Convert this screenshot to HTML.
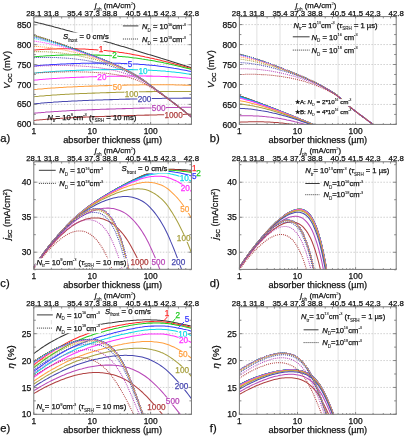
<!DOCTYPE html><html><head><meta charset="utf-8"><style>html,body{margin:0;padding:0;background:#fff;}svg{display:block;will-change:transform;}</style></head><body>
<svg width="404" height="436" viewBox="0 0 404 436" font-family='"Liberation Sans", sans-serif'>
<rect width="404" height="436" fill="#fff"/>
<line x1="51.38" y1="16.80" x2="51.38" y2="124.30" stroke="#d8d8d8" stroke-width="0.8"/>
<line x1="74.63" y1="16.80" x2="74.63" y2="124.30" stroke="#d8d8d8" stroke-width="0.8"/>
<line x1="92.21" y1="16.80" x2="92.21" y2="124.30" stroke="#d8d8d8" stroke-width="0.8"/>
<line x1="109.79" y1="16.80" x2="109.79" y2="124.30" stroke="#d8d8d8" stroke-width="0.8"/>
<line x1="133.04" y1="16.80" x2="133.04" y2="124.30" stroke="#d8d8d8" stroke-width="0.8"/>
<line x1="150.62" y1="16.80" x2="150.62" y2="124.30" stroke="#d8d8d8" stroke-width="0.8"/>
<line x1="168.21" y1="16.80" x2="168.21" y2="124.30" stroke="#d8d8d8" stroke-width="0.8"/>
<line x1="33.80" y1="104.39" x2="191.45" y2="104.39" stroke="#c4c4c4" stroke-width="0.8" stroke-dasharray="1.5,1.5"/>
<line x1="33.80" y1="84.49" x2="191.45" y2="84.49" stroke="#c4c4c4" stroke-width="0.8" stroke-dasharray="1.5,1.5"/>
<line x1="33.80" y1="64.58" x2="191.45" y2="64.58" stroke="#c4c4c4" stroke-width="0.8" stroke-dasharray="1.5,1.5"/>
<line x1="33.80" y1="44.67" x2="191.45" y2="44.67" stroke="#c4c4c4" stroke-width="0.8" stroke-dasharray="1.5,1.5"/>
<line x1="33.80" y1="24.76" x2="191.45" y2="24.76" stroke="#c4c4c4" stroke-width="0.8" stroke-dasharray="1.5,1.5"/>
<defs><clipPath id="cp0"><rect x="33.80" y="16.80" width="157.65" height="107.50"/></clipPath></defs>
<g clip-path="url(#cp0)">
<path d="M33.8,21.8 35.4,22.2 37.0,22.6 38.6,23.0 40.2,23.3 41.8,23.7 43.4,24.1 44.9,24.5 46.5,24.9 48.1,25.3 49.7,25.7 51.3,26.1 52.9,26.5 54.5,27.0 56.1,27.4 57.7,27.8 59.3,28.2 60.9,28.7 62.5,29.1 64.1,29.5 65.6,30.0 67.2,30.4 68.8,30.8 70.4,31.3 72.0,31.7 73.6,32.2 75.2,32.6 76.8,33.1 78.4,33.5 80.0,34.0 81.6,34.4 83.2,34.9 84.8,35.3 86.3,35.8 87.9,36.3 89.5,36.7 91.1,37.2 92.7,37.7 94.3,38.1 95.9,38.6 97.5,39.1 99.1,39.5 100.7,40.0 102.3,40.5 103.9,40.9 105.5,41.4 107.1,41.9 108.6,42.4 110.2,42.8 111.8,43.3 113.4,43.8 115.0,44.3 116.6,44.7 118.2,45.2 119.8,45.7 121.4,46.2 123.0,46.6 124.6,47.1 126.2,47.6 127.8,48.1 129.3,48.6 130.9,49.0 132.5,49.5 134.1,50.0 135.7,50.5 137.3,51.0 138.9,51.4 140.5,51.9 142.1,52.4 143.7,52.9 145.3,53.4 146.9,53.9 148.5,54.4 150.0,54.8 151.6,55.3 153.2,55.8 154.8,56.3 156.4,56.8 158.0,57.3 159.6,57.8 161.2,58.3 162.8,58.7 164.4,59.2 166.0,59.7 167.6,60.2 169.2,60.7 170.7,61.2 172.3,61.7 173.9,62.2 175.5,62.7 177.1,63.2 178.7,63.7 180.3,64.2 181.9,64.7 183.5,65.2 185.1,65.7 186.7,66.2 188.3,66.7 189.9,67.2 191.4,67.7" fill="none" stroke="#383838" stroke-width="1.05"/>
<path d="M33.8,50.0 35.4,49.9 37.0,49.8 38.6,49.7 40.2,49.6 41.8,49.5 43.4,49.4 44.9,49.3 46.5,49.2 48.1,49.1 49.7,49.1 51.3,49.0 52.9,49.0 54.5,48.9 56.1,48.9 57.7,48.8 59.3,48.8 60.9,48.8 62.5,48.8 64.1,48.7 65.6,48.7 67.2,48.7 68.8,48.7 70.4,48.7 72.0,48.8 73.6,48.8 75.2,48.8 76.8,48.8 78.4,48.9 80.0,48.9 81.6,49.0 83.2,49.0 84.8,49.1 86.3,49.2 87.9,49.3 89.5,49.4 91.1,49.5 92.7,49.6 94.3,49.7 95.9,49.8 97.5,49.9 99.1,50.0 100.7,50.2 102.3,50.3 103.9,50.5 105.5,50.6 107.1,50.8 108.6,51.0 110.2,51.1 111.8,51.3 113.4,51.5 115.0,51.7 116.6,51.9 118.2,52.1 119.8,52.4 121.4,52.6 123.0,52.8 124.6,53.1 126.2,53.3 127.8,53.6 129.3,53.8 130.9,54.1 132.5,54.4 134.1,54.7 135.7,55.0 137.3,55.3 138.9,55.6 140.5,55.9 142.1,56.2 143.7,56.5 145.3,56.9 146.9,57.2 148.5,57.5 150.0,57.9 151.6,58.2 153.2,58.6 154.8,59.0 156.4,59.3 158.0,59.7 159.6,60.1 161.2,60.5 162.8,60.9 164.4,61.3 166.0,61.7 167.6,62.1 169.2,62.5 170.7,62.9 172.3,63.3 173.9,63.7 175.5,64.2 177.1,64.6 178.7,65.0 180.3,65.5 181.9,65.9 183.5,66.3 185.1,66.8 186.7,67.2 188.3,67.7 189.9,68.1 191.4,68.6" fill="none" stroke="#ff2a2a" stroke-width="1.05"/>
<path d="M33.8,56.8 35.4,56.7 37.0,56.5 38.6,56.4 40.2,56.3 41.8,56.2 43.4,56.1 44.9,55.9 46.5,55.8 48.1,55.7 49.7,55.7 51.3,55.6 52.9,55.5 54.5,55.4 56.1,55.3 57.7,55.3 59.3,55.2 60.9,55.1 62.5,55.1 64.1,55.0 65.6,55.0 67.2,55.0 68.8,54.9 70.4,54.9 72.0,54.9 73.6,54.8 75.2,54.8 76.8,54.8 78.4,54.8 80.0,54.8 81.6,54.8 83.2,54.8 84.8,54.8 86.3,54.8 87.9,54.8 89.5,54.9 91.1,54.9 92.7,54.9 94.3,55.0 95.9,55.0 97.5,55.1 99.1,55.1 100.7,55.2 102.3,55.3 103.9,55.3 105.5,55.4 107.1,55.5 108.6,55.6 110.2,55.7 111.8,55.8 113.4,55.9 115.0,56.0 116.6,56.1 118.2,56.2 119.8,56.4 121.4,56.5 123.0,56.7 124.6,56.8 126.2,57.0 127.8,57.1 129.3,57.3 130.9,57.5 132.5,57.7 134.1,57.9 135.7,58.1 137.3,58.3 138.9,58.5 140.5,58.7 142.1,59.0 143.7,59.2 145.3,59.5 146.9,59.7 148.5,60.0 150.0,60.2 151.6,60.5 153.2,60.8 154.8,61.1 156.4,61.4 158.0,61.7 159.6,62.0 161.2,62.3 162.8,62.6 164.4,63.0 166.0,63.3 167.6,63.6 169.2,64.0 170.7,64.3 172.3,64.7 173.9,65.1 175.5,65.4 177.1,65.8 178.7,66.2 180.3,66.6 181.9,67.0 183.5,67.4 185.1,67.8 186.7,68.2 188.3,68.6 189.9,69.0 191.4,69.4" fill="none" stroke="#22cc22" stroke-width="1.05"/>
<path d="M33.8,66.0 35.4,65.9 37.0,65.7 38.6,65.6 40.2,65.5 41.8,65.3 43.4,65.2 44.9,65.1 46.5,65.0 48.1,64.9 49.7,64.7 51.3,64.6 52.9,64.5 54.5,64.4 56.1,64.4 57.7,64.3 59.3,64.2 60.9,64.1 62.5,64.0 64.1,63.9 65.6,63.9 67.2,63.8 68.8,63.7 70.4,63.7 72.0,63.6 73.6,63.6 75.2,63.5 76.8,63.5 78.4,63.4 80.0,63.4 81.6,63.3 83.2,63.3 84.8,63.3 86.3,63.2 87.9,63.2 89.5,63.2 91.1,63.2 92.7,63.1 94.3,63.1 95.9,63.1 97.5,63.1 99.1,63.1 100.7,63.1 102.3,63.1 103.9,63.1 105.5,63.1 107.1,63.1 108.6,63.1 110.2,63.2 111.8,63.2 113.4,63.2 115.0,63.2 116.6,63.3 118.2,63.3 119.8,63.3 121.4,63.4 123.0,63.4 124.6,63.5 126.2,63.6 127.8,63.6 129.3,63.7 130.9,63.8 132.5,63.9 134.1,63.9 135.7,64.0 137.3,64.1 138.9,64.2 140.5,64.4 142.1,64.5 143.7,64.6 145.3,64.7 146.9,64.9 148.5,65.0 150.0,65.2 151.6,65.3 153.2,65.5 154.8,65.6 156.4,65.8 158.0,66.0 159.6,66.2 161.2,66.4 162.8,66.6 164.4,66.8 166.0,67.0 167.6,67.3 169.2,67.5 170.7,67.7 172.3,68.0 173.9,68.3 175.5,68.5 177.1,68.8 178.7,69.1 180.3,69.4 181.9,69.7 183.5,70.0 185.1,70.3 186.7,70.6 188.3,70.9 189.9,71.2 191.4,71.6" fill="none" stroke="#3a3aff" stroke-width="1.05"/>
<path d="M33.8,73.1 35.4,72.9 37.0,72.8 38.6,72.6 40.2,72.5 41.8,72.4 43.4,72.2 44.9,72.1 46.5,72.0 48.1,71.9 49.7,71.8 51.3,71.7 52.9,71.5 54.5,71.4 56.1,71.3 57.7,71.3 59.3,71.2 60.9,71.1 62.5,71.0 64.1,70.9 65.6,70.8 67.2,70.7 68.8,70.7 70.4,70.6 72.0,70.5 73.6,70.4 75.2,70.4 76.8,70.3 78.4,70.3 80.0,70.2 81.6,70.1 83.2,70.1 84.8,70.0 86.3,70.0 87.9,69.9 89.5,69.9 91.1,69.9 92.7,69.8 94.3,69.8 95.9,69.8 97.5,69.7 99.1,69.7 100.7,69.7 102.3,69.6 103.9,69.6 105.5,69.6 107.1,69.6 108.6,69.6 110.2,69.5 111.8,69.5 113.4,69.5 115.0,69.5 116.6,69.5 118.2,69.5 119.8,69.5 121.4,69.5 123.0,69.5 124.6,69.5 126.2,69.5 127.8,69.6 129.3,69.6 130.9,69.6 132.5,69.6 134.1,69.7 135.7,69.7 137.3,69.7 138.9,69.8 140.5,69.8 142.1,69.9 143.7,69.9 145.3,70.0 146.9,70.1 148.5,70.1 150.0,70.2 151.6,70.3 153.2,70.4 154.8,70.5 156.4,70.6 158.0,70.7 159.6,70.8 161.2,70.9 162.8,71.0 164.4,71.1 166.0,71.3 167.6,71.4 169.2,71.6 170.7,71.7 172.3,71.9 173.9,72.0 175.5,72.2 177.1,72.4 178.7,72.6 180.3,72.8 181.9,73.0 183.5,73.2 185.1,73.4 186.7,73.7 188.3,73.9 189.9,74.1 191.4,74.4" fill="none" stroke="#10d8e8" stroke-width="1.05"/>
<path d="M33.8,80.2 35.4,80.0 37.0,79.9 38.6,79.7 40.2,79.6 41.8,79.5 43.4,79.3 44.9,79.2 46.5,79.1 48.1,79.0 49.7,78.8 51.3,78.7 52.9,78.6 54.5,78.5 56.1,78.4 57.7,78.3 59.3,78.2 60.9,78.1 62.5,78.0 64.1,77.9 65.6,77.8 67.2,77.8 68.8,77.7 70.4,77.6 72.0,77.5 73.6,77.4 75.2,77.4 76.8,77.3 78.4,77.2 80.0,77.2 81.6,77.1 83.2,77.1 84.8,77.0 86.3,76.9 87.9,76.9 89.5,76.8 91.1,76.8 92.7,76.7 94.3,76.7 95.9,76.6 97.5,76.6 99.1,76.6 100.7,76.5 102.3,76.5 103.9,76.4 105.5,76.4 107.1,76.4 108.6,76.3 110.2,76.3 111.8,76.3 113.4,76.2 115.0,76.2 116.6,76.2 118.2,76.1 119.8,76.1 121.4,76.1 123.0,76.1 124.6,76.1 126.2,76.0 127.8,76.0 129.3,76.0 130.9,76.0 132.5,76.0 134.1,76.0 135.7,76.0 137.3,76.0 138.9,76.0 140.5,76.0 142.1,76.0 143.7,76.0 145.3,76.0 146.9,76.1 148.5,76.1 150.0,76.1 151.6,76.1 153.2,76.2 154.8,76.2 156.4,76.2 158.0,76.3 159.6,76.3 161.2,76.4 162.8,76.4 164.4,76.5 166.0,76.6 167.6,76.6 169.2,76.7 170.7,76.8 172.3,76.9 173.9,77.0 175.5,77.1 177.1,77.2 178.7,77.3 180.3,77.4 181.9,77.5 183.5,77.7 185.1,77.8 186.7,77.9 188.3,78.1 189.9,78.2 191.4,78.4" fill="none" stroke="#ff30ff" stroke-width="1.05"/>
<path d="M33.8,89.6 35.4,89.4 37.0,89.3 38.6,89.1 40.2,89.0 41.8,88.9 43.4,88.7 44.9,88.6 46.5,88.5 48.1,88.3 49.7,88.2 51.3,88.1 52.9,88.0 54.5,87.9 56.1,87.8 57.7,87.7 59.3,87.6 60.9,87.5 62.5,87.4 64.1,87.3 65.6,87.2 67.2,87.1 68.8,87.0 70.4,87.0 72.0,86.9 73.6,86.8 75.2,86.7 76.8,86.7 78.4,86.6 80.0,86.5 81.6,86.4 83.2,86.4 84.8,86.3 86.3,86.3 87.9,86.2 89.5,86.1 91.1,86.1 92.7,86.0 94.3,86.0 95.9,85.9 97.5,85.9 99.1,85.8 100.7,85.8 102.3,85.7 103.9,85.7 105.5,85.6 107.1,85.6 108.6,85.5 110.2,85.5 111.8,85.4 113.4,85.4 115.0,85.3 116.6,85.3 118.2,85.3 119.8,85.2 121.4,85.2 123.0,85.2 124.6,85.1 126.2,85.1 127.8,85.0 129.3,85.0 130.9,85.0 132.5,85.0 134.1,84.9 135.7,84.9 137.3,84.9 138.9,84.9 140.5,84.8 142.1,84.8 143.7,84.8 145.3,84.8 146.9,84.8 148.5,84.7 150.0,84.7 151.6,84.7 153.2,84.7 154.8,84.7 156.4,84.7 158.0,84.7 159.6,84.7 161.2,84.7 162.8,84.7 164.4,84.7 166.0,84.7 167.6,84.7 169.2,84.8 170.7,84.8 172.3,84.8 173.9,84.8 175.5,84.9 177.1,84.9 178.7,84.9 180.3,85.0 181.9,85.0 183.5,85.1 185.1,85.1 186.7,85.2 188.3,85.2 189.9,85.3 191.4,85.4" fill="none" stroke="#ffa040" stroke-width="1.05"/>
<path d="M33.8,96.7 35.4,96.6 37.0,96.4 38.6,96.3 40.2,96.1 41.8,96.0 43.4,95.9 44.9,95.7 46.5,95.6 48.1,95.5 49.7,95.4 51.3,95.2 52.9,95.1 54.5,95.0 56.1,94.9 57.7,94.8 59.3,94.7 60.9,94.6 62.5,94.5 64.1,94.4 65.6,94.3 67.2,94.2 68.8,94.2 70.4,94.1 72.0,94.0 73.6,93.9 75.2,93.8 76.8,93.8 78.4,93.7 80.0,93.6 81.6,93.5 83.2,93.5 84.8,93.4 86.3,93.4 87.9,93.3 89.5,93.2 91.1,93.2 92.7,93.1 94.3,93.1 95.9,93.0 97.5,92.9 99.1,92.9 100.7,92.8 102.3,92.8 103.9,92.7 105.5,92.7 107.1,92.6 108.6,92.6 110.2,92.5 111.8,92.5 113.4,92.4 115.0,92.4 116.6,92.3 118.2,92.3 119.8,92.3 121.4,92.2 123.0,92.2 124.6,92.1 126.2,92.1 127.8,92.0 129.3,92.0 130.9,92.0 132.5,91.9 134.1,91.9 135.7,91.9 137.3,91.8 138.9,91.8 140.5,91.8 142.1,91.7 143.7,91.7 145.3,91.7 146.9,91.6 148.5,91.6 150.0,91.6 151.6,91.6 153.2,91.5 154.8,91.5 156.4,91.5 158.0,91.5 159.6,91.5 161.2,91.4 162.8,91.4 164.4,91.4 166.0,91.4 167.6,91.4 169.2,91.4 170.7,91.4 172.3,91.4 173.9,91.4 175.5,91.4 177.1,91.4 178.7,91.4 180.3,91.4 181.9,91.4 183.5,91.4 185.1,91.4 186.7,91.5 188.3,91.5 189.9,91.5 191.4,91.5" fill="none" stroke="#a8a040" stroke-width="1.05"/>
<path d="M33.8,103.8 35.4,103.7 37.0,103.5 38.6,103.4 40.2,103.3 41.8,103.1 43.4,103.0 44.9,102.8 46.5,102.7 48.1,102.6 49.7,102.5 51.3,102.4 52.9,102.3 54.5,102.1 56.1,102.0 57.7,101.9 59.3,101.8 60.9,101.7 62.5,101.6 64.1,101.5 65.6,101.5 67.2,101.4 68.8,101.3 70.4,101.2 72.0,101.1 73.6,101.0 75.2,101.0 76.8,100.9 78.4,100.8 80.0,100.7 81.6,100.7 83.2,100.6 84.8,100.5 86.3,100.5 87.9,100.4 89.5,100.3 91.1,100.3 92.7,100.2 94.3,100.2 95.9,100.1 97.5,100.0 99.1,100.0 100.7,99.9 102.3,99.9 103.9,99.8 105.5,99.8 107.1,99.7 108.6,99.7 110.2,99.6 111.8,99.6 113.4,99.5 115.0,99.5 116.6,99.4 118.2,99.4 119.8,99.3 121.4,99.3 123.0,99.2 124.6,99.2 126.2,99.1 127.8,99.1 129.3,99.1 130.9,99.0 132.5,99.0 134.1,98.9 135.7,98.9 137.3,98.9 138.9,98.8 140.5,98.8 142.1,98.7 143.7,98.7 145.3,98.7 146.9,98.6 148.5,98.6 150.0,98.6 151.6,98.5 153.2,98.5 154.8,98.5 156.4,98.4 158.0,98.4 159.6,98.4 161.2,98.4 162.8,98.3 164.4,98.3 166.0,98.3 167.6,98.3 169.2,98.3 170.7,98.2 172.3,98.2 173.9,98.2 175.5,98.2 177.1,98.2 178.7,98.2 180.3,98.2 181.9,98.2 183.5,98.1 185.1,98.1 186.7,98.1 188.3,98.1 189.9,98.1 191.4,98.1" fill="none" stroke="#4848b0" stroke-width="1.05"/>
<path d="M33.8,113.3 35.4,113.1 37.0,113.0 38.6,112.8 40.2,112.7 41.8,112.5 43.4,112.4 44.9,112.3 46.5,112.1 48.1,112.0 49.7,111.9 51.3,111.8 52.9,111.7 54.5,111.6 56.1,111.5 57.7,111.4 59.3,111.3 60.9,111.2 62.5,111.1 64.1,111.0 65.6,110.9 67.2,110.8 68.8,110.7 70.4,110.6 72.0,110.5 73.6,110.5 75.2,110.4 76.8,110.3 78.4,110.2 80.0,110.2 81.6,110.1 83.2,110.0 84.8,110.0 86.3,109.9 87.9,109.8 89.5,109.8 91.1,109.7 92.7,109.6 94.3,109.6 95.9,109.5 97.5,109.5 99.1,109.4 100.7,109.3 102.3,109.3 103.9,109.2 105.5,109.2 107.1,109.1 108.6,109.1 110.2,109.0 111.8,109.0 113.4,108.9 115.0,108.9 116.6,108.8 118.2,108.8 119.8,108.7 121.4,108.7 123.0,108.6 124.6,108.6 126.2,108.5 127.8,108.5 129.3,108.4 130.9,108.4 132.5,108.4 134.1,108.3 135.7,108.3 137.3,108.2 138.9,108.2 140.5,108.1 142.1,108.1 143.7,108.1 145.3,108.0 146.9,108.0 148.5,107.9 150.0,107.9 151.6,107.9 153.2,107.8 154.8,107.8 156.4,107.8 158.0,107.7 159.6,107.7 161.2,107.7 162.8,107.6 164.4,107.6 166.0,107.6 167.6,107.5 169.2,107.5 170.7,107.5 172.3,107.5 173.9,107.4 175.5,107.4 177.1,107.4 178.7,107.4 180.3,107.4 181.9,107.3 183.5,107.3 185.1,107.3 186.7,107.3 188.3,107.3 189.9,107.3 191.4,107.2" fill="none" stroke="#b848b8" stroke-width="1.05"/>
<path d="M33.8,120.4 35.4,120.3 37.0,120.1 38.6,120.0 40.2,119.8 41.8,119.7 43.4,119.5 44.9,119.4 46.5,119.3 48.1,119.2 49.7,119.0 51.3,118.9 52.9,118.8 54.5,118.7 56.1,118.6 57.7,118.5 59.3,118.4 60.9,118.3 62.5,118.2 64.1,118.1 65.6,118.0 67.2,117.9 68.8,117.8 70.4,117.7 72.0,117.7 73.6,117.6 75.2,117.5 76.8,117.4 78.4,117.4 80.0,117.3 81.6,117.2 83.2,117.1 84.8,117.1 86.3,117.0 87.9,117.0 89.5,116.9 91.1,116.8 92.7,116.8 94.3,116.7 95.9,116.6 97.5,116.6 99.1,116.5 100.7,116.5 102.3,116.4 103.9,116.4 105.5,116.3 107.1,116.3 108.6,116.2 110.2,116.2 111.8,116.1 113.4,116.1 115.0,116.0 116.6,115.9 118.2,115.9 119.8,115.8 121.4,115.8 123.0,115.7 124.6,115.7 126.2,115.7 127.8,115.6 129.3,115.6 130.9,115.5 132.5,115.5 134.1,115.4 135.7,115.4 137.3,115.3 138.9,115.3 140.5,115.3 142.1,115.2 143.7,115.2 145.3,115.1 146.9,115.1 148.5,115.1 150.0,115.0 151.6,115.0 153.2,114.9 154.8,114.9 156.4,114.9 158.0,114.8 159.6,114.8 161.2,114.8 162.8,114.7 164.4,114.7 166.0,114.7 167.6,114.6 169.2,114.6 170.7,114.6 172.3,114.5 173.9,114.5 175.5,114.5 177.1,114.5 178.7,114.4 180.3,114.4 181.9,114.4 183.5,114.4 185.1,114.3 186.7,114.3 188.3,114.3 189.9,114.3 191.4,114.3" fill="none" stroke="#b04040" stroke-width="1.05"/>
<path d="M33.8,35.0 35.4,35.5 37.0,36.0 38.6,36.5 40.2,37.0 41.8,37.5 43.4,38.0 44.9,38.5 46.5,39.0 48.1,39.6 49.7,40.1 51.3,40.6 52.9,41.2 54.5,41.7 56.1,42.2 57.7,42.8 59.3,43.3 60.9,43.9 62.5,44.4 64.1,45.0 65.6,45.6 67.2,46.1 68.8,46.7 70.4,47.3 72.0,47.9 73.6,48.4 75.2,49.0 76.8,49.6 78.4,50.2 80.0,50.7 81.6,51.3 83.2,51.9 84.8,52.5 86.3,53.1 87.9,53.6 89.5,54.2 91.1,54.8 92.7,55.4 94.3,56.0 95.9,56.6 97.5,57.2 99.1,57.9 100.7,58.5 102.3,59.1 103.9,59.8 105.5,60.4 107.1,61.1 108.6,61.8 110.2,62.4 111.8,63.1 113.4,63.8 115.0,64.5 116.6,65.2 118.2,65.9 119.8,66.7 121.4,67.4 123.0,68.2 124.6,68.9 126.2,69.7 127.8,70.5 129.3,71.4 130.9,72.2 132.5,73.1 134.1,74.1 135.7,75.0 137.3,76.0 138.9,77.1 140.5,78.1 142.1,79.2 143.7,80.3 145.3,81.5 146.9,82.6 148.5,83.8 150.0,85.0 151.6,86.2 153.2,87.4 154.8,88.6 156.4,89.8 158.0,91.0 159.6,92.2 161.2,93.4 162.8,94.6 164.4,95.8 166.0,97.0 167.6,98.2 169.2,99.4 170.7,100.6 172.3,101.8 173.9,103.0 175.5,104.3 177.1,105.5 178.7,106.7 180.3,108.0 181.9,109.3 183.5,110.6 185.1,111.9 186.7,113.2 188.3,114.5 189.9,115.8 191.4,117.1" fill="none" stroke="#383838" stroke-width="1.05" stroke-dasharray="1,1"/>
<path d="M33.8,35.4 35.4,35.9 37.0,36.4 38.6,36.8 40.2,37.3 41.8,37.8 43.4,38.3 44.9,38.8 46.5,39.3 48.1,39.8 49.7,40.3 51.3,40.8 52.9,41.4 54.5,41.9 56.1,42.4 57.7,43.0 59.3,43.5 60.9,44.0 62.5,44.6 64.1,45.1 65.6,45.7 67.2,46.3 68.8,46.8 70.4,47.4 72.0,47.9 73.6,48.5 75.2,49.1 76.8,49.7 78.4,50.2 80.0,50.8 81.6,51.4 83.2,52.0 84.8,52.5 86.3,53.1 87.9,53.7 89.5,54.3 91.1,54.9 92.7,55.5 94.3,56.1 95.9,56.7 97.5,57.3 99.1,57.9 100.7,58.5 102.3,59.2 103.9,59.8 105.5,60.5 107.1,61.1 108.6,61.8 110.2,62.5 111.8,63.2 113.4,63.8 115.0,64.5 116.6,65.2 118.2,66.0 119.8,66.7 121.4,67.4 123.0,68.2 124.6,68.9 126.2,69.7 127.8,70.5 129.3,71.4 130.9,72.2 132.5,73.1 134.1,74.1 135.7,75.0 137.3,76.0 138.9,77.1 140.5,78.1 142.1,79.2 143.7,80.3 145.3,81.5 146.9,82.6 148.5,83.8 150.0,85.0 151.6,86.2 153.2,87.4 154.8,88.6 156.4,89.8 158.0,91.0 159.6,92.2 161.2,93.4 162.8,94.6 164.4,95.8 166.0,97.0 167.6,98.2 169.2,99.4 170.7,100.6 172.3,101.8 173.9,103.0 175.5,104.3 177.1,105.5 178.7,106.7 180.3,108.0 181.9,109.3 183.5,110.6 185.1,111.9 186.7,113.2 188.3,114.5 189.9,115.8 191.4,117.1" fill="none" stroke="#ff2a2a" stroke-width="1.05" stroke-dasharray="1,1"/>
<path d="M33.8,35.8 35.4,36.3 37.0,36.7 38.6,37.2 40.2,37.6 41.8,38.1 43.4,38.6 44.9,39.1 46.5,39.5 48.1,40.0 49.7,40.5 51.3,41.0 52.9,41.6 54.5,42.1 56.1,42.6 57.7,43.1 59.3,43.6 60.9,44.2 62.5,44.7 64.1,45.3 65.6,45.8 67.2,46.4 68.8,46.9 70.4,47.5 72.0,48.0 73.6,48.6 75.2,49.2 76.8,49.7 78.4,50.3 80.0,50.9 81.6,51.4 83.2,52.0 84.8,52.6 86.3,53.2 87.9,53.7 89.5,54.3 91.1,54.9 92.7,55.5 94.3,56.1 95.9,56.7 97.5,57.3 99.1,57.9 100.7,58.6 102.3,59.2 103.9,59.8 105.5,60.5 107.1,61.1 108.6,61.8 110.2,62.5 111.8,63.2 113.4,63.9 115.0,64.6 116.6,65.3 118.2,66.0 119.8,66.7 121.4,67.4 123.0,68.2 124.6,69.0 126.2,69.7 127.8,70.6 129.3,71.4 130.9,72.3 132.5,73.1 134.1,74.1 135.7,75.0 137.3,76.0 138.9,77.1 140.5,78.1 142.1,79.2 143.7,80.3 145.3,81.5 146.9,82.6 148.5,83.8 150.0,85.0 151.6,86.2 153.2,87.4 154.8,88.6 156.4,89.8 158.0,91.0 159.6,92.2 161.2,93.4 162.8,94.6 164.4,95.8 166.0,97.0 167.6,98.2 169.2,99.4 170.7,100.6 172.3,101.8 173.9,103.0 175.5,104.3 177.1,105.5 178.7,106.7 180.3,108.0 181.9,109.3 183.5,110.6 185.1,111.9 186.7,113.2 188.3,114.5 189.9,115.8 191.4,117.1" fill="none" stroke="#22cc22" stroke-width="1.05" stroke-dasharray="1,1"/>
<path d="M33.8,36.9 35.4,37.3 37.0,37.7 38.6,38.1 40.2,38.5 41.8,38.9 43.4,39.4 44.9,39.8 46.5,40.2 48.1,40.7 49.7,41.2 51.3,41.6 52.9,42.1 54.5,42.6 56.1,43.1 57.7,43.6 59.3,44.1 60.9,44.6 62.5,45.1 64.1,45.6 65.6,46.2 67.2,46.7 68.8,47.2 70.4,47.8 72.0,48.3 73.6,48.9 75.2,49.4 76.8,50.0 78.4,50.5 80.0,51.1 81.6,51.6 83.2,52.2 84.8,52.8 86.3,53.3 87.9,53.9 89.5,54.5 91.1,55.0 92.7,55.6 94.3,56.2 95.9,56.8 97.5,57.4 99.1,58.0 100.7,58.6 102.3,59.3 103.9,59.9 105.5,60.6 107.1,61.2 108.6,61.9 110.2,62.5 111.8,63.2 113.4,63.9 115.0,64.6 116.6,65.3 118.2,66.0 119.8,66.7 121.4,67.5 123.0,68.2 124.6,69.0 126.2,69.8 127.8,70.6 129.3,71.4 130.9,72.3 132.5,73.2 134.1,74.1 135.7,75.1 137.3,76.1 138.9,77.1 140.5,78.1 142.1,79.2 143.7,80.3 145.3,81.5 146.9,82.6 148.5,83.8 150.0,85.0 151.6,86.2 153.2,87.4 154.8,88.6 156.4,89.8 158.0,91.0 159.6,92.2 161.2,93.4 162.8,94.6 164.4,95.8 166.0,97.0 167.6,98.2 169.2,99.4 170.7,100.6 172.3,101.8 173.9,103.0 175.5,104.3 177.1,105.5 178.7,106.8 180.3,108.0 181.9,109.3 183.5,110.6 185.1,111.9 186.7,113.2 188.3,114.5 189.9,115.8 191.4,117.1" fill="none" stroke="#3a3aff" stroke-width="1.05" stroke-dasharray="1,1"/>
<path d="M33.8,38.5 35.4,38.8 37.0,39.1 38.6,39.5 40.2,39.8 41.8,40.2 43.4,40.5 44.9,40.9 46.5,41.3 48.1,41.7 49.7,42.1 51.3,42.5 52.9,43.0 54.5,43.4 56.1,43.9 57.7,44.3 59.3,44.8 60.9,45.3 62.5,45.7 64.1,46.2 65.6,46.7 67.2,47.2 68.8,47.7 70.4,48.2 72.0,48.8 73.6,49.3 75.2,49.8 76.8,50.3 78.4,50.9 80.0,51.4 81.6,52.0 83.2,52.5 84.8,53.0 86.3,53.6 87.9,54.1 89.5,54.7 91.1,55.3 92.7,55.8 94.3,56.4 95.9,57.0 97.5,57.6 99.1,58.2 100.7,58.8 102.3,59.4 103.9,60.0 105.5,60.7 107.1,61.3 108.6,62.0 110.2,62.7 111.8,63.3 113.4,64.0 115.0,64.7 116.6,65.4 118.2,66.1 119.8,66.8 121.4,67.5 123.0,68.3 124.6,69.0 126.2,69.8 127.8,70.6 129.3,71.5 130.9,72.3 132.5,73.2 134.1,74.1 135.7,75.1 137.3,76.1 138.9,77.1 140.5,78.2 142.1,79.2 143.7,80.4 145.3,81.5 146.9,82.6 148.5,83.8 150.0,85.0 151.6,86.2 153.2,87.4 154.8,88.6 156.4,89.8 158.0,91.0 159.6,92.2 161.2,93.4 162.8,94.6 164.4,95.8 166.0,97.0 167.6,98.2 169.2,99.4 170.7,100.6 172.3,101.8 173.9,103.0 175.5,104.3 177.1,105.5 178.7,106.8 180.3,108.0 181.9,109.3 183.5,110.6 185.1,111.9 186.7,113.2 188.3,114.5 189.9,115.8 191.4,117.1" fill="none" stroke="#10d8e8" stroke-width="1.05" stroke-dasharray="1,1"/>
<path d="M33.8,41.1 35.4,41.3 37.0,41.5 38.6,41.8 40.2,42.0 41.8,42.3 43.4,42.6 44.9,42.9 46.5,43.2 48.1,43.5 49.7,43.8 51.3,44.2 52.9,44.5 54.5,44.9 56.1,45.3 57.7,45.7 59.3,46.1 60.9,46.5 62.5,46.9 64.1,47.3 65.6,47.8 67.2,48.2 68.8,48.7 70.4,49.1 72.0,49.6 73.6,50.1 75.2,50.6 76.8,51.1 78.4,51.5 80.0,52.0 81.6,52.6 83.2,53.1 84.8,53.6 86.3,54.1 87.9,54.6 89.5,55.2 91.1,55.7 92.7,56.2 94.3,56.8 95.9,57.4 97.5,57.9 99.1,58.5 100.7,59.1 102.3,59.7 103.9,60.3 105.5,60.9 107.1,61.6 108.6,62.2 110.2,62.9 111.8,63.5 113.4,64.2 115.0,64.9 116.6,65.5 118.2,66.2 119.8,66.9 121.4,67.7 123.0,68.4 124.6,69.1 126.2,69.9 127.8,70.7 129.3,71.5 130.9,72.4 132.5,73.3 134.1,74.2 135.7,75.1 137.3,76.1 138.9,77.2 140.5,78.2 142.1,79.3 143.7,80.4 145.3,81.5 146.9,82.7 148.5,83.8 150.0,85.0 151.6,86.2 153.2,87.4 154.8,88.6 156.4,89.8 158.0,91.0 159.6,92.2 161.2,93.4 162.8,94.6 164.4,95.8 166.0,97.0 167.6,98.2 169.2,99.4 170.7,100.6 172.3,101.8 173.9,103.0 175.5,104.3 177.1,105.5 178.7,106.8 180.3,108.0 181.9,109.3 183.5,110.6 185.1,111.9 186.7,113.2 188.3,114.5 189.9,115.8 191.4,117.1" fill="none" stroke="#ff30ff" stroke-width="1.05" stroke-dasharray="1,1"/>
<path d="M33.8,46.4 35.4,46.4 37.0,46.5 38.6,46.6 40.2,46.7 41.8,46.9 43.4,47.0 44.9,47.1 46.5,47.3 48.1,47.5 49.7,47.7 51.3,47.9 52.9,48.1 54.5,48.4 56.1,48.6 57.7,48.9 59.3,49.1 60.9,49.4 62.5,49.7 64.1,50.0 65.6,50.4 67.2,50.7 68.8,51.0 70.4,51.4 72.0,51.8 73.6,52.1 75.2,52.5 76.8,52.9 78.4,53.3 80.0,53.7 81.6,54.2 83.2,54.6 84.8,55.0 86.3,55.5 87.9,55.9 89.5,56.4 91.1,56.9 92.7,57.4 94.3,57.9 95.9,58.4 97.5,58.9 99.1,59.4 100.7,59.9 102.3,60.5 103.9,61.1 105.5,61.6 107.1,62.2 108.6,62.8 110.2,63.4 111.8,64.1 113.4,64.7 115.0,65.3 116.6,66.0 118.2,66.6 119.8,67.3 121.4,68.0 123.0,68.7 124.6,69.5 126.2,70.2 127.8,71.0 129.3,71.8 130.9,72.6 132.5,73.5 134.1,74.4 135.7,75.3 137.3,76.3 138.9,77.3 140.5,78.3 142.1,79.4 143.7,80.5 145.3,81.6 146.9,82.7 148.5,83.9 150.0,85.1 151.6,86.2 153.2,87.4 154.8,88.6 156.4,89.8 158.0,91.0 159.6,92.2 161.2,93.4 162.8,94.6 164.4,95.8 166.0,97.0 167.6,98.2 169.2,99.4 170.7,100.6 172.3,101.8 173.9,103.0 175.5,104.3 177.1,105.5 178.7,106.8 180.3,108.0 181.9,109.3 183.5,110.6 185.1,111.9 186.7,113.2 188.3,114.5 189.9,115.8 191.4,117.2" fill="none" stroke="#ffa040" stroke-width="1.05" stroke-dasharray="1,1"/>
<path d="M33.8,51.6 35.4,51.6 37.0,51.6 38.6,51.6 40.2,51.6 41.8,51.7 43.4,51.7 44.9,51.8 46.5,51.8 48.1,51.9 49.7,52.0 51.3,52.1 52.9,52.2 54.5,52.4 56.1,52.5 57.7,52.7 59.3,52.8 60.9,53.0 62.5,53.2 64.1,53.4 65.6,53.6 67.2,53.8 68.8,54.1 70.4,54.3 72.0,54.6 73.6,54.9 75.2,55.1 76.8,55.4 78.4,55.8 80.0,56.1 81.6,56.4 83.2,56.7 84.8,57.1 86.3,57.4 87.9,57.8 89.5,58.2 91.1,58.6 92.7,59.0 94.3,59.4 95.9,59.8 97.5,60.3 99.1,60.7 100.7,61.2 102.3,61.7 103.9,62.2 105.5,62.7 107.1,63.2 108.6,63.8 110.2,64.3 111.8,64.9 113.4,65.5 115.0,66.1 116.6,66.7 118.2,67.3 119.8,67.9 121.4,68.6 123.0,69.3 124.6,70.0 126.2,70.7 127.8,71.4 129.3,72.2 130.9,73.0 132.5,73.8 134.1,74.7 135.7,75.6 137.3,76.5 138.9,77.5 140.5,78.5 142.1,79.6 143.7,80.7 145.3,81.8 146.9,82.9 148.5,84.0 150.0,85.2 151.6,86.3 153.2,87.5 154.8,88.7 156.4,89.9 158.0,91.1 159.6,92.3 161.2,93.5 162.8,94.7 164.4,95.8 166.0,97.0 167.6,98.2 169.2,99.4 170.7,100.6 172.3,101.8 173.9,103.1 175.5,104.3 177.1,105.5 178.7,106.8 180.3,108.0 181.9,109.3 183.5,110.6 185.1,111.9 186.7,113.2 188.3,114.5 189.9,115.8 191.4,117.2" fill="none" stroke="#a8a040" stroke-width="1.05" stroke-dasharray="1,1"/>
<path d="M33.8,57.7 35.4,57.6 37.0,57.5 38.6,57.5 40.2,57.4 41.8,57.4 43.4,57.4 44.9,57.4 46.5,57.4 48.1,57.4 49.7,57.4 51.3,57.4 52.9,57.5 54.5,57.5 56.1,57.5 57.7,57.6 59.3,57.7 60.9,57.8 62.5,57.9 64.1,58.0 65.6,58.1 67.2,58.2 68.8,58.3 70.4,58.5 72.0,58.6 73.6,58.8 75.2,59.0 76.8,59.2 78.4,59.4 80.0,59.6 81.6,59.8 83.2,60.0 84.8,60.3 86.3,60.5 87.9,60.8 89.5,61.1 91.1,61.3 92.7,61.6 94.3,62.0 95.9,62.3 97.5,62.6 99.1,63.0 100.7,63.4 102.3,63.8 103.9,64.2 105.5,64.6 107.1,65.0 108.6,65.5 110.2,65.9 111.8,66.4 113.4,66.9 115.0,67.4 116.6,68.0 118.2,68.5 119.8,69.1 121.4,69.7 123.0,70.3 124.6,70.9 126.2,71.5 127.8,72.2 129.3,72.9 130.9,73.7 132.5,74.5 134.1,75.3 135.7,76.1 137.3,77.0 138.9,78.0 140.5,78.9 142.1,80.0 143.7,81.0 145.3,82.1 146.9,83.1 148.5,84.3 150.0,85.4 151.6,86.5 153.2,87.7 154.8,88.9 156.4,90.0 158.0,91.2 159.6,92.4 161.2,93.6 162.8,94.7 164.4,95.9 166.0,97.1 167.6,98.3 169.2,99.5 170.7,100.7 172.3,101.9 173.9,103.1 175.5,104.3 177.1,105.6 178.7,106.8 180.3,108.1 181.9,109.3 183.5,110.6 185.1,111.9 186.7,113.2 188.3,114.5 189.9,115.8 191.4,117.2" fill="none" stroke="#4848b0" stroke-width="1.05" stroke-dasharray="1,1"/>
<path d="M33.8,66.4 35.4,66.3 37.0,66.2 38.6,66.1 40.2,66.0 41.8,65.9 43.4,65.8 44.9,65.8 46.5,65.7 48.1,65.7 49.7,65.6 51.3,65.6 52.9,65.5 54.5,65.5 56.1,65.5 57.7,65.5 59.3,65.4 60.9,65.4 62.5,65.4 64.1,65.5 65.6,65.5 67.2,65.5 68.8,65.5 70.4,65.6 72.0,65.6 73.6,65.7 75.2,65.7 76.8,65.8 78.4,65.9 80.0,66.0 81.6,66.1 83.2,66.2 84.8,66.3 86.3,66.4 87.9,66.5 89.5,66.7 91.1,66.8 92.7,67.0 94.3,67.2 95.9,67.3 97.5,67.5 99.1,67.8 100.7,68.0 102.3,68.2 103.9,68.5 105.5,68.7 107.1,69.0 108.6,69.3 110.2,69.6 111.8,70.0 113.4,70.3 115.0,70.7 116.6,71.1 118.2,71.4 119.8,71.9 121.4,72.3 123.0,72.8 124.6,73.3 126.2,73.8 127.8,74.3 129.3,74.9 130.9,75.5 132.5,76.2 134.1,76.9 135.7,77.6 137.3,78.4 138.9,79.2 140.5,80.1 142.1,81.0 143.7,81.9 145.3,82.9 146.9,83.9 148.5,84.9 150.0,86.0 151.6,87.1 153.2,88.2 154.8,89.3 156.4,90.4 158.0,91.6 159.6,92.7 161.2,93.8 162.8,95.0 164.4,96.1 166.0,97.3 167.6,98.4 169.2,99.6 170.7,100.8 172.3,102.0 173.9,103.2 175.5,104.4 177.1,105.6 178.7,106.9 180.3,108.1 181.9,109.4 183.5,110.6 185.1,111.9 186.7,113.2 188.3,114.5 189.9,115.9 191.4,117.2" fill="none" stroke="#b848b8" stroke-width="1.05" stroke-dasharray="1,1"/>
<path d="M33.8,73.3 35.4,73.1 37.0,73.0 38.6,72.9 40.2,72.8 41.8,72.7 43.4,72.6 44.9,72.5 46.5,72.4 48.1,72.4 49.7,72.3 51.3,72.2 52.9,72.2 54.5,72.1 56.1,72.1 57.7,72.0 59.3,72.0 60.9,71.9 62.5,71.9 64.1,71.9 65.6,71.8 67.2,71.8 68.8,71.8 70.4,71.8 72.0,71.8 73.6,71.8 75.2,71.8 76.8,71.8 78.4,71.8 80.0,71.9 81.6,71.9 83.2,71.9 84.8,72.0 86.3,72.0 87.9,72.1 89.5,72.2 91.1,72.2 92.7,72.3 94.3,72.4 95.9,72.5 97.5,72.6 99.1,72.7 100.7,72.8 102.3,73.0 103.9,73.1 105.5,73.3 107.1,73.4 108.6,73.6 110.2,73.8 111.8,74.0 113.4,74.3 115.0,74.5 116.6,74.7 118.2,75.0 119.8,75.3 121.4,75.6 123.0,75.9 124.6,76.3 126.2,76.7 127.8,77.1 129.3,77.5 130.9,78.0 132.5,78.5 134.1,79.1 135.7,79.7 137.3,80.3 138.9,81.0 140.5,81.7 142.1,82.5 143.7,83.3 145.3,84.2 146.9,85.0 148.5,86.0 150.0,86.9 151.6,87.9 153.2,88.9 154.8,90.0 156.4,91.0 158.0,92.1 159.6,93.2 161.2,94.3 162.8,95.4 164.4,96.5 166.0,97.6 167.6,98.7 169.2,99.9 170.7,101.0 172.3,102.2 173.9,103.4 175.5,104.6 177.1,105.8 178.7,107.0 180.3,108.2 181.9,109.5 183.5,110.7 185.1,112.0 186.7,113.3 188.3,114.6 189.9,115.9 191.4,117.2" fill="none" stroke="#b04040" stroke-width="1.05" stroke-dasharray="1,1"/>
</g>
<rect x="62.00" y="32.49" width="47.83" height="8.62" fill="#fff"/>
<text x="63.00" y="38.80" font-size="7.70" fill="#111" stroke="#111" stroke-width="0.25" text-anchor="start"><tspan font-size="7.70" font-style="italic">S</tspan><tspan font-size="4.62" dy="2.77" stroke-width="0.08">front</tspan><tspan font-size="7.70" dy="-2.77">&#160;=&#160;0&#160;cm/s</tspan></text>
<line x1="122.90" y1="25.90" x2="138.40" y2="25.90" stroke="#3a3a3a" stroke-width="1"/>
<text x="142.00" y="29.00" font-size="7.60" fill="#111" stroke="#111" stroke-width="0.25" text-anchor="start"><tspan font-size="7.60" font-style="italic">N</tspan><tspan font-size="4.56" dy="2.74" stroke-width="0.08">D</tspan><tspan font-size="7.60" dy="-2.74">&#160;=&#160;10</tspan><tspan font-size="3.95" dy="-3.42" stroke-width="0.08">16</tspan><tspan font-size="7.60" dy="3.42">cm</tspan><tspan font-size="3.95" dy="-3.42" stroke-width="0.08">-3</tspan></text>
<line x1="122.90" y1="39.00" x2="138.40" y2="39.00" stroke="#3a3a3a" stroke-width="1" stroke-dasharray="1,1"/>
<text x="142.00" y="42.00" font-size="7.60" fill="#111" stroke="#111" stroke-width="0.25" text-anchor="start"><tspan font-size="7.60" font-style="italic">N</tspan><tspan font-size="4.56" dy="2.74" stroke-width="0.08">D</tspan><tspan font-size="7.60" dy="-2.74">&#160;=&#160;10</tspan><tspan font-size="3.95" dy="-3.42" stroke-width="0.08">18</tspan><tspan font-size="7.60" dy="3.42">cm</tspan><tspan font-size="3.95" dy="-3.42" stroke-width="0.08">-3</tspan></text>
<rect x="98.42" y="45.36" width="5.16" height="6.89" fill="#fff"/>
<text x="101.00" y="51.75" font-size="8.20" text-anchor="middle" fill="#ff2a2a" stroke="#ff2a2a" stroke-width="0.25">1</text>
<rect x="112.02" y="52.06" width="5.16" height="6.89" fill="#fff"/>
<text x="114.60" y="58.45" font-size="8.20" text-anchor="middle" fill="#22cc22" stroke="#22cc22" stroke-width="0.25">2</text>
<rect x="127.42" y="60.26" width="5.16" height="6.89" fill="#fff"/>
<text x="130.00" y="66.65" font-size="8.20" text-anchor="middle" fill="#3a3aff" stroke="#3a3aff" stroke-width="0.25">5</text>
<rect x="138.14" y="67.56" width="9.72" height="6.89" fill="#fff"/>
<text x="143.00" y="73.95" font-size="8.20" text-anchor="middle" fill="#10d8e8" stroke="#10d8e8" stroke-width="0.25">10</text>
<rect x="97.04" y="73.96" width="9.72" height="6.89" fill="#fff"/>
<text x="101.90" y="80.35" font-size="8.20" text-anchor="middle" fill="#ff30ff" stroke="#ff30ff" stroke-width="0.25">20</text>
<rect x="112.34" y="83.36" width="9.72" height="6.89" fill="#fff"/>
<text x="117.20" y="89.75" font-size="8.20" text-anchor="middle" fill="#ffa040" stroke="#ffa040" stroke-width="0.25">50</text>
<rect x="124.46" y="90.56" width="14.28" height="6.89" fill="#fff"/>
<text x="131.60" y="96.95" font-size="8.20" text-anchor="middle" fill="#a8a040" stroke="#a8a040" stroke-width="0.25">100</text>
<rect x="137.46" y="96.06" width="14.28" height="6.89" fill="#fff"/>
<text x="144.60" y="102.45" font-size="8.20" text-anchor="middle" fill="#4848b0" stroke="#4848b0" stroke-width="0.25">200</text>
<rect x="151.56" y="104.56" width="14.28" height="6.89" fill="#fff"/>
<text x="158.70" y="110.95" font-size="8.20" text-anchor="middle" fill="#b848b8" stroke="#b848b8" stroke-width="0.25">500</text>
<rect x="164.18" y="111.96" width="18.84" height="6.89" fill="#fff"/>
<text x="173.60" y="118.35" font-size="8.20" text-anchor="middle" fill="#b04040" stroke="#b04040" stroke-width="0.25">1000</text>
<text x="47.20" y="119.60" font-size="7.70" fill="#111" stroke="#111" stroke-width="0.25" text-anchor="start"><tspan font-size="7.70" font-style="italic">N</tspan><tspan font-size="4.62" dy="2.77" stroke-width="0.08">tr</tspan><tspan font-size="7.70" dy="-2.77">=&#160;10</tspan><tspan font-size="4.00" dy="-3.47" stroke-width="0.08">9</tspan><tspan font-size="7.70" dy="3.47">cm</tspan><tspan font-size="4.00" dy="-3.47" stroke-width="0.08">-3</tspan><tspan font-size="7.70" dy="3.47">&#160;(</tspan><tspan font-size="7.70" font-style="italic">τ</tspan><tspan font-size="4.62" dy="2.77" stroke-width="0.08">SRH</tspan><tspan font-size="7.70" dy="-2.77">&#160;=&#160;10&#160;ms)</tspan></text>
<path d="M33.80,124.30 v-2.2 M51.38,124.30 v-1.2 M61.67,124.30 v-1.2 M68.97,124.30 v-1.2 M74.63,124.30 v-1.2 M79.25,124.30 v-1.2 M83.16,124.30 v-1.2 M86.55,124.30 v-1.2 M89.54,124.30 v-1.2 M92.21,124.30 v-2.2 M109.79,124.30 v-1.2 M120.08,124.30 v-1.2 M127.38,124.30 v-1.2 M133.04,124.30 v-1.2 M137.66,124.30 v-1.2 M141.57,124.30 v-1.2 M144.96,124.30 v-1.2 M147.95,124.30 v-1.2 M150.62,124.30 v-2.2 M168.21,124.30 v-1.2 M178.49,124.30 v-1.2 M185.79,124.30 v-1.2 M191.45,124.30 v-1.2 M33.80,16.80 v1.8 M51.38,16.80 v1.8 M61.67,16.80 v1.8 M68.97,16.80 v1.8 M74.63,16.80 v1.8 M92.21,16.80 v1.8 M109.79,16.80 v1.8 M120.08,16.80 v1.8 M127.38,16.80 v1.8 M133.04,16.80 v1.8 M150.62,16.80 v1.8 M168.21,16.80 v1.8 M178.49,16.80 v1.8 M185.79,16.80 v1.8 M191.45,16.80 v1.8 M33.80,124.30 h3 M191.45,124.30 h-3 M33.80,104.39 h3 M191.45,104.39 h-3 M33.80,84.49 h3 M191.45,84.49 h-3 M33.80,64.58 h3 M191.45,64.58 h-3 M33.80,44.67 h3 M191.45,44.67 h-3 M33.80,24.76 h3 M191.45,24.76 h-3 M33.80,114.35 h2 M191.45,114.35 h-2 M33.80,94.44 h2 M191.45,94.44 h-2 M33.80,74.53 h2 M191.45,74.53 h-2 M33.80,54.62 h2 M191.45,54.62 h-2 M33.80,34.72 h2 M191.45,34.72 h-2" stroke="#787878" stroke-width="0.9" fill="none"/>
<rect x="33.80" y="16.80" width="157.65" height="107.50" fill="none" stroke="#787878" stroke-width="1.0"/>
<text x="33.80" y="133.90" font-size="8.40" text-anchor="middle" fill="#111" stroke="#111" stroke-width="0.25">1</text>
<text x="92.21" y="133.90" font-size="8.40" text-anchor="middle" fill="#111" stroke="#111" stroke-width="0.25">10</text>
<text x="150.62" y="133.90" font-size="8.40" text-anchor="middle" fill="#111" stroke="#111" stroke-width="0.25">100</text>
<text x="33.80" y="15.90" font-size="7.80" text-anchor="middle" fill="#111" stroke="#111" stroke-width="0.25">28.1</text>
<text x="51.38" y="15.90" font-size="7.80" text-anchor="middle" fill="#111" stroke="#111" stroke-width="0.25">31.8</text>
<text x="74.63" y="15.90" font-size="7.80" text-anchor="middle" fill="#111" stroke="#111" stroke-width="0.25">35.4</text>
<text x="92.21" y="15.90" font-size="7.80" text-anchor="middle" fill="#111" stroke="#111" stroke-width="0.25">37.3</text>
<text x="109.79" y="15.90" font-size="7.80" text-anchor="middle" fill="#111" stroke="#111" stroke-width="0.25">38.8</text>
<text x="133.04" y="15.90" font-size="7.80" text-anchor="middle" fill="#111" stroke="#111" stroke-width="0.25">40.5</text>
<text x="150.62" y="15.90" font-size="7.80" text-anchor="middle" fill="#111" stroke="#111" stroke-width="0.25">41.5</text>
<text x="168.21" y="15.90" font-size="7.80" text-anchor="middle" fill="#111" stroke="#111" stroke-width="0.25">42.3</text>
<text x="191.45" y="15.90" font-size="7.80" text-anchor="middle" fill="#111" stroke="#111" stroke-width="0.25">42.8</text>
<text x="94.70" y="8.40" font-size="7.80" fill="#111" stroke="#111" stroke-width="0.25" text-anchor="start"><tspan font-size="7.80" font-style="italic">j</tspan><tspan font-size="4.68" dy="2.81" stroke-width="0.08">ph</tspan><tspan font-size="7.80" dy="-2.81">&#160;(mA/cm</tspan><tspan font-size="4.06" dy="-3.51" stroke-width="0.08">2</tspan><tspan font-size="7.80" dy="3.51">)</tspan></text>
<text x="31.30" y="127.40" font-size="8.60" text-anchor="end" fill="#111" stroke="#111" stroke-width="0.25">600</text>
<text x="31.30" y="107.49" font-size="8.60" text-anchor="end" fill="#111" stroke="#111" stroke-width="0.25">650</text>
<text x="31.30" y="87.59" font-size="8.60" text-anchor="end" fill="#111" stroke="#111" stroke-width="0.25">700</text>
<text x="31.30" y="67.68" font-size="8.60" text-anchor="end" fill="#111" stroke="#111" stroke-width="0.25">750</text>
<text x="31.30" y="47.77" font-size="8.60" text-anchor="end" fill="#111" stroke="#111" stroke-width="0.25">800</text>
<text x="31.30" y="27.86" font-size="8.60" text-anchor="end" fill="#111" stroke="#111" stroke-width="0.25">850</text>
<text x="112.62" y="142.80" font-size="9.20" text-anchor="middle" fill="#111" stroke="#111" stroke-width="0.25">absorber thickness (&#181;m)</text>
<text transform="translate(9.50,69.85) rotate(-90)" font-size="9.20" text-anchor="middle" fill="#111" stroke="#111" stroke-width="0.25"><tspan font-style="italic">V</tspan><tspan font-size="6" dy="2.2">OC</tspan><tspan dy="-2.2"> (mV)</tspan></text>
<text x="0.30" y="141.60" font-size="11.20" text-anchor="start" fill="#111" stroke="#111" stroke-width="0.25">a)</text>
<line x1="256.89" y1="16.60" x2="256.89" y2="124.40" stroke="#d8d8d8" stroke-width="0.8"/>
<line x1="280.01" y1="16.60" x2="280.01" y2="124.40" stroke="#d8d8d8" stroke-width="0.8"/>
<line x1="297.50" y1="16.60" x2="297.50" y2="124.40" stroke="#d8d8d8" stroke-width="0.8"/>
<line x1="314.98" y1="16.60" x2="314.98" y2="124.40" stroke="#d8d8d8" stroke-width="0.8"/>
<line x1="338.10" y1="16.60" x2="338.10" y2="124.40" stroke="#d8d8d8" stroke-width="0.8"/>
<line x1="355.59" y1="16.60" x2="355.59" y2="124.40" stroke="#d8d8d8" stroke-width="0.8"/>
<line x1="373.08" y1="16.60" x2="373.08" y2="124.40" stroke="#d8d8d8" stroke-width="0.8"/>
<line x1="239.40" y1="104.44" x2="396.20" y2="104.44" stroke="#c4c4c4" stroke-width="0.8" stroke-dasharray="1.5,1.5"/>
<line x1="239.40" y1="84.47" x2="396.20" y2="84.47" stroke="#c4c4c4" stroke-width="0.8" stroke-dasharray="1.5,1.5"/>
<line x1="239.40" y1="64.51" x2="396.20" y2="64.51" stroke="#c4c4c4" stroke-width="0.8" stroke-dasharray="1.5,1.5"/>
<line x1="239.40" y1="44.55" x2="396.20" y2="44.55" stroke="#c4c4c4" stroke-width="0.8" stroke-dasharray="1.5,1.5"/>
<line x1="239.40" y1="24.59" x2="396.20" y2="24.59" stroke="#c4c4c4" stroke-width="0.8" stroke-dasharray="1.5,1.5"/>
<defs><clipPath id="cp1"><rect x="239.40" y="16.60" width="156.80" height="107.80"/></clipPath></defs>
<g clip-path="url(#cp1)">
<path d="M239.4,95.7 241.0,96.3 242.6,96.8 244.2,97.4 245.7,97.9 247.3,98.5 248.9,99.1 250.5,99.7 252.1,100.2 253.7,100.8 255.2,101.4 256.8,102.0 258.4,102.6 260.0,103.2 261.6,103.8 263.2,104.4 264.7,105.0 266.3,105.6 267.9,106.2 269.5,106.8 271.1,107.4 272.7,108.1 274.2,108.7 275.8,109.3 277.4,109.9 279.0,110.5 280.6,111.2 282.2,111.8 283.7,112.4 285.3,113.1 286.9,113.7 288.5,114.3 290.1,115.0 291.7,115.6 293.3,116.3 294.8,116.9 296.4,117.5 298.0,118.2 299.6,118.8 301.2,119.5 302.8,120.1 304.3,120.8 305.9,121.4 307.5,122.1 309.1,122.7 310.7,123.4 312.3,124.0 313.8,124.7 315.4,125.3 317.0,126.0 318.6,126.6 320.2,127.3 321.8,128.0 323.3,128.6 324.9,129.3 326.5,129.9 328.1,130.6 329.7,131.2 331.3,131.9 332.8,132.6 334.4,133.2 336.0,133.9 337.6,134.5 339.2,135.2 340.8,135.9 342.3,136.5 343.9,137.2 345.5,137.8 347.1,138.5 348.7,139.2 350.3,139.8 351.9,140.5 353.4,141.2 355.0,141.8 356.6,142.5 358.2,143.2 359.8,143.8 361.4,144.5 362.9,145.2 364.5,145.8 366.1,146.5 367.7,147.2 369.3,147.8 370.9,148.5 372.4,149.2 374.0,149.9 375.6,150.5 377.2,151.2 378.8,151.9 380.4,152.6 381.9,153.2 383.5,153.9 385.1,154.6 386.7,155.3 388.3,156.0 389.9,156.6 391.4,157.3 393.0,158.0 394.6,158.7 396.2,159.4" fill="none" stroke="#383838" stroke-width="1.05"/>
<path d="M239.4,95.8 241.0,96.4 242.6,96.9 244.2,97.5 245.7,98.0 247.3,98.6 248.9,99.2 250.5,99.7 252.1,100.3 253.7,100.9 255.2,101.5 256.8,102.1 258.4,102.6 260.0,103.2 261.6,103.8 263.2,104.4 264.7,105.0 266.3,105.6 267.9,106.2 269.5,106.9 271.1,107.5 272.7,108.1 274.2,108.7 275.8,109.3 277.4,109.9 279.0,110.6 280.6,111.2 282.2,111.8 283.7,112.4 285.3,113.1 286.9,113.7 288.5,114.4 290.1,115.0 291.7,115.6 293.3,116.3 294.8,116.9 296.4,117.6 298.0,118.2 299.6,118.8 301.2,119.5 302.8,120.1 304.3,120.8 305.9,121.4 307.5,122.1 309.1,122.7 310.7,123.4 312.3,124.0 313.8,124.7 315.4,125.3 317.0,126.0 318.6,126.7 320.2,127.3 321.8,128.0 323.3,128.6 324.9,129.3 326.5,129.9 328.1,130.6 329.7,131.2 331.3,131.9 332.8,132.6 334.4,133.2 336.0,133.9 337.6,134.5 339.2,135.2 340.8,135.9 342.3,136.5 343.9,137.2 345.5,137.8 347.1,138.5 348.7,139.2 350.3,139.8 351.9,140.5 353.4,141.2 355.0,141.8 356.6,142.5 358.2,143.2 359.8,143.8 361.4,144.5 362.9,145.2 364.5,145.8 366.1,146.5 367.7,147.2 369.3,147.8 370.9,148.5 372.4,149.2 374.0,149.9 375.6,150.5 377.2,151.2 378.8,151.9 380.4,152.6 381.9,153.2 383.5,153.9 385.1,154.6 386.7,155.3 388.3,156.0 389.9,156.6 391.4,157.3 393.0,158.0 394.6,158.7 396.2,159.4" fill="none" stroke="#ff2a2a" stroke-width="1.05"/>
<path d="M239.4,96.0 241.0,96.5 242.6,97.0 244.2,97.6 245.7,98.1 247.3,98.7 248.9,99.2 250.5,99.8 252.1,100.4 253.7,101.0 255.2,101.5 256.8,102.1 258.4,102.7 260.0,103.3 261.6,103.9 263.2,104.5 264.7,105.1 266.3,105.7 267.9,106.3 269.5,106.9 271.1,107.5 272.7,108.1 274.2,108.7 275.8,109.3 277.4,110.0 279.0,110.6 280.6,111.2 282.2,111.8 283.7,112.5 285.3,113.1 286.9,113.7 288.5,114.4 290.1,115.0 291.7,115.6 293.3,116.3 294.8,116.9 296.4,117.6 298.0,118.2 299.6,118.9 301.2,119.5 302.8,120.1 304.3,120.8 305.9,121.4 307.5,122.1 309.1,122.7 310.7,123.4 312.3,124.0 313.8,124.7 315.4,125.4 317.0,126.0 318.6,126.7 320.2,127.3 321.8,128.0 323.3,128.6 324.9,129.3 326.5,129.9 328.1,130.6 329.7,131.2 331.3,131.9 332.8,132.6 334.4,133.2 336.0,133.9 337.6,134.5 339.2,135.2 340.8,135.9 342.3,136.5 343.9,137.2 345.5,137.8 347.1,138.5 348.7,139.2 350.3,139.8 351.9,140.5 353.4,141.2 355.0,141.8 356.6,142.5 358.2,143.2 359.8,143.8 361.4,144.5 362.9,145.2 364.5,145.8 366.1,146.5 367.7,147.2 369.3,147.8 370.9,148.5 372.4,149.2 374.0,149.9 375.6,150.5 377.2,151.2 378.8,151.9 380.4,152.6 381.9,153.2 383.5,153.9 385.1,154.6 386.7,155.3 388.3,156.0 389.9,156.6 391.4,157.3 393.0,158.0 394.6,158.7 396.2,159.4" fill="none" stroke="#22cc22" stroke-width="1.05"/>
<path d="M239.4,96.3 241.0,96.8 242.6,97.4 244.2,97.9 245.7,98.4 247.3,98.9 248.9,99.5 250.5,100.0 252.1,100.6 253.7,101.2 255.2,101.7 256.8,102.3 258.4,102.9 260.0,103.4 261.6,104.0 263.2,104.6 264.7,105.2 266.3,105.8 267.9,106.4 269.5,107.0 271.1,107.6 272.7,108.2 274.2,108.8 275.8,109.4 277.4,110.0 279.0,110.7 280.6,111.3 282.2,111.9 283.7,112.5 285.3,113.2 286.9,113.8 288.5,114.4 290.1,115.0 291.7,115.7 293.3,116.3 294.8,117.0 296.4,117.6 298.0,118.2 299.6,118.9 301.2,119.5 302.8,120.2 304.3,120.8 305.9,121.5 307.5,122.1 309.1,122.8 310.7,123.4 312.3,124.1 313.8,124.7 315.4,125.4 317.0,126.0 318.6,126.7 320.2,127.3 321.8,128.0 323.3,128.6 324.9,129.3 326.5,129.9 328.1,130.6 329.7,131.2 331.3,131.9 332.8,132.6 334.4,133.2 336.0,133.9 337.6,134.5 339.2,135.2 340.8,135.9 342.3,136.5 343.9,137.2 345.5,137.8 347.1,138.5 348.7,139.2 350.3,139.8 351.9,140.5 353.4,141.2 355.0,141.8 356.6,142.5 358.2,143.2 359.8,143.8 361.4,144.5 362.9,145.2 364.5,145.8 366.1,146.5 367.7,147.2 369.3,147.8 370.9,148.5 372.4,149.2 374.0,149.9 375.6,150.5 377.2,151.2 378.8,151.9 380.4,152.6 381.9,153.2 383.5,153.9 385.1,154.6 386.7,155.3 388.3,156.0 389.9,156.6 391.4,157.3 393.0,158.0 394.6,158.7 396.2,159.4" fill="none" stroke="#3a3aff" stroke-width="1.05"/>
<path d="M239.4,96.9 241.0,97.4 242.6,97.9 244.2,98.3 245.7,98.9 247.3,99.4 248.9,99.9 250.5,100.4 252.1,100.9 253.7,101.5 255.2,102.0 256.8,102.6 258.4,103.1 260.0,103.7 261.6,104.3 263.2,104.8 264.7,105.4 266.3,106.0 267.9,106.6 269.5,107.2 271.1,107.8 272.7,108.4 274.2,109.0 275.8,109.6 277.4,110.2 279.0,110.8 280.6,111.4 282.2,112.0 283.7,112.6 285.3,113.2 286.9,113.9 288.5,114.5 290.1,115.1 291.7,115.8 293.3,116.4 294.8,117.0 296.4,117.7 298.0,118.3 299.6,118.9 301.2,119.6 302.8,120.2 304.3,120.9 305.9,121.5 307.5,122.1 309.1,122.8 310.7,123.4 312.3,124.1 313.8,124.7 315.4,125.4 317.0,126.0 318.6,126.7 320.2,127.3 321.8,128.0 323.3,128.6 324.9,129.3 326.5,130.0 328.1,130.6 329.7,131.3 331.3,131.9 332.8,132.6 334.4,133.2 336.0,133.9 337.6,134.6 339.2,135.2 340.8,135.9 342.3,136.5 343.9,137.2 345.5,137.9 347.1,138.5 348.7,139.2 350.3,139.8 351.9,140.5 353.4,141.2 355.0,141.8 356.6,142.5 358.2,143.2 359.8,143.8 361.4,144.5 362.9,145.2 364.5,145.8 366.1,146.5 367.7,147.2 369.3,147.8 370.9,148.5 372.4,149.2 374.0,149.9 375.6,150.5 377.2,151.2 378.8,151.9 380.4,152.6 381.9,153.2 383.5,153.9 385.1,154.6 386.7,155.3 388.3,156.0 389.9,156.6 391.4,157.3 393.0,158.0 394.6,158.7 396.2,159.4" fill="none" stroke="#10d8e8" stroke-width="1.05"/>
<path d="M239.4,97.9 241.0,98.4 242.6,98.8 244.2,99.2 245.7,99.7 247.3,100.2 248.9,100.6 250.5,101.1 252.1,101.6 253.7,102.1 255.2,102.6 256.8,103.1 258.4,103.7 260.0,104.2 261.6,104.7 263.2,105.3 264.7,105.8 266.3,106.4 267.9,106.9 269.5,107.5 271.1,108.1 272.7,108.6 274.2,109.2 275.8,109.8 277.4,110.4 279.0,111.0 280.6,111.6 282.2,112.2 283.7,112.8 285.3,113.4 286.9,114.0 288.5,114.6 290.1,115.3 291.7,115.9 293.3,116.5 294.8,117.1 296.4,117.8 298.0,118.4 299.6,119.0 301.2,119.7 302.8,120.3 304.3,120.9 305.9,121.6 307.5,122.2 309.1,122.9 310.7,123.5 312.3,124.2 313.8,124.8 315.4,125.4 317.0,126.1 318.6,126.7 320.2,127.4 321.8,128.0 323.3,128.7 324.9,129.3 326.5,130.0 328.1,130.6 329.7,131.3 331.3,131.9 332.8,132.6 334.4,133.3 336.0,133.9 337.6,134.6 339.2,135.2 340.8,135.9 342.3,136.5 343.9,137.2 345.5,137.9 347.1,138.5 348.7,139.2 350.3,139.9 351.9,140.5 353.4,141.2 355.0,141.9 356.6,142.5 358.2,143.2 359.8,143.8 361.4,144.5 362.9,145.2 364.5,145.8 366.1,146.5 367.7,147.2 369.3,147.9 370.9,148.5 372.4,149.2 374.0,149.9 375.6,150.5 377.2,151.2 378.8,151.9 380.4,152.6 381.9,153.2 383.5,153.9 385.1,154.6 386.7,155.3 388.3,156.0 389.9,156.6 391.4,157.3 393.0,158.0 394.6,158.7 396.2,159.4" fill="none" stroke="#ff30ff" stroke-width="1.05"/>
<path d="M239.4,100.6 241.0,100.9 242.6,101.2 244.2,101.5 245.7,101.8 247.3,102.2 248.9,102.6 250.5,103.0 252.1,103.4 253.7,103.8 255.2,104.2 256.8,104.6 258.4,105.1 260.0,105.5 261.6,106.0 263.2,106.5 264.7,106.9 266.3,107.4 267.9,107.9 269.5,108.4 271.1,109.0 272.7,109.5 274.2,110.0 275.8,110.6 277.4,111.1 279.0,111.7 280.6,112.2 282.2,112.8 283.7,113.3 285.3,113.9 286.9,114.5 288.5,115.1 290.1,115.7 291.7,116.3 293.3,116.9 294.8,117.5 296.4,118.1 298.0,118.7 299.6,119.3 301.2,119.9 302.8,120.6 304.3,121.2 305.9,121.8 307.5,122.4 309.1,123.1 310.7,123.7 312.3,124.3 313.8,125.0 315.4,125.6 317.0,126.2 318.6,126.9 320.2,127.5 321.8,128.1 323.3,128.8 324.9,129.4 326.5,130.1 328.1,130.7 329.7,131.4 331.3,132.0 332.8,132.7 334.4,133.3 336.0,134.0 337.6,134.6 339.2,135.3 340.8,135.9 342.3,136.6 343.9,137.3 345.5,137.9 347.1,138.6 348.7,139.2 350.3,139.9 351.9,140.6 353.4,141.2 355.0,141.9 356.6,142.5 358.2,143.2 359.8,143.9 361.4,144.5 362.9,145.2 364.5,145.9 366.1,146.5 367.7,147.2 369.3,147.9 370.9,148.5 372.4,149.2 374.0,149.9 375.6,150.6 377.2,151.2 378.8,151.9 380.4,152.6 381.9,153.3 383.5,153.9 385.1,154.6 386.7,155.3 388.3,156.0 389.9,156.6 391.4,157.3 393.0,158.0 394.6,158.7 396.2,159.4" fill="none" stroke="#ffa040" stroke-width="1.05"/>
<path d="M239.4,103.9 241.0,104.0 242.6,104.2 244.2,104.4 245.7,104.7 247.3,104.9 248.9,105.2 250.5,105.5 252.1,105.7 253.7,106.0 255.2,106.4 256.8,106.7 258.4,107.0 260.0,107.4 261.6,107.8 263.2,108.2 264.7,108.6 266.3,109.0 267.9,109.4 269.5,109.8 271.1,110.3 272.7,110.7 274.2,111.2 275.8,111.7 277.4,112.2 279.0,112.7 280.6,113.2 282.2,113.7 283.7,114.2 285.3,114.7 286.9,115.3 288.5,115.8 290.1,116.4 291.7,116.9 293.3,117.5 294.8,118.0 296.4,118.6 298.0,119.2 299.6,119.8 301.2,120.4 302.8,121.0 304.3,121.6 305.9,122.2 307.5,122.8 309.1,123.4 310.7,124.0 312.3,124.6 313.8,125.2 315.4,125.8 317.0,126.5 318.6,127.1 320.2,127.7 321.8,128.3 323.3,129.0 324.9,129.6 326.5,130.2 328.1,130.9 329.7,131.5 331.3,132.2 332.8,132.8 334.4,133.4 336.0,134.1 337.6,134.7 339.2,135.4 340.8,136.0 342.3,136.7 343.9,137.3 345.5,138.0 347.1,138.6 348.7,139.3 350.3,140.0 351.9,140.6 353.4,141.3 355.0,141.9 356.6,142.6 358.2,143.2 359.8,143.9 361.4,144.6 362.9,145.2 364.5,145.9 366.1,146.6 367.7,147.2 369.3,147.9 370.9,148.6 372.4,149.2 374.0,149.9 375.6,150.6 377.2,151.3 378.8,151.9 380.4,152.6 381.9,153.3 383.5,153.9 385.1,154.6 386.7,155.3 388.3,156.0 389.9,156.7 391.4,157.3 393.0,158.0 394.6,158.7 396.2,159.4" fill="none" stroke="#a8a040" stroke-width="1.05"/>
<path d="M239.4,108.3 241.0,108.4 242.6,108.5 244.2,108.6 245.7,108.7 247.3,108.8 248.9,109.0 250.5,109.1 252.1,109.3 253.7,109.5 255.2,109.7 256.8,109.9 258.4,110.2 260.0,110.4 261.6,110.7 263.2,110.9 264.7,111.2 266.3,111.5 267.9,111.8 269.5,112.2 271.1,112.5 272.7,112.9 274.2,113.2 275.8,113.6 277.4,114.0 279.0,114.4 280.6,114.8 282.2,115.3 283.7,115.7 285.3,116.1 286.9,116.6 288.5,117.1 290.1,117.6 291.7,118.1 293.3,118.6 294.8,119.1 296.4,119.6 298.0,120.1 299.6,120.6 301.2,121.2 302.8,121.7 304.3,122.3 305.9,122.8 307.5,123.4 309.1,124.0 310.7,124.6 312.3,125.1 313.8,125.7 315.4,126.3 317.0,126.9 318.6,127.5 320.2,128.1 321.8,128.7 323.3,129.3 324.9,129.9 326.5,130.5 328.1,131.2 329.7,131.8 331.3,132.4 332.8,133.0 334.4,133.7 336.0,134.3 337.6,134.9 339.2,135.6 340.8,136.2 342.3,136.8 343.9,137.5 345.5,138.1 347.1,138.8 348.7,139.4 350.3,140.1 351.9,140.7 353.4,141.4 355.0,142.0 356.6,142.7 358.2,143.3 359.8,144.0 361.4,144.6 362.9,145.3 364.5,146.0 366.1,146.6 367.7,147.3 369.3,147.9 370.9,148.6 372.4,149.3 374.0,149.9 375.6,150.6 377.2,151.3 378.8,152.0 380.4,152.6 381.9,153.3 383.5,154.0 385.1,154.7 386.7,155.3 388.3,156.0 389.9,156.7 391.4,157.4 393.0,158.0 394.6,158.7 396.2,159.4" fill="none" stroke="#4848b0" stroke-width="1.05"/>
<path d="M239.4,115.8 241.0,115.8 242.6,115.7 244.2,115.7 245.7,115.7 247.3,115.7 248.9,115.7 250.5,115.8 252.1,115.8 253.7,115.9 255.2,115.9 256.8,116.0 258.4,116.1 260.0,116.2 261.6,116.3 263.2,116.4 264.7,116.6 266.3,116.7 267.9,116.9 269.5,117.1 271.1,117.2 272.7,117.4 274.2,117.7 275.8,117.9 277.4,118.1 279.0,118.4 280.6,118.6 282.2,118.9 283.7,119.2 285.3,119.5 286.9,119.9 288.5,120.2 290.1,120.5 291.7,120.9 293.3,121.3 294.8,121.7 296.4,122.0 298.0,122.5 299.6,122.9 301.2,123.3 302.8,123.7 304.3,124.2 305.9,124.7 307.5,125.1 309.1,125.6 310.7,126.1 312.3,126.6 313.8,127.1 315.4,127.6 317.0,128.1 318.6,128.7 320.2,129.2 321.8,129.7 323.3,130.3 324.9,130.8 326.5,131.4 328.1,132.0 329.7,132.5 331.3,133.1 332.8,133.7 334.4,134.3 336.0,134.9 337.6,135.5 339.2,136.1 340.8,136.7 342.3,137.3 343.9,137.9 345.5,138.5 347.1,139.2 348.7,139.8 350.3,140.4 351.9,141.0 353.4,141.7 355.0,142.3 356.6,142.9 358.2,143.6 359.8,144.2 361.4,144.9 362.9,145.5 364.5,146.2 366.1,146.8 367.7,147.4 369.3,148.1 370.9,148.8 372.4,149.4 374.0,150.1 375.6,150.7 377.2,151.4 378.8,152.1 380.4,152.7 381.9,153.4 383.5,154.1 385.1,154.7 386.7,155.4 388.3,156.1 389.9,156.7 391.4,157.4 393.0,158.1 394.6,158.8 396.2,159.4" fill="none" stroke="#b848b8" stroke-width="1.05"/>
<path d="M239.4,122.2 241.0,122.1 242.6,122.0 244.2,122.0 245.7,121.9 247.3,121.9 248.9,121.8 250.5,121.8 252.1,121.8 253.7,121.7 255.2,121.7 256.8,121.7 258.4,121.8 260.0,121.8 261.6,121.8 263.2,121.8 264.7,121.9 266.3,121.9 267.9,122.0 269.5,122.1 271.1,122.2 272.7,122.3 274.2,122.4 275.8,122.5 277.4,122.6 279.0,122.8 280.6,122.9 282.2,123.1 283.7,123.3 285.3,123.5 286.9,123.7 288.5,123.9 290.1,124.1 291.7,124.4 293.3,124.6 294.8,124.9 296.4,125.2 298.0,125.5 299.6,125.8 301.2,126.1 302.8,126.4 304.3,126.8 305.9,127.1 307.5,127.5 309.1,127.8 310.7,128.2 312.3,128.6 313.8,129.0 315.4,129.5 317.0,129.9 318.6,130.3 320.2,130.8 321.8,131.3 323.3,131.7 324.9,132.2 326.5,132.7 328.1,133.2 329.7,133.7 331.3,134.2 332.8,134.7 334.4,135.3 336.0,135.8 337.6,136.4 339.2,136.9 340.8,137.5 342.3,138.0 343.9,138.6 345.5,139.2 347.1,139.8 348.7,140.4 350.3,140.9 351.9,141.5 353.4,142.1 355.0,142.8 356.6,143.4 358.2,144.0 359.8,144.6 361.4,145.2 362.9,145.8 364.5,146.5 366.1,147.1 367.7,147.7 369.3,148.4 370.9,149.0 372.4,149.6 374.0,150.3 375.6,150.9 377.2,151.6 378.8,152.2 380.4,152.9 381.9,153.5 383.5,154.2 385.1,154.9 386.7,155.5 388.3,156.2 389.9,156.9 391.4,157.5 393.0,158.2 394.6,158.9 396.2,159.5" fill="none" stroke="#b04040" stroke-width="1.05"/>
<path d="M239.4,54.1 241.0,54.5 242.6,54.9 244.2,55.4 245.7,55.8 247.3,56.2 248.9,56.7 250.5,57.2 252.1,57.6 253.7,58.1 255.2,58.6 256.8,59.1 258.4,59.7 260.0,60.2 261.6,60.7 263.2,61.3 264.7,61.8 266.3,62.4 267.9,62.9 269.5,63.5 271.1,64.1 272.7,64.7 274.2,65.3 275.8,65.9 277.4,66.5 279.0,67.1 280.6,67.8 282.2,68.4 283.7,69.0 285.3,69.6 286.9,70.2 288.5,70.8 290.1,71.5 291.7,72.1 293.3,72.7 294.8,73.4 296.4,74.0 298.0,74.7 299.6,75.3 301.2,76.0 302.8,76.7 304.3,77.4 305.9,78.1 307.5,78.8 309.1,79.5 310.7,80.2 312.3,81.0 313.8,81.8 315.4,82.5 317.0,83.3 318.6,84.2 320.2,85.0 321.8,85.8 323.3,86.7 324.9,87.6 326.5,88.5 328.1,89.5 329.7,90.4 331.3,91.4 332.8,92.4 334.4,93.4 336.0,94.5 337.6,95.7 339.2,97.1 340.8,98.5 342.3,100.0 343.9,101.6 345.5,103.1 347.1,104.5 348.7,105.8 350.3,107.1 351.9,108.4 353.4,109.6 355.0,110.9 356.6,112.1 358.2,113.3 359.8,114.5 361.4,115.7 362.9,116.9 364.5,118.0 366.1,119.2 367.7,120.4 369.3,121.6 370.9,122.8 372.4,124.1 374.0,125.3 375.6,126.5 377.2,127.8 378.8,129.0 380.4,130.2 381.9,131.5 383.5,132.7 385.1,134.0 386.7,135.2 388.3,136.5 389.9,137.7 391.4,139.0 393.0,140.2 394.6,141.5 396.2,142.7" fill="none" stroke="#383838" stroke-width="1.05" stroke-dasharray="1,1"/>
<path d="M239.4,54.2 241.0,54.6 242.6,55.0 244.2,55.4 245.7,55.8 247.3,56.3 248.9,56.7 250.5,57.2 252.1,57.7 253.7,58.2 255.2,58.7 256.8,59.2 258.4,59.7 260.0,60.2 261.6,60.7 263.2,61.3 264.7,61.8 266.3,62.4 267.9,63.0 269.5,63.5 271.1,64.1 272.7,64.7 274.2,65.3 275.8,65.9 277.4,66.5 279.0,67.2 280.6,67.8 282.2,68.4 283.7,69.0 285.3,69.6 286.9,70.2 288.5,70.9 290.1,71.5 291.7,72.1 293.3,72.7 294.8,73.4 296.4,74.0 298.0,74.7 299.6,75.3 301.2,76.0 302.8,76.7 304.3,77.4 305.9,78.1 307.5,78.8 309.1,79.5 310.7,80.3 312.3,81.0 313.8,81.8 315.4,82.6 317.0,83.3 318.6,84.2 320.2,85.0 321.8,85.8 323.3,86.7 324.9,87.6 326.5,88.5 328.1,89.5 329.7,90.4 331.3,91.4 332.8,92.4 334.4,93.4 336.0,94.5 337.6,95.7 339.2,97.1 340.8,98.5 342.3,100.0 343.9,101.6 345.5,103.1 347.1,104.5 348.7,105.8 350.3,107.1 351.9,108.4 353.4,109.6 355.0,110.9 356.6,112.1 358.2,113.3 359.8,114.5 361.4,115.7 362.9,116.9 364.5,118.0 366.1,119.2 367.7,120.4 369.3,121.6 370.9,122.8 372.4,124.1 374.0,125.3 375.6,126.5 377.2,127.8 378.8,129.0 380.4,130.2 381.9,131.5 383.5,132.7 385.1,134.0 386.7,135.2 388.3,136.5 389.9,137.7 391.4,139.0 393.0,140.2 394.6,141.5 396.2,142.7" fill="none" stroke="#ff2a2a" stroke-width="1.05" stroke-dasharray="1,1"/>
<path d="M239.4,54.2 241.0,54.6 242.6,55.0 244.2,55.5 245.7,55.9 247.3,56.3 248.9,56.8 250.5,57.3 252.1,57.7 253.7,58.2 255.2,58.7 256.8,59.2 258.4,59.7 260.0,60.2 261.6,60.8 263.2,61.3 264.7,61.9 266.3,62.4 267.9,63.0 269.5,63.6 271.1,64.1 272.7,64.7 274.2,65.3 275.8,65.9 277.4,66.6 279.0,67.2 280.6,67.8 282.2,68.4 283.7,69.0 285.3,69.6 286.9,70.2 288.5,70.9 290.1,71.5 291.7,72.1 293.3,72.7 294.8,73.4 296.4,74.0 298.0,74.7 299.6,75.3 301.2,76.0 302.8,76.7 304.3,77.4 305.9,78.1 307.5,78.8 309.1,79.5 310.7,80.3 312.3,81.0 313.8,81.8 315.4,82.6 317.0,83.4 318.6,84.2 320.2,85.0 321.8,85.9 323.3,86.7 324.9,87.6 326.5,88.5 328.1,89.5 329.7,90.4 331.3,91.4 332.8,92.4 334.4,93.4 336.0,94.5 337.6,95.7 339.2,97.1 340.8,98.5 342.3,100.0 343.9,101.6 345.5,103.1 347.1,104.5 348.7,105.8 350.3,107.1 351.9,108.4 353.4,109.6 355.0,110.9 356.6,112.1 358.2,113.3 359.8,114.5 361.4,115.7 362.9,116.9 364.5,118.0 366.1,119.2 367.7,120.4 369.3,121.6 370.9,122.8 372.4,124.1 374.0,125.3 375.6,126.5 377.2,127.8 378.8,129.0 380.4,130.2 381.9,131.5 383.5,132.7 385.1,134.0 386.7,135.2 388.3,136.5 389.9,137.7 391.4,139.0 393.0,140.2 394.6,141.5 396.2,142.7" fill="none" stroke="#22cc22" stroke-width="1.05" stroke-dasharray="1,1"/>
<path d="M239.4,54.4 241.0,54.8 242.6,55.2 244.2,55.6 245.7,56.0 247.3,56.5 248.9,56.9 250.5,57.4 252.1,57.8 253.7,58.3 255.2,58.8 256.8,59.3 258.4,59.8 260.0,60.3 261.6,60.9 263.2,61.4 264.7,61.9 266.3,62.5 267.9,63.1 269.5,63.6 271.1,64.2 272.7,64.8 274.2,65.4 275.8,66.0 277.4,66.6 279.0,67.2 280.6,67.8 282.2,68.4 283.7,69.0 285.3,69.7 286.9,70.3 288.5,70.9 290.1,71.5 291.7,72.1 293.3,72.8 294.8,73.4 296.4,74.1 298.0,74.7 299.6,75.4 301.2,76.0 302.8,76.7 304.3,77.4 305.9,78.1 307.5,78.8 309.1,79.5 310.7,80.3 312.3,81.0 313.8,81.8 315.4,82.6 317.0,83.4 318.6,84.2 320.2,85.0 321.8,85.9 323.3,86.7 324.9,87.6 326.5,88.5 328.1,89.5 329.7,90.4 331.3,91.4 332.8,92.4 334.4,93.4 336.0,94.5 337.6,95.7 339.2,97.1 340.8,98.5 342.3,100.1 343.9,101.6 345.5,103.1 347.1,104.5 348.7,105.8 350.3,107.1 351.9,108.4 353.4,109.6 355.0,110.9 356.6,112.1 358.2,113.3 359.8,114.5 361.4,115.7 362.9,116.9 364.5,118.1 366.1,119.2 367.7,120.4 369.3,121.6 370.9,122.8 372.4,124.1 374.0,125.3 375.6,126.5 377.2,127.8 378.8,129.0 380.4,130.2 381.9,131.5 383.5,132.7 385.1,134.0 386.7,135.2 388.3,136.5 389.9,137.7 391.4,139.0 393.0,140.2 394.6,141.5 396.2,142.7" fill="none" stroke="#3a3aff" stroke-width="1.05" stroke-dasharray="1,1"/>
<path d="M239.4,54.7 241.0,55.1 242.6,55.5 244.2,55.9 245.7,56.3 247.3,56.7 248.9,57.2 250.5,57.6 252.1,58.0 253.7,58.5 255.2,59.0 256.8,59.5 258.4,60.0 260.0,60.5 261.6,61.0 263.2,61.5 264.7,62.1 266.3,62.6 267.9,63.2 269.5,63.7 271.1,64.3 272.7,64.9 274.2,65.5 275.8,66.1 277.4,66.7 279.0,67.3 280.6,67.9 282.2,68.5 283.7,69.1 285.3,69.7 286.9,70.3 288.5,70.9 290.1,71.6 291.7,72.2 293.3,72.8 294.8,73.4 296.4,74.1 298.0,74.7 299.6,75.4 301.2,76.1 302.8,76.7 304.3,77.4 305.9,78.1 307.5,78.8 309.1,79.5 310.7,80.3 312.3,81.0 313.8,81.8 315.4,82.6 317.0,83.4 318.6,84.2 320.2,85.0 321.8,85.9 323.3,86.7 324.9,87.6 326.5,88.5 328.1,89.5 329.7,90.4 331.3,91.4 332.8,92.4 334.4,93.4 336.0,94.5 337.6,95.7 339.2,97.1 340.8,98.5 342.3,100.1 343.9,101.6 345.5,103.1 347.1,104.5 348.7,105.8 350.3,107.1 351.9,108.4 353.4,109.6 355.0,110.9 356.6,112.1 358.2,113.3 359.8,114.5 361.4,115.7 362.9,116.9 364.5,118.1 366.1,119.2 367.7,120.4 369.3,121.6 370.9,122.8 372.4,124.1 374.0,125.3 375.6,126.5 377.2,127.8 378.8,129.0 380.4,130.2 381.9,131.5 383.5,132.7 385.1,134.0 386.7,135.2 388.3,136.5 389.9,137.7 391.4,139.0 393.0,140.2 394.6,141.5 396.2,142.7" fill="none" stroke="#10d8e8" stroke-width="1.05" stroke-dasharray="1,1"/>
<path d="M239.4,55.3 241.0,55.7 242.6,56.0 244.2,56.4 245.7,56.8 247.3,57.2 248.9,57.6 250.5,58.0 252.1,58.4 253.7,58.9 255.2,59.3 256.8,59.8 258.4,60.3 260.0,60.8 261.6,61.3 263.2,61.8 264.7,62.3 266.3,62.8 267.9,63.4 269.5,63.9 271.1,64.5 272.7,65.1 274.2,65.6 275.8,66.2 277.4,66.8 279.0,67.4 280.6,68.0 282.2,68.6 283.7,69.2 285.3,69.8 286.9,70.4 288.5,71.0 290.1,71.7 291.7,72.3 293.3,72.9 294.8,73.5 296.4,74.2 298.0,74.8 299.6,75.5 301.2,76.1 302.8,76.8 304.3,77.5 305.9,78.2 307.5,78.9 309.1,79.6 310.7,80.3 312.3,81.1 313.8,81.8 315.4,82.6 317.0,83.4 318.6,84.2 320.2,85.0 321.8,85.9 323.3,86.8 324.9,87.6 326.5,88.6 328.1,89.5 329.7,90.4 331.3,91.4 332.8,92.4 334.4,93.4 336.0,94.5 337.6,95.7 339.2,97.1 340.8,98.5 342.3,100.1 343.9,101.6 345.5,103.1 347.1,104.5 348.7,105.8 350.3,107.1 351.9,108.4 353.4,109.6 355.0,110.9 356.6,112.1 358.2,113.3 359.8,114.5 361.4,115.7 362.9,116.9 364.5,118.1 366.1,119.2 367.7,120.4 369.3,121.6 370.9,122.8 372.4,124.1 374.0,125.3 375.6,126.5 377.2,127.8 378.8,129.0 380.4,130.2 381.9,131.5 383.5,132.7 385.1,134.0 386.7,135.2 388.3,136.5 389.9,137.7 391.4,139.0 393.0,140.2 394.6,141.5 396.2,142.7" fill="none" stroke="#ff30ff" stroke-width="1.05" stroke-dasharray="1,1"/>
<path d="M239.4,56.9 241.0,57.2 242.6,57.5 244.2,57.8 245.7,58.1 247.3,58.4 248.9,58.8 250.5,59.2 252.1,59.5 253.7,59.9 255.2,60.3 256.8,60.7 258.4,61.2 260.0,61.6 261.6,62.1 263.2,62.5 264.7,63.0 266.3,63.5 267.9,64.0 269.5,64.5 271.1,65.1 272.7,65.6 274.2,66.1 275.8,66.7 277.4,67.3 279.0,67.8 280.6,68.4 282.2,69.0 283.7,69.6 285.3,70.1 286.9,70.7 288.5,71.3 290.1,71.9 291.7,72.5 293.3,73.1 294.8,73.7 296.4,74.4 298.0,75.0 299.6,75.6 301.2,76.3 302.8,76.9 304.3,77.6 305.9,78.3 307.5,79.0 309.1,79.7 310.7,80.4 312.3,81.2 313.8,81.9 315.4,82.7 317.0,83.5 318.6,84.3 320.2,85.1 321.8,86.0 323.3,86.8 324.9,87.7 326.5,88.6 328.1,89.5 329.7,90.5 331.3,91.5 332.8,92.5 334.4,93.5 336.0,94.5 337.6,95.7 339.2,97.1 340.8,98.6 342.3,100.1 343.9,101.6 345.5,103.1 347.1,104.5 348.7,105.8 350.3,107.1 351.9,108.4 353.4,109.7 355.0,110.9 356.6,112.1 358.2,113.3 359.8,114.5 361.4,115.7 362.9,116.9 364.5,118.1 366.1,119.2 367.7,120.4 369.3,121.6 370.9,122.8 372.4,124.1 374.0,125.3 375.6,126.5 377.2,127.8 378.8,129.0 380.4,130.2 381.9,131.5 383.5,132.7 385.1,134.0 386.7,135.2 388.3,136.5 389.9,137.7 391.4,139.0 393.0,140.2 394.6,141.5 396.2,142.7" fill="none" stroke="#ffa040" stroke-width="1.05" stroke-dasharray="1,1"/>
<path d="M239.4,59.1 241.0,59.3 242.6,59.5 244.2,59.7 245.7,60.0 247.3,60.3 248.9,60.5 250.5,60.8 252.1,61.1 253.7,61.4 255.2,61.8 256.8,62.1 258.4,62.5 260.0,62.9 261.6,63.3 263.2,63.7 264.7,64.1 266.3,64.5 267.9,65.0 269.5,65.5 271.1,65.9 272.7,66.4 274.2,66.9 275.8,67.4 277.4,68.0 279.0,68.5 280.6,69.0 282.2,69.6 283.7,70.1 285.3,70.7 286.9,71.2 288.5,71.8 290.1,72.3 291.7,72.9 293.3,73.5 294.8,74.1 296.4,74.7 298.0,75.3 299.6,75.9 301.2,76.6 302.8,77.2 304.3,77.9 305.9,78.5 307.5,79.2 309.1,79.9 310.7,80.6 312.3,81.3 313.8,82.1 315.4,82.8 317.0,83.6 318.6,84.4 320.2,85.2 321.8,86.1 323.3,86.9 324.9,87.8 326.5,88.7 328.1,89.6 329.7,90.5 331.3,91.5 332.8,92.5 334.4,93.5 336.0,94.6 337.6,95.8 339.2,97.1 340.8,98.6 342.3,100.1 343.9,101.6 345.5,103.1 347.1,104.5 348.7,105.9 350.3,107.2 351.9,108.4 353.4,109.7 355.0,110.9 356.6,112.1 358.2,113.3 359.8,114.5 361.4,115.7 362.9,116.9 364.5,118.1 366.1,119.2 367.7,120.4 369.3,121.6 370.9,122.8 372.4,124.1 374.0,125.3 375.6,126.5 377.2,127.8 378.8,129.0 380.4,130.2 381.9,131.5 383.5,132.7 385.1,134.0 386.7,135.2 388.3,136.5 389.9,137.7 391.4,139.0 393.0,140.2 394.6,141.5 396.2,142.7" fill="none" stroke="#a8a040" stroke-width="1.05" stroke-dasharray="1,1"/>
<path d="M239.4,62.4 241.0,62.6 242.6,62.7 244.2,62.8 245.7,63.0 247.3,63.1 248.9,63.3 250.5,63.5 252.1,63.7 253.7,64.0 255.2,64.2 256.8,64.5 258.4,64.7 260.0,65.0 261.6,65.3 263.2,65.7 264.7,66.0 266.3,66.3 267.9,66.7 269.5,67.1 271.1,67.5 272.7,67.9 274.2,68.3 275.8,68.8 277.4,69.2 279.0,69.7 280.6,70.2 282.2,70.6 283.7,71.1 285.3,71.6 286.9,72.1 288.5,72.6 290.1,73.2 291.7,73.7 293.3,74.2 294.8,74.8 296.4,75.3 298.0,75.9 299.6,76.5 301.2,77.1 302.8,77.7 304.3,78.3 305.9,79.0 307.5,79.6 309.1,80.3 310.7,81.0 312.3,81.7 313.8,82.4 315.4,83.1 317.0,83.9 318.6,84.7 320.2,85.4 321.8,86.3 323.3,87.1 324.9,88.0 326.5,88.8 328.1,89.7 329.7,90.7 331.3,91.6 332.8,92.6 334.4,93.6 336.0,94.7 337.6,95.9 339.2,97.2 340.8,98.6 342.3,100.2 343.9,101.7 345.5,103.2 347.1,104.6 348.7,105.9 350.3,107.2 351.9,108.4 353.4,109.7 355.0,110.9 356.6,112.1 358.2,113.3 359.8,114.5 361.4,115.7 362.9,116.9 364.5,118.1 366.1,119.3 367.7,120.4 369.3,121.6 370.9,122.8 372.4,124.1 374.0,125.3 375.6,126.5 377.2,127.8 378.8,129.0 380.4,130.2 381.9,131.5 383.5,132.7 385.1,134.0 386.7,135.2 388.3,136.5 389.9,137.7 391.4,139.0 393.0,140.2 394.6,141.5 396.2,142.7" fill="none" stroke="#4848b0" stroke-width="1.05" stroke-dasharray="1,1"/>
<path d="M239.4,68.7 241.0,68.7 242.6,68.7 244.2,68.7 245.7,68.8 247.3,68.8 248.9,68.9 250.5,68.9 252.1,69.0 253.7,69.1 255.2,69.2 256.8,69.3 258.4,69.5 260.0,69.6 261.6,69.8 263.2,70.0 264.7,70.2 266.3,70.4 267.9,70.6 269.5,70.8 271.1,71.1 272.7,71.4 274.2,71.7 275.8,72.0 277.4,72.3 279.0,72.6 280.6,73.0 282.2,73.3 283.7,73.7 285.3,74.1 286.9,74.4 288.5,74.8 290.1,75.3 291.7,75.7 293.3,76.1 294.8,76.6 296.4,77.0 298.0,77.5 299.6,78.0 301.2,78.5 302.8,79.1 304.3,79.6 305.9,80.2 307.5,80.7 309.1,81.3 310.7,82.0 312.3,82.6 313.8,83.3 315.4,83.9 317.0,84.6 318.6,85.3 320.2,86.1 321.8,86.9 323.3,87.6 324.9,88.5 326.5,89.3 328.1,90.2 329.7,91.1 331.3,92.0 332.8,92.9 334.4,93.9 336.0,94.9 337.6,96.1 339.2,97.4 340.8,98.8 342.3,100.3 343.9,101.8 345.5,103.3 347.1,104.7 348.7,106.0 350.3,107.3 351.9,108.5 353.4,109.7 355.0,111.0 356.6,112.2 358.2,113.4 359.8,114.6 361.4,115.7 362.9,116.9 364.5,118.1 366.1,119.3 367.7,120.5 369.3,121.7 370.9,122.9 372.4,124.1 374.0,125.3 375.6,126.5 377.2,127.8 378.8,129.0 380.4,130.3 381.9,131.5 383.5,132.7 385.1,134.0 386.7,135.2 388.3,136.5 389.9,137.7 391.4,139.0 393.0,140.2 394.6,141.5 396.2,142.7" fill="none" stroke="#b848b8" stroke-width="1.05" stroke-dasharray="1,1"/>
<path d="M239.4,74.5 241.0,74.4 242.6,74.4 244.2,74.4 245.7,74.3 247.3,74.3 248.9,74.3 250.5,74.3 252.1,74.3 253.7,74.3 255.2,74.3 256.8,74.4 258.4,74.4 260.0,74.5 261.6,74.6 263.2,74.6 264.7,74.7 266.3,74.8 267.9,75.0 269.5,75.1 271.1,75.2 272.7,75.4 274.2,75.6 275.8,75.8 277.4,76.0 279.0,76.2 280.6,76.4 282.2,76.6 283.7,76.9 285.3,77.2 286.9,77.4 288.5,77.7 290.1,78.0 291.7,78.3 293.3,78.7 294.8,79.0 296.4,79.4 298.0,79.8 299.6,80.2 301.2,80.6 302.8,81.0 304.3,81.4 305.9,81.9 307.5,82.4 309.1,82.9 310.7,83.4 312.3,84.0 313.8,84.5 315.4,85.1 317.0,85.8 318.6,86.4 320.2,87.1 321.8,87.8 323.3,88.5 324.9,89.2 326.5,90.0 328.1,90.8 329.7,91.7 331.3,92.5 332.8,93.4 334.4,94.4 336.0,95.3 337.6,96.5 339.2,97.7 340.8,99.1 342.3,100.6 343.9,102.0 345.5,103.5 347.1,104.8 348.7,106.1 350.3,107.4 351.9,108.6 353.4,109.8 355.0,111.1 356.6,112.2 358.2,113.4 359.8,114.6 361.4,115.8 362.9,117.0 364.5,118.1 366.1,119.3 367.7,120.5 369.3,121.7 370.9,122.9 372.4,124.1 374.0,125.3 375.6,126.6 377.2,127.8 378.8,129.0 380.4,130.3 381.9,131.5 383.5,132.8 385.1,134.0 386.7,135.2 388.3,136.5 389.9,137.7 391.4,139.0 393.0,140.2 394.6,141.5 396.2,142.7" fill="none" stroke="#b04040" stroke-width="1.05" stroke-dasharray="1,1"/>
</g>
<text x="293.40" y="27.60" font-size="7.60" fill="#111" stroke="#111" stroke-width="0.25" text-anchor="start"><tspan font-size="7.60" font-style="italic">N</tspan><tspan font-size="4.56" dy="2.74" stroke-width="0.08">tr</tspan><tspan font-size="7.60" dy="-2.74">=&#160;10</tspan><tspan font-size="3.95" dy="-3.42" stroke-width="0.08">13</tspan><tspan font-size="7.60" dy="3.42">cm</tspan><tspan font-size="3.95" dy="-3.42" stroke-width="0.08">-3</tspan><tspan font-size="7.60" dy="3.42">&#160;(</tspan><tspan font-size="7.60" font-style="italic">τ</tspan><tspan font-size="4.56" dy="2.74" stroke-width="0.08">SRH</tspan><tspan font-size="7.60" dy="-2.74">&#160;=&#160;1&#160;µs)</tspan></text>
<line x1="292.80" y1="36.80" x2="309.60" y2="36.80" stroke="#3a3a3a" stroke-width="1"/>
<text x="311.60" y="39.60" font-size="7.60" fill="#111" stroke="#111" stroke-width="0.25" text-anchor="start"><tspan font-size="7.60" font-style="italic">N</tspan><tspan font-size="4.56" dy="2.74" stroke-width="0.08">D</tspan><tspan font-size="7.60" dy="-2.74">&#160;=&#160;10</tspan><tspan font-size="3.95" dy="-3.42" stroke-width="0.08">16</tspan><tspan font-size="7.60" dy="3.42">&#160;cm</tspan><tspan font-size="3.95" dy="-3.42" stroke-width="0.08">-3</tspan></text>
<line x1="292.80" y1="50.10" x2="309.60" y2="50.10" stroke="#3a3a3a" stroke-width="1" stroke-dasharray="1,1"/>
<text x="311.60" y="52.80" font-size="7.60" fill="#111" stroke="#111" stroke-width="0.25" text-anchor="start"><tspan font-size="7.60" font-style="italic">N</tspan><tspan font-size="4.56" dy="2.74" stroke-width="0.08">D</tspan><tspan font-size="7.60" dy="-2.74">&#160;=&#160;10</tspan><tspan font-size="3.95" dy="-3.42" stroke-width="0.08">18</tspan><tspan font-size="7.60" dy="3.42">&#160;cm</tspan><tspan font-size="3.95" dy="-3.42" stroke-width="0.08">-3</tspan></text>
<rect x="293.90" y="99.08" width="58.10" height="7.00" fill="#fff"/>
<text x="294.90" y="104.20" font-size="6.25" fill="#111" stroke="#111" stroke-width="0.25" text-anchor="start"><tspan font-size="6.25">★A:&#160;</tspan><tspan font-size="6.25" font-style="italic">N</tspan><tspan font-size="3.75" dy="2.25" stroke-width="0.08">D</tspan><tspan font-size="6.25" dy="-2.25">&#160;=&#160;2*10</tspan><tspan font-size="3.25" dy="-2.81" stroke-width="0.08">16</tspan><tspan font-size="6.25" dy="2.81">&#160;cm</tspan><tspan font-size="3.25" dy="-2.81" stroke-width="0.08">-3</tspan></text>
<rect x="293.90" y="109.08" width="58.10" height="7.00" fill="#fff"/>
<text x="294.90" y="114.20" font-size="6.25" fill="#111" stroke="#111" stroke-width="0.25" text-anchor="start"><tspan font-size="6.25">★B:&#160;</tspan><tspan font-size="6.25" font-style="italic">N</tspan><tspan font-size="3.75" dy="2.25" stroke-width="0.08">D</tspan><tspan font-size="6.25" dy="-2.25">&#160;=&#160;4*10</tspan><tspan font-size="3.25" dy="-2.81" stroke-width="0.08">16</tspan><tspan font-size="6.25" dy="2.81">&#160;cm</tspan><tspan font-size="3.25" dy="-2.81" stroke-width="0.08">-3</tspan></text>
<path d="M239.40,124.40 v-2.2 M256.89,124.40 v-1.2 M267.12,124.40 v-1.2 M274.38,124.40 v-1.2 M280.01,124.40 v-1.2 M284.61,124.40 v-1.2 M288.50,124.40 v-1.2 M291.87,124.40 v-1.2 M294.84,124.40 v-1.2 M297.50,124.40 v-2.2 M314.98,124.40 v-1.2 M325.22,124.40 v-1.2 M332.47,124.40 v-1.2 M338.10,124.40 v-1.2 M342.70,124.40 v-1.2 M346.59,124.40 v-1.2 M349.96,124.40 v-1.2 M352.93,124.40 v-1.2 M355.59,124.40 v-2.2 M373.08,124.40 v-1.2 M383.31,124.40 v-1.2 M390.57,124.40 v-1.2 M396.20,124.40 v-1.2 M239.40,16.60 v1.8 M256.89,16.60 v1.8 M267.12,16.60 v1.8 M274.38,16.60 v1.8 M280.01,16.60 v1.8 M297.50,16.60 v1.8 M314.98,16.60 v1.8 M325.22,16.60 v1.8 M332.47,16.60 v1.8 M338.10,16.60 v1.8 M355.59,16.60 v1.8 M373.08,16.60 v1.8 M383.31,16.60 v1.8 M390.57,16.60 v1.8 M396.20,16.60 v1.8 M239.40,124.40 h3 M396.20,124.40 h-3 M239.40,104.44 h3 M396.20,104.44 h-3 M239.40,84.47 h3 M396.20,84.47 h-3 M239.40,64.51 h3 M396.20,64.51 h-3 M239.40,44.55 h3 M396.20,44.55 h-3 M239.40,24.59 h3 M396.20,24.59 h-3 M239.40,114.42 h2 M396.20,114.42 h-2 M239.40,94.46 h2 M396.20,94.46 h-2 M239.40,74.49 h2 M396.20,74.49 h-2 M239.40,54.53 h2 M396.20,54.53 h-2 M239.40,34.57 h2 M396.20,34.57 h-2" stroke="#787878" stroke-width="0.9" fill="none"/>
<rect x="239.40" y="16.60" width="156.80" height="107.80" fill="none" stroke="#787878" stroke-width="1.0"/>
<text x="239.40" y="134.00" font-size="8.40" text-anchor="middle" fill="#111" stroke="#111" stroke-width="0.25">1</text>
<text x="297.50" y="134.00" font-size="8.40" text-anchor="middle" fill="#111" stroke="#111" stroke-width="0.25">10</text>
<text x="355.59" y="134.00" font-size="8.40" text-anchor="middle" fill="#111" stroke="#111" stroke-width="0.25">100</text>
<text x="239.40" y="15.70" font-size="7.80" text-anchor="middle" fill="#111" stroke="#111" stroke-width="0.25">28.1</text>
<text x="256.89" y="15.70" font-size="7.80" text-anchor="middle" fill="#111" stroke="#111" stroke-width="0.25">31.8</text>
<text x="280.01" y="15.70" font-size="7.80" text-anchor="middle" fill="#111" stroke="#111" stroke-width="0.25">35.4</text>
<text x="297.50" y="15.70" font-size="7.80" text-anchor="middle" fill="#111" stroke="#111" stroke-width="0.25">37.3</text>
<text x="314.98" y="15.70" font-size="7.80" text-anchor="middle" fill="#111" stroke="#111" stroke-width="0.25">38.8</text>
<text x="338.10" y="15.70" font-size="7.80" text-anchor="middle" fill="#111" stroke="#111" stroke-width="0.25">40.5</text>
<text x="355.59" y="15.70" font-size="7.80" text-anchor="middle" fill="#111" stroke="#111" stroke-width="0.25">41.5</text>
<text x="373.08" y="15.70" font-size="7.80" text-anchor="middle" fill="#111" stroke="#111" stroke-width="0.25">42.3</text>
<text x="396.20" y="15.70" font-size="7.80" text-anchor="middle" fill="#111" stroke="#111" stroke-width="0.25">42.8</text>
<text x="295.60" y="8.20" font-size="7.80" fill="#111" stroke="#111" stroke-width="0.25" text-anchor="start"><tspan font-size="7.80" font-style="italic">j</tspan><tspan font-size="4.68" dy="2.81" stroke-width="0.08">ph</tspan><tspan font-size="7.80" dy="-2.81">&#160;(mA/cm</tspan><tspan font-size="4.06" dy="-3.51" stroke-width="0.08">2</tspan><tspan font-size="7.80" dy="3.51">)</tspan></text>
<text x="236.90" y="127.50" font-size="8.60" text-anchor="end" fill="#111" stroke="#111" stroke-width="0.25">600</text>
<text x="236.90" y="107.54" font-size="8.60" text-anchor="end" fill="#111" stroke="#111" stroke-width="0.25">650</text>
<text x="236.90" y="87.57" font-size="8.60" text-anchor="end" fill="#111" stroke="#111" stroke-width="0.25">700</text>
<text x="236.90" y="67.61" font-size="8.60" text-anchor="end" fill="#111" stroke="#111" stroke-width="0.25">750</text>
<text x="236.90" y="47.65" font-size="8.60" text-anchor="end" fill="#111" stroke="#111" stroke-width="0.25">800</text>
<text x="236.90" y="27.69" font-size="8.60" text-anchor="end" fill="#111" stroke="#111" stroke-width="0.25">850</text>
<text x="317.80" y="142.90" font-size="9.20" text-anchor="middle" fill="#111" stroke="#111" stroke-width="0.25">absorber thickness (&#181;m)</text>
<text transform="translate(213.70,69.10) rotate(-90)" font-size="9.20" text-anchor="middle" fill="#111" stroke="#111" stroke-width="0.25"><tspan font-style="italic">V</tspan><tspan font-size="6" dy="2.2">OC</tspan><tspan dy="-2.2"> (mV)</tspan></text>
<text x="209.80" y="141.70" font-size="11.20" text-anchor="start" fill="#111" stroke="#111" stroke-width="0.25">b)</text>
<line x1="51.38" y1="161.80" x2="51.38" y2="269.30" stroke="#d8d8d8" stroke-width="0.8"/>
<line x1="74.63" y1="161.80" x2="74.63" y2="269.30" stroke="#d8d8d8" stroke-width="0.8"/>
<line x1="92.21" y1="161.80" x2="92.21" y2="269.30" stroke="#d8d8d8" stroke-width="0.8"/>
<line x1="109.79" y1="161.80" x2="109.79" y2="269.30" stroke="#d8d8d8" stroke-width="0.8"/>
<line x1="133.04" y1="161.80" x2="133.04" y2="269.30" stroke="#d8d8d8" stroke-width="0.8"/>
<line x1="150.62" y1="161.80" x2="150.62" y2="269.30" stroke="#d8d8d8" stroke-width="0.8"/>
<line x1="168.21" y1="161.80" x2="168.21" y2="269.30" stroke="#d8d8d8" stroke-width="0.8"/>
<line x1="33.80" y1="252.20" x2="191.45" y2="252.20" stroke="#c4c4c4" stroke-width="0.8" stroke-dasharray="1.5,1.5"/>
<line x1="33.80" y1="217.20" x2="191.45" y2="217.20" stroke="#c4c4c4" stroke-width="0.8" stroke-dasharray="1.5,1.5"/>
<line x1="33.80" y1="182.20" x2="191.45" y2="182.20" stroke="#c4c4c4" stroke-width="0.8" stroke-dasharray="1.5,1.5"/>
<defs><clipPath id="cp2"><rect x="33.80" y="161.80" width="157.65" height="107.50"/></clipPath></defs>
<g clip-path="url(#cp2)">
<path d="M33.8,267.1 35.4,264.8 37.0,262.4 38.6,260.1 40.2,257.9 41.8,255.7 43.4,253.5 44.9,251.3 46.5,249.2 48.1,247.2 49.7,245.1 51.3,243.2 52.9,241.3 54.5,239.3 56.1,237.5 57.7,235.6 59.3,233.8 60.9,232.0 62.5,230.2 64.1,228.5 65.6,226.8 67.2,225.1 68.8,223.5 70.4,221.9 72.0,220.3 73.6,218.8 75.2,217.4 76.8,216.0 78.4,214.6 80.0,213.2 81.6,211.9 83.2,210.7 84.8,209.4 86.3,208.2 87.9,207.0 89.5,205.8 91.1,204.7 92.7,203.5 94.3,202.4 95.9,201.4 97.5,200.3 99.1,199.3 100.7,198.2 102.3,197.2 103.9,196.3 105.5,195.3 107.1,194.3 108.6,193.4 110.2,192.4 111.8,191.5 113.4,190.6 115.0,189.7 116.6,188.7 118.2,187.8 119.8,187.0 121.4,186.1 123.0,185.2 124.6,184.4 126.2,183.5 127.8,182.7 129.3,181.9 130.9,181.1 132.5,180.3 134.1,179.6 135.7,178.8 137.3,178.1 138.9,177.3 140.5,176.6 142.1,175.9 143.7,175.2 145.3,174.5 146.9,173.9 148.5,173.4 150.0,172.9 151.6,172.5 153.2,172.0 154.8,171.6 156.4,171.2 158.0,170.7 159.6,170.4 161.2,170.0 162.8,169.7 164.4,169.5 166.0,169.3 167.6,169.3 169.2,169.3 170.7,169.3 172.3,169.3 173.9,169.3 175.5,169.4 177.1,169.4 178.7,169.5 180.3,169.6 181.9,169.7 183.5,169.7 185.1,169.8 186.7,169.9 188.3,170.1 189.9,170.2 191.4,170.3" fill="none" stroke="#383838" stroke-width="1.05"/>
<path d="M33.8,267.1 35.4,264.8 37.0,262.4 38.6,260.1 40.2,257.9 41.8,255.7 43.4,253.5 44.9,251.3 46.5,249.2 48.1,247.2 49.7,245.1 51.3,243.2 52.9,241.3 54.5,239.4 56.1,237.5 57.7,235.6 59.3,233.8 60.9,232.0 62.5,230.2 64.1,228.5 65.6,226.8 67.2,225.1 68.8,223.5 70.4,221.9 72.0,220.3 73.6,218.8 75.2,217.4 76.8,216.0 78.4,214.6 80.0,213.2 81.6,211.9 83.2,210.7 84.8,209.4 86.3,208.2 87.9,207.0 89.5,205.8 91.1,204.7 92.7,203.6 94.3,202.5 95.9,201.4 97.5,200.3 99.1,199.3 100.7,198.3 102.3,197.3 103.9,196.3 105.5,195.3 107.1,194.4 108.6,193.4 110.2,192.5 111.8,191.5 113.4,190.6 115.0,189.7 116.6,188.8 118.2,187.9 119.8,187.0 121.4,186.1 123.0,185.3 124.6,184.4 126.2,183.6 127.8,182.8 129.3,182.0 130.9,181.2 132.5,180.4 134.1,179.7 135.7,178.9 137.3,178.2 138.9,177.4 140.5,176.7 142.1,176.0 143.7,175.3 145.3,174.7 146.9,174.1 148.5,173.6 150.0,173.1 151.6,172.7 153.2,172.3 154.8,171.8 156.4,171.4 158.0,171.0 159.6,170.7 161.2,170.3 162.8,170.1 164.4,169.9 166.0,169.7 167.6,169.7 169.2,169.7 170.7,169.7 172.3,169.8 173.9,169.9 175.5,170.0 177.1,170.1 178.7,170.2 180.3,170.3 181.9,170.4 183.5,170.6 185.1,170.7 186.7,170.9 188.3,171.1 189.9,171.2 191.4,171.4" fill="none" stroke="#ff2a2a" stroke-width="1.05"/>
<path d="M33.8,267.1 35.4,264.8 37.0,262.4 38.6,260.1 40.2,257.9 41.8,255.7 43.4,253.5 44.9,251.3 46.5,249.2 48.1,247.2 49.7,245.1 51.3,243.2 52.9,241.3 54.5,239.4 56.1,237.5 57.7,235.6 59.3,233.8 60.9,232.0 62.5,230.2 64.1,228.5 65.6,226.8 67.2,225.1 68.8,223.5 70.4,221.9 72.0,220.4 73.6,218.8 75.2,217.4 76.8,216.0 78.4,214.6 80.0,213.3 81.6,211.9 83.2,210.7 84.8,209.4 86.3,208.2 87.9,207.0 89.5,205.8 91.1,204.7 92.7,203.6 94.3,202.5 95.9,201.4 97.5,200.3 99.1,199.3 100.7,198.3 102.3,197.3 103.9,196.3 105.5,195.3 107.1,194.4 108.6,193.4 110.2,192.5 111.8,191.6 113.4,190.7 115.0,189.7 116.6,188.8 118.2,187.9 119.8,187.1 121.4,186.2 123.0,185.3 124.6,184.5 126.2,183.6 127.8,182.8 129.3,182.0 130.9,181.3 132.5,180.5 134.1,179.8 135.7,179.0 137.3,178.3 138.9,177.6 140.5,176.8 142.1,176.1 143.7,175.5 145.3,174.9 146.9,174.3 148.5,173.8 150.0,173.3 151.6,172.9 153.2,172.5 154.8,172.1 156.4,171.7 158.0,171.3 159.6,171.0 161.2,170.7 162.8,170.4 164.4,170.2 166.0,170.1 167.6,170.1 169.2,170.1 170.7,170.2 172.3,170.3 173.9,170.4 175.5,170.5 177.1,170.7 178.7,170.8 180.3,171.0 181.9,171.2 183.5,171.4 185.1,171.6 186.7,171.8 188.3,172.0 189.9,172.3 191.4,172.6" fill="none" stroke="#22cc22" stroke-width="1.05"/>
<path d="M33.8,267.1 35.4,264.8 37.0,262.4 38.6,260.1 40.2,257.9 41.8,255.7 43.4,253.5 44.9,251.3 46.5,249.2 48.1,247.2 49.7,245.2 51.3,243.2 52.9,241.3 54.5,239.4 56.1,237.5 57.7,235.6 59.3,233.8 60.9,232.0 62.5,230.2 64.1,228.5 65.6,226.8 67.2,225.1 68.8,223.5 70.4,221.9 72.0,220.4 73.6,218.9 75.2,217.4 76.8,216.0 78.4,214.6 80.0,213.3 81.6,212.0 83.2,210.7 84.8,209.5 86.3,208.2 87.9,207.1 89.5,205.9 91.1,204.7 92.7,203.6 94.3,202.5 95.9,201.4 97.5,200.4 99.1,199.4 100.7,198.3 102.3,197.4 103.9,196.4 105.5,195.4 107.1,194.5 108.6,193.5 110.2,192.6 111.8,191.7 113.4,190.8 115.0,189.9 116.6,189.0 118.2,188.1 119.8,187.2 121.4,186.3 123.0,185.5 124.6,184.7 126.2,183.9 127.8,183.1 129.3,182.3 130.9,181.5 132.5,180.8 134.1,180.1 135.7,179.3 137.3,178.6 138.9,177.9 140.5,177.2 142.1,176.6 143.7,175.9 145.3,175.3 146.9,174.8 148.5,174.3 150.0,173.9 151.6,173.5 153.2,173.1 154.8,172.8 156.4,172.4 158.0,172.1 159.6,171.8 161.2,171.6 162.8,171.4 164.4,171.3 166.0,171.3 167.6,171.3 169.2,171.5 170.7,171.6 172.3,171.8 173.9,172.0 175.5,172.3 177.1,172.5 178.7,172.8 180.3,173.1 181.9,173.4 183.5,173.8 185.1,174.2 186.7,174.6 188.3,175.0 189.9,175.4 191.4,175.9" fill="none" stroke="#3a3aff" stroke-width="1.05"/>
<path d="M33.8,267.1 35.4,264.8 37.0,262.4 38.6,260.1 40.2,257.9 41.8,255.7 43.4,253.5 44.9,251.3 46.5,249.2 48.1,247.2 49.7,245.2 51.3,243.2 52.9,241.3 54.5,239.4 56.1,237.5 57.7,235.6 59.3,233.8 60.9,232.0 62.5,230.2 64.1,228.5 65.6,226.8 67.2,225.2 68.8,223.5 70.4,221.9 72.0,220.4 73.6,218.9 75.2,217.4 76.8,216.0 78.4,214.7 80.0,213.3 81.6,212.0 83.2,210.7 84.8,209.5 86.3,208.3 87.9,207.1 89.5,206.0 91.1,204.8 92.7,203.7 94.3,202.6 95.9,201.5 97.5,200.5 99.1,199.5 100.7,198.5 102.3,197.5 103.9,196.5 105.5,195.6 107.1,194.6 108.6,193.7 110.2,192.8 111.8,191.9 113.4,191.0 115.0,190.1 116.6,189.2 118.2,188.3 119.8,187.5 121.4,186.6 123.0,185.8 124.6,185.0 126.2,184.2 127.8,183.4 129.3,182.7 130.9,181.9 132.5,181.2 134.1,180.6 135.7,179.9 137.3,179.2 138.9,178.5 140.5,177.9 142.1,177.2 143.7,176.7 145.3,176.1 146.9,175.6 148.5,175.2 150.0,174.8 151.6,174.5 153.2,174.3 154.8,174.0 156.4,173.7 158.0,173.5 159.6,173.3 161.2,173.2 162.8,173.1 164.4,173.1 166.0,173.2 167.6,173.4 169.2,173.6 170.7,174.0 172.3,174.3 173.9,174.7 175.5,175.1 177.1,175.5 178.7,176.0 180.3,176.6 181.9,177.1 183.5,177.7 185.1,178.3 186.7,179.0 188.3,179.8 189.9,180.5 191.4,181.3" fill="none" stroke="#10d8e8" stroke-width="1.05"/>
<path d="M33.8,267.1 35.4,264.8 37.0,262.5 38.6,260.2 40.2,257.9 41.8,255.7 43.4,253.5 44.9,251.4 46.5,249.2 48.1,247.2 49.7,245.2 51.3,243.2 52.9,241.3 54.5,239.4 56.1,237.5 57.7,235.7 59.3,233.8 60.9,232.1 62.5,230.3 64.1,228.6 65.6,226.9 67.2,225.2 68.8,223.6 70.4,222.0 72.0,220.5 73.6,219.0 75.2,217.5 76.8,216.1 78.4,214.7 80.0,213.4 81.6,212.1 83.2,210.8 84.8,209.6 86.3,208.4 87.9,207.2 89.5,206.1 91.1,205.0 92.7,203.8 94.3,202.8 95.9,201.7 97.5,200.7 99.1,199.7 100.7,198.7 102.3,197.7 103.9,196.8 105.5,195.8 107.1,194.9 108.6,194.0 110.2,193.1 111.8,192.2 113.4,191.3 115.0,190.5 116.6,189.6 118.2,188.8 119.8,188.0 121.4,187.2 123.0,186.4 124.6,185.6 126.2,184.9 127.8,184.1 129.3,183.4 130.9,182.8 132.5,182.1 134.1,181.5 135.7,180.9 137.3,180.3 138.9,179.7 140.5,179.1 142.1,178.6 143.7,178.1 145.3,177.7 146.9,177.3 148.5,177.0 150.0,176.8 151.6,176.6 153.2,176.4 154.8,176.3 156.4,176.2 158.0,176.2 159.6,176.2 161.2,176.2 162.8,176.4 164.4,176.6 166.0,176.9 167.6,177.4 169.2,177.9 170.7,178.5 172.3,179.2 173.9,179.9 175.5,180.6 177.1,181.4 178.7,182.3 180.3,183.2 181.9,184.2 183.5,185.3 185.1,186.4 186.7,187.6 188.3,188.8 189.9,190.2 191.4,191.6" fill="none" stroke="#ff30ff" stroke-width="1.05"/>
<path d="M33.8,267.2 35.4,264.8 37.0,262.5 38.6,260.2 40.2,257.9 41.8,255.7 43.4,253.5 44.9,251.4 46.5,249.3 48.1,247.2 49.7,245.2 51.3,243.3 52.9,241.4 54.5,239.5 56.1,237.6 57.7,235.8 59.3,233.9 60.9,232.2 62.5,230.4 64.1,228.7 65.6,227.0 67.2,225.3 68.8,223.7 70.4,222.2 72.0,220.6 73.6,219.2 75.2,217.7 76.8,216.3 78.4,215.0 80.0,213.7 81.6,212.4 83.2,211.1 84.8,209.9 86.3,208.8 87.9,207.6 89.5,206.5 91.1,205.4 92.7,204.3 94.3,203.2 95.9,202.2 97.5,201.2 99.1,200.3 100.7,199.3 102.3,198.4 103.9,197.5 105.5,196.6 107.1,195.8 108.6,194.9 110.2,194.1 111.8,193.3 113.4,192.5 115.0,191.7 116.6,191.0 118.2,190.2 119.8,189.5 121.4,188.8 123.0,188.1 124.6,187.5 126.2,186.9 127.8,186.3 129.3,185.8 130.9,185.2 132.5,184.8 134.1,184.4 135.7,183.9 137.3,183.5 138.9,183.2 140.5,182.9 142.1,182.6 143.7,182.4 145.3,182.3 146.9,182.2 148.5,182.2 150.0,182.4 151.6,182.6 153.2,182.8 154.8,183.1 156.4,183.5 158.0,183.9 159.6,184.4 161.2,185.1 162.8,185.8 164.4,186.6 166.0,187.6 167.6,188.7 169.2,190.0 170.7,191.3 172.3,192.8 173.9,194.3 175.5,196.0 177.1,197.7 178.7,199.5 180.3,201.5 181.9,203.5 183.5,205.7 185.1,208.0 186.7,210.4 188.3,212.9 189.9,215.5 191.4,218.3" fill="none" stroke="#ffa040" stroke-width="1.05"/>
<path d="M33.8,267.2 35.4,264.9 37.0,262.5 38.6,260.3 40.2,258.0 41.8,255.8 43.4,253.6 44.9,251.5 46.5,249.4 48.1,247.3 49.7,245.3 51.3,243.4 52.9,241.5 54.5,239.6 56.1,237.7 57.7,235.9 59.3,234.1 60.9,232.3 62.5,230.6 64.1,228.9 65.6,227.2 67.2,225.6 68.8,224.0 70.4,222.4 72.0,220.9 73.6,219.5 75.2,218.1 76.8,216.7 78.4,215.4 80.0,214.1 81.6,212.8 83.2,211.6 84.8,210.5 86.3,209.3 87.9,208.2 89.5,207.1 91.1,206.1 92.7,205.1 94.3,204.1 95.9,203.1 97.5,202.2 99.1,201.3 100.7,200.4 102.3,199.6 103.9,198.7 105.5,198.0 107.1,197.2 108.6,196.5 110.2,195.7 111.8,195.1 113.4,194.4 115.0,193.7 116.6,193.1 118.2,192.5 119.8,192.0 121.4,191.5 123.0,191.0 124.6,190.6 126.2,190.2 127.8,189.8 129.3,189.5 130.9,189.3 132.5,189.1 134.1,189.0 135.7,188.9 137.3,188.8 138.9,188.8 140.5,188.9 142.1,189.0 143.7,189.3 145.3,189.6 146.9,190.0 148.5,190.6 150.0,191.2 151.6,192.0 153.2,192.9 154.8,193.8 156.4,194.9 158.0,196.0 159.6,197.3 161.2,198.6 162.8,200.2 164.4,201.9 166.0,203.7 167.6,205.8 169.2,208.0 170.7,210.4 172.3,212.8 173.9,215.4 175.5,218.2 177.1,221.0 178.7,224.0 180.3,227.2 181.9,230.4 183.5,233.8 185.1,237.4 186.7,241.0 188.3,244.8 189.9,248.7 191.4,252.8" fill="none" stroke="#a8a040" stroke-width="1.05"/>
<path d="M33.8,267.3 35.4,265.0 37.0,262.6 38.6,260.4 40.2,258.1 41.8,255.9 43.4,253.8 44.9,251.6 46.5,249.6 48.1,247.5 49.7,245.6 51.3,243.6 52.9,241.7 54.5,239.9 56.1,238.0 57.7,236.2 59.3,234.4 60.9,232.7 62.5,231.0 64.1,229.3 65.6,227.6 67.2,226.0 68.8,224.5 70.4,223.0 72.0,221.5 73.6,220.1 75.2,218.7 76.8,217.4 78.4,216.2 80.0,214.9 81.6,213.8 83.2,212.6 84.8,211.5 86.3,210.4 87.9,209.4 89.5,208.4 91.1,207.5 92.7,206.6 94.3,205.7 95.9,204.8 97.5,204.0 99.1,203.3 100.7,202.5 102.3,201.8 103.9,201.2 105.5,200.6 107.1,200.0 108.6,199.5 110.2,199.0 111.8,198.5 113.4,198.1 115.0,197.7 116.6,197.4 118.2,197.1 119.8,196.9 121.4,196.7 123.0,196.6 124.6,196.5 126.2,196.5 127.8,196.6 129.3,196.8 130.9,197.0 132.5,197.3 134.1,197.7 135.7,198.2 137.3,198.8 138.9,199.4 140.5,200.2 142.1,201.0 143.7,202.0 145.3,203.1 146.9,204.4 148.5,205.8 150.0,207.4 151.6,209.1 153.2,210.9 154.8,212.9 156.4,215.0 158.0,217.2 159.6,219.6 161.2,222.2 162.8,224.9 164.4,227.8 166.0,230.9 167.6,234.2 169.2,237.7 170.7,241.4 172.3,245.1 173.9,249.0 175.5,253.1 177.1,257.2 178.7,261.5 180.3,265.9 181.9,270.3 183.5,274.9 185.1,279.6 186.7,284.3 188.3,289.2 189.9,294.0 191.4,299.0" fill="none" stroke="#4848b0" stroke-width="1.05"/>
<path d="M33.8,267.6 35.4,265.3 37.0,263.0 38.6,260.7 40.2,258.5 41.8,256.3 43.4,254.2 44.9,252.1 46.5,250.1 48.1,248.1 49.7,246.2 51.3,244.3 52.9,242.4 54.5,240.6 56.1,238.9 57.7,237.1 59.3,235.4 60.9,233.7 62.5,232.1 64.1,230.5 65.6,228.9 67.2,227.4 68.8,226.0 70.4,224.6 72.0,223.3 73.6,222.0 75.2,220.8 76.8,219.6 78.4,218.5 80.0,217.4 81.6,216.4 83.2,215.5 84.8,214.6 86.3,213.8 87.9,213.0 89.5,212.3 91.1,211.6 92.7,210.9 94.3,210.4 95.9,209.9 97.5,209.4 99.1,209.0 100.7,208.7 102.3,208.5 103.9,208.3 105.5,208.2 107.1,208.1 108.6,208.1 110.2,208.2 111.8,208.4 113.4,208.6 115.0,208.9 116.6,209.4 118.2,209.9 119.8,210.5 121.4,211.2 123.0,212.0 124.6,212.9 126.2,213.9 127.8,215.1 129.3,216.4 130.9,217.8 132.5,219.3 134.1,221.0 135.7,222.8 137.3,224.8 138.9,226.9 140.5,229.1 142.1,231.5 143.7,234.1 145.3,236.8 146.9,239.7 148.5,242.8 150.0,246.1 151.6,249.5 153.2,253.1 154.8,256.8 156.4,260.6 158.0,264.6 159.6,268.7 161.2,273.0 162.8,277.3 164.4,281.8 166.0,286.5 167.6,291.2 169.2,296.1 170.7,301.0 172.3,305.9 173.9,310.9 175.5,315.9 177.1,319.3 178.7,319.3 180.3,319.3 181.9,319.3 183.5,319.3 185.1,319.3 186.7,319.3 188.3,319.3 189.9,319.3 191.4,319.3" fill="none" stroke="#b848b8" stroke-width="1.05"/>
<path d="M33.8,268.0 35.4,265.8 37.0,263.5 38.6,261.3 40.2,259.2 41.8,257.0 43.4,255.0 44.9,252.9 46.5,251.0 48.1,249.0 49.7,247.2 51.3,245.4 52.9,243.6 54.5,241.9 56.1,240.2 57.7,238.6 59.3,237.0 60.9,235.4 62.5,233.9 64.1,232.5 65.6,231.1 67.2,229.7 68.8,228.5 70.4,227.3 72.0,226.1 73.6,225.0 75.2,224.0 76.8,223.1 78.4,222.3 80.0,221.5 81.6,220.8 83.2,220.2 84.8,219.6 86.3,219.1 87.9,218.7 89.5,218.4 91.1,218.1 92.7,218.0 94.3,217.9 95.9,217.9 97.5,218.0 99.1,218.1 100.7,218.4 102.3,218.8 103.9,219.3 105.5,219.9 107.1,220.6 108.6,221.4 110.2,222.3 111.8,223.3 113.4,224.4 115.0,225.7 116.6,227.1 118.2,228.6 119.8,230.3 121.4,232.1 123.0,234.0 124.6,236.1 126.2,238.4 127.8,240.8 129.3,243.3 130.9,246.0 132.5,248.9 134.1,251.9 135.7,255.1 137.3,258.3 138.9,261.8 140.5,265.4 142.1,269.1 143.7,272.9 145.3,276.9 146.9,281.1 148.5,285.3 150.0,289.7 151.6,294.2 153.2,298.8 154.8,303.4 156.4,308.1 158.0,312.8 159.6,317.5 161.2,319.3 162.8,319.3 164.4,319.3 166.0,319.3 167.6,319.3 169.2,319.3 170.7,319.3 172.3,319.3 173.9,319.3 175.5,319.3 177.1,319.3 178.7,319.3 180.3,319.3 181.9,319.3 183.5,319.3 185.1,319.3 186.7,319.3 188.3,319.3 189.9,319.3 191.4,319.3" fill="none" stroke="#b04040" stroke-width="1.05"/>
<path d="M33.8,267.1 35.4,264.8 37.0,262.5 38.6,260.2 40.2,257.9 41.8,255.7 43.4,253.5 44.9,251.4 46.5,249.3 48.1,247.3 49.7,245.3 51.3,243.3 52.9,241.4 54.5,239.6 56.1,237.7 57.7,235.9 59.3,234.1 60.9,232.4 62.5,230.6 64.1,229.0 65.6,227.3 67.2,225.8 68.8,224.2 70.4,222.7 72.0,221.3 73.6,220.0 75.2,218.7 76.8,217.4 78.4,216.3 80.0,215.2 81.6,214.2 83.2,213.2 84.8,212.3 86.3,211.5 87.9,210.8 89.5,210.2 91.1,209.7 92.7,209.3 94.3,209.0 95.9,208.8 97.5,208.8 99.1,209.0 100.7,209.3 102.3,209.9 103.9,210.6 105.5,211.6 107.1,212.9 108.6,214.4 110.2,216.3 111.8,218.5 113.4,221.0 115.0,224.0 116.6,227.3 118.2,231.1 119.8,235.4 121.4,240.2 123.0,245.5 124.6,251.3 126.2,257.7 127.8,264.5 129.3,271.8 130.9,279.5 132.5,287.6 134.1,296.1 135.7,304.8 137.3,313.6 138.9,319.3 140.5,319.3 142.1,319.3 143.7,319.3 145.3,319.3 146.9,319.3 148.5,319.3 150.0,319.3 151.6,319.3 153.2,319.3 154.8,319.3 156.4,319.3 158.0,319.3 159.6,319.3 161.2,319.3 162.8,319.3 164.4,319.3 166.0,319.3 167.6,319.3 169.2,319.3 170.7,319.3 172.3,319.3 173.9,319.3 175.5,319.3 177.1,319.3 178.7,319.3 180.3,319.3 181.9,319.3 183.5,319.3 185.1,319.3 186.7,319.3 188.3,319.3 189.9,319.3 191.4,319.3" fill="none" stroke="#383838" stroke-width="1.05" stroke-dasharray="1,1"/>
<path d="M33.8,267.1 35.4,264.8 37.0,262.5 38.6,260.2 40.2,257.9 41.8,255.7 43.4,253.5 44.9,251.4 46.5,249.3 48.1,247.3 49.7,245.3 51.3,243.3 52.9,241.4 54.5,239.6 56.1,237.7 57.7,235.9 59.3,234.1 60.9,232.4 62.5,230.6 64.1,229.0 65.6,227.3 67.2,225.8 68.8,224.2 70.4,222.7 72.0,221.3 73.6,220.0 75.2,218.7 76.8,217.4 78.4,216.3 80.0,215.2 81.6,214.2 83.2,213.2 84.8,212.3 86.3,211.5 87.9,210.8 89.5,210.2 91.1,209.7 92.7,209.3 94.3,209.0 95.9,208.8 97.5,208.8 99.1,209.0 100.7,209.3 102.3,209.9 103.9,210.6 105.5,211.6 107.1,212.9 108.6,214.4 110.2,216.3 111.8,218.5 113.4,221.0 115.0,224.0 116.6,227.3 118.2,231.2 119.8,235.4 121.4,240.2 123.0,245.5 124.6,251.3 126.2,257.7 127.8,264.5 129.3,271.8 130.9,279.5 132.5,287.6 134.1,296.1 135.7,304.8 137.3,313.6 138.9,319.3 140.5,319.3 142.1,319.3 143.7,319.3 145.3,319.3 146.9,319.3 148.5,319.3 150.0,319.3 151.6,319.3 153.2,319.3 154.8,319.3 156.4,319.3 158.0,319.3 159.6,319.3 161.2,319.3 162.8,319.3 164.4,319.3 166.0,319.3 167.6,319.3 169.2,319.3 170.7,319.3 172.3,319.3 173.9,319.3 175.5,319.3 177.1,319.3 178.7,319.3 180.3,319.3 181.9,319.3 183.5,319.3 185.1,319.3 186.7,319.3 188.3,319.3 189.9,319.3 191.4,319.3" fill="none" stroke="#ff2a2a" stroke-width="1.05" stroke-dasharray="1,1"/>
<path d="M33.8,267.1 35.4,264.8 37.0,262.5 38.6,260.2 40.2,257.9 41.8,255.7 43.4,253.5 44.9,251.4 46.5,249.3 48.1,247.3 49.7,245.3 51.3,243.3 52.9,241.4 54.5,239.6 56.1,237.7 57.7,235.9 59.3,234.1 60.9,232.4 62.5,230.6 64.1,229.0 65.6,227.3 67.2,225.8 68.8,224.2 70.4,222.7 72.0,221.3 73.6,220.0 75.2,218.7 76.8,217.4 78.4,216.3 80.0,215.2 81.6,214.2 83.2,213.2 84.8,212.3 86.3,211.5 87.9,210.8 89.5,210.2 91.1,209.7 92.7,209.3 94.3,209.0 95.9,208.8 97.5,208.8 99.1,209.0 100.7,209.4 102.3,209.9 103.9,210.6 105.5,211.6 107.1,212.9 108.6,214.4 110.2,216.3 111.8,218.5 113.4,221.0 115.0,224.0 116.6,227.3 118.2,231.2 119.8,235.5 121.4,240.2 123.0,245.5 124.6,251.3 126.2,257.7 127.8,264.5 129.3,271.8 130.9,279.5 132.5,287.6 134.1,296.1 135.7,304.8 137.3,313.7 138.9,319.3 140.5,319.3 142.1,319.3 143.7,319.3 145.3,319.3 146.9,319.3 148.5,319.3 150.0,319.3 151.6,319.3 153.2,319.3 154.8,319.3 156.4,319.3 158.0,319.3 159.6,319.3 161.2,319.3 162.8,319.3 164.4,319.3 166.0,319.3 167.6,319.3 169.2,319.3 170.7,319.3 172.3,319.3 173.9,319.3 175.5,319.3 177.1,319.3 178.7,319.3 180.3,319.3 181.9,319.3 183.5,319.3 185.1,319.3 186.7,319.3 188.3,319.3 189.9,319.3 191.4,319.3" fill="none" stroke="#22cc22" stroke-width="1.05" stroke-dasharray="1,1"/>
<path d="M33.8,267.1 35.4,264.8 37.0,262.5 38.6,260.2 40.2,257.9 41.8,255.7 43.4,253.5 44.9,251.4 46.5,249.3 48.1,247.3 49.7,245.3 51.3,243.3 52.9,241.4 54.5,239.6 56.1,237.7 57.7,235.9 59.3,234.1 60.9,232.4 62.5,230.6 64.1,229.0 65.6,227.3 67.2,225.8 68.8,224.2 70.4,222.8 72.0,221.3 73.6,220.0 75.2,218.7 76.8,217.5 78.4,216.3 80.0,215.2 81.6,214.2 83.2,213.2 84.8,212.4 86.3,211.6 87.9,210.8 89.5,210.2 91.1,209.7 92.7,209.3 94.3,209.0 95.9,208.9 97.5,208.9 99.1,209.0 100.7,209.4 102.3,209.9 103.9,210.7 105.5,211.7 107.1,212.9 108.6,214.5 110.2,216.3 111.8,218.5 113.4,221.1 115.0,224.0 116.6,227.4 118.2,231.2 119.8,235.5 121.4,240.3 123.0,245.6 124.6,251.4 126.2,257.7 127.8,264.5 129.3,271.8 130.9,279.5 132.5,287.6 134.1,296.1 135.7,304.8 137.3,313.7 138.9,319.3 140.5,319.3 142.1,319.3 143.7,319.3 145.3,319.3 146.9,319.3 148.5,319.3 150.0,319.3 151.6,319.3 153.2,319.3 154.8,319.3 156.4,319.3 158.0,319.3 159.6,319.3 161.2,319.3 162.8,319.3 164.4,319.3 166.0,319.3 167.6,319.3 169.2,319.3 170.7,319.3 172.3,319.3 173.9,319.3 175.5,319.3 177.1,319.3 178.7,319.3 180.3,319.3 181.9,319.3 183.5,319.3 185.1,319.3 186.7,319.3 188.3,319.3 189.9,319.3 191.4,319.3" fill="none" stroke="#3a3aff" stroke-width="1.05" stroke-dasharray="1,1"/>
<path d="M33.8,267.1 35.4,264.8 37.0,262.5 38.6,260.2 40.2,257.9 41.8,255.7 43.4,253.5 44.9,251.4 46.5,249.3 48.1,247.3 49.7,245.3 51.3,243.3 52.9,241.4 54.5,239.6 56.1,237.7 57.7,235.9 59.3,234.1 60.9,232.4 62.5,230.7 64.1,229.0 65.6,227.4 67.2,225.8 68.8,224.2 70.4,222.8 72.0,221.3 73.6,220.0 75.2,218.7 76.8,217.5 78.4,216.3 80.0,215.2 81.6,214.2 83.2,213.2 84.8,212.4 86.3,211.6 87.9,210.9 89.5,210.3 91.1,209.7 92.7,209.3 94.3,209.0 95.9,208.9 97.5,208.9 99.1,209.1 100.7,209.4 102.3,210.0 103.9,210.7 105.5,211.7 107.1,213.0 108.6,214.5 110.2,216.4 111.8,218.6 113.4,221.1 115.0,224.1 116.6,227.4 118.2,231.3 119.8,235.6 121.4,240.4 123.0,245.7 124.6,251.5 126.2,257.8 127.8,264.6 129.3,271.9 130.9,279.6 132.5,287.7 134.1,296.2 135.7,304.9 137.3,313.8 138.9,319.3 140.5,319.3 142.1,319.3 143.7,319.3 145.3,319.3 146.9,319.3 148.5,319.3 150.0,319.3 151.6,319.3 153.2,319.3 154.8,319.3 156.4,319.3 158.0,319.3 159.6,319.3 161.2,319.3 162.8,319.3 164.4,319.3 166.0,319.3 167.6,319.3 169.2,319.3 170.7,319.3 172.3,319.3 173.9,319.3 175.5,319.3 177.1,319.3 178.7,319.3 180.3,319.3 181.9,319.3 183.5,319.3 185.1,319.3 186.7,319.3 188.3,319.3 189.9,319.3 191.4,319.3" fill="none" stroke="#10d8e8" stroke-width="1.05" stroke-dasharray="1,1"/>
<path d="M33.8,267.1 35.4,264.8 37.0,262.5 38.6,260.2 40.2,257.9 41.8,255.7 43.4,253.6 44.9,251.4 46.5,249.3 48.1,247.3 49.7,245.3 51.3,243.4 52.9,241.5 54.5,239.6 56.1,237.7 57.7,235.9 59.3,234.1 60.9,232.4 62.5,230.7 64.1,229.0 65.6,227.4 67.2,225.8 68.8,224.3 70.4,222.8 72.0,221.4 73.6,220.0 75.2,218.7 76.8,217.5 78.4,216.4 80.0,215.3 81.6,214.2 83.2,213.3 84.8,212.4 86.3,211.6 87.9,210.9 89.5,210.3 91.1,209.8 92.7,209.4 94.3,209.1 95.9,209.0 97.5,209.0 99.1,209.2 100.7,209.5 102.3,210.1 103.9,210.8 105.5,211.8 107.1,213.1 108.6,214.7 110.2,216.5 111.8,218.7 113.4,221.3 115.0,224.2 116.6,227.6 118.2,231.5 119.8,235.8 121.4,240.6 123.0,245.9 124.6,251.7 126.2,258.0 127.8,264.8 129.3,272.1 130.9,279.8 132.5,287.9 134.1,296.4 135.7,305.1 137.3,313.9 138.9,319.3 140.5,319.3 142.1,319.3 143.7,319.3 145.3,319.3 146.9,319.3 148.5,319.3 150.0,319.3 151.6,319.3 153.2,319.3 154.8,319.3 156.4,319.3 158.0,319.3 159.6,319.3 161.2,319.3 162.8,319.3 164.4,319.3 166.0,319.3 167.6,319.3 169.2,319.3 170.7,319.3 172.3,319.3 173.9,319.3 175.5,319.3 177.1,319.3 178.7,319.3 180.3,319.3 181.9,319.3 183.5,319.3 185.1,319.3 186.7,319.3 188.3,319.3 189.9,319.3 191.4,319.3" fill="none" stroke="#ff30ff" stroke-width="1.05" stroke-dasharray="1,1"/>
<path d="M33.8,267.2 35.4,264.8 37.0,262.5 38.6,260.2 40.2,258.0 41.8,255.8 43.4,253.6 44.9,251.5 46.5,249.4 48.1,247.3 49.7,245.3 51.3,243.4 52.9,241.5 54.5,239.6 56.1,237.8 57.7,236.0 59.3,234.2 60.9,232.5 62.5,230.8 64.1,229.1 65.6,227.5 67.2,225.9 68.8,224.4 70.4,222.9 72.0,221.5 73.6,220.2 75.2,218.9 76.8,217.7 78.4,216.5 80.0,215.4 81.6,214.4 83.2,213.5 84.8,212.7 86.3,211.9 87.9,211.2 89.5,210.6 91.1,210.1 92.7,209.7 94.3,209.5 95.9,209.4 97.5,209.4 99.1,209.6 100.7,210.0 102.3,210.6 103.9,211.4 105.5,212.4 107.1,213.7 108.6,215.3 110.2,217.2 111.8,219.4 113.4,222.0 115.0,225.0 116.6,228.4 118.2,232.3 119.8,236.6 121.4,241.4 123.0,246.7 124.6,252.6 126.2,258.9 127.8,265.7 129.3,273.0 130.9,280.7 132.5,288.8 134.1,297.2 135.7,305.9 137.3,314.7 138.9,319.3 140.5,319.3 142.1,319.3 143.7,319.3 145.3,319.3 146.9,319.3 148.5,319.3 150.0,319.3 151.6,319.3 153.2,319.3 154.8,319.3 156.4,319.3 158.0,319.3 159.6,319.3 161.2,319.3 162.8,319.3 164.4,319.3 166.0,319.3 167.6,319.3 169.2,319.3 170.7,319.3 172.3,319.3 173.9,319.3 175.5,319.3 177.1,319.3 178.7,319.3 180.3,319.3 181.9,319.3 183.5,319.3 185.1,319.3 186.7,319.3 188.3,319.3 189.9,319.3 191.4,319.3" fill="none" stroke="#ffa040" stroke-width="1.05" stroke-dasharray="1,1"/>
<path d="M33.8,267.2 35.4,264.9 37.0,262.6 38.6,260.3 40.2,258.0 41.8,255.8 43.4,253.7 44.9,251.5 46.5,249.4 48.1,247.4 49.7,245.4 51.3,243.5 52.9,241.6 54.5,239.8 56.1,237.9 57.7,236.1 59.3,234.4 60.9,232.6 62.5,230.9 64.1,229.3 65.6,227.7 67.2,226.1 68.8,224.6 70.4,223.2 72.0,221.8 73.6,220.5 75.2,219.2 76.8,218.0 78.4,216.9 80.0,215.9 81.6,214.9 83.2,214.0 84.8,213.2 86.3,212.4 87.9,211.8 89.5,211.3 91.1,210.8 92.7,210.5 94.3,210.3 95.9,210.2 97.5,210.3 99.1,210.6 100.7,211.0 102.3,211.7 103.9,212.5 105.5,213.6 107.1,215.0 108.6,216.7 110.2,218.6 111.8,221.0 113.4,223.6 115.0,226.7 116.6,230.2 118.2,234.1 119.8,238.5 121.4,243.3 123.0,248.7 124.6,254.5 126.2,260.9 127.8,267.7 129.3,275.0 130.9,282.6 132.5,290.7 134.1,299.1 135.7,307.6 137.3,316.4 138.9,319.3 140.5,319.3 142.1,319.3 143.7,319.3 145.3,319.3 146.9,319.3 148.5,319.3 150.0,319.3 151.6,319.3 153.2,319.3 154.8,319.3 156.4,319.3 158.0,319.3 159.6,319.3 161.2,319.3 162.8,319.3 164.4,319.3 166.0,319.3 167.6,319.3 169.2,319.3 170.7,319.3 172.3,319.3 173.9,319.3 175.5,319.3 177.1,319.3 178.7,319.3 180.3,319.3 181.9,319.3 183.5,319.3 185.1,319.3 186.7,319.3 188.3,319.3 189.9,319.3 191.4,319.3" fill="none" stroke="#a8a040" stroke-width="1.05" stroke-dasharray="1,1"/>
<path d="M33.8,267.3 35.4,265.0 37.0,262.7 38.6,260.4 40.2,258.2 41.8,256.0 43.4,253.8 44.9,251.7 46.5,249.7 48.1,247.6 49.7,245.7 51.3,243.8 52.9,241.9 54.5,240.1 56.1,238.3 57.7,236.5 59.3,234.8 60.9,233.1 62.5,231.4 64.1,229.8 65.6,228.2 67.2,226.7 68.8,225.3 70.4,223.9 72.0,222.5 73.6,221.3 75.2,220.1 76.8,219.0 78.4,217.9 80.0,217.0 81.6,216.1 83.2,215.3 84.8,214.5 86.3,213.9 87.9,213.4 89.5,212.9 91.1,212.6 92.7,212.4 94.3,212.4 95.9,212.4 97.5,212.7 99.1,213.1 100.7,213.7 102.3,214.5 103.9,215.6 105.5,216.9 107.1,218.4 108.6,220.3 110.2,222.4 111.8,224.9 113.4,227.8 115.0,231.0 116.6,234.7 118.2,238.7 119.8,243.2 121.4,248.2 123.0,253.7 124.6,259.6 126.2,265.9 127.8,272.8 129.3,280.0 130.9,287.6 132.5,295.5 134.1,303.7 135.7,312.1 137.3,319.3 138.9,319.3 140.5,319.3 142.1,319.3 143.7,319.3 145.3,319.3 146.9,319.3 148.5,319.3 150.0,319.3 151.6,319.3 153.2,319.3 154.8,319.3 156.4,319.3 158.0,319.3 159.6,319.3 161.2,319.3 162.8,319.3 164.4,319.3 166.0,319.3 167.6,319.3 169.2,319.3 170.7,319.3 172.3,319.3 173.9,319.3 175.5,319.3 177.1,319.3 178.7,319.3 180.3,319.3 181.9,319.3 183.5,319.3 185.1,319.3 186.7,319.3 188.3,319.3 189.9,319.3 191.4,319.3" fill="none" stroke="#4848b0" stroke-width="1.05" stroke-dasharray="1,1"/>
<path d="M33.8,267.8 35.4,265.5 37.0,263.2 38.6,261.0 40.2,258.8 41.8,256.7 43.4,254.6 44.9,252.5 46.5,250.5 48.1,248.6 49.7,246.7 51.3,244.9 52.9,243.1 54.5,241.4 56.1,239.7 57.7,238.0 59.3,236.4 60.9,234.9 62.5,233.4 64.1,231.9 65.6,230.5 67.2,229.2 68.8,227.9 70.4,226.7 72.0,225.6 73.6,224.6 75.2,223.7 76.8,222.8 78.4,222.1 80.0,221.4 81.6,220.9 83.2,220.4 84.8,220.1 86.3,219.8 87.9,219.7 89.5,219.7 91.1,219.9 92.7,220.2 94.3,220.7 95.9,221.3 97.5,222.1 99.1,223.1 100.7,224.4 102.3,225.8 103.9,227.5 105.5,229.5 107.1,231.7 108.6,234.2 110.2,237.1 111.8,240.2 113.4,243.7 115.0,247.5 116.6,251.7 118.2,256.2 119.8,261.2 121.4,266.5 123.0,272.2 124.6,278.2 126.2,284.6 127.8,291.3 129.3,298.3 130.9,305.6 132.5,313.0 134.1,319.3 135.7,319.3 137.3,319.3 138.9,319.3 140.5,319.3 142.1,319.3 143.7,319.3 145.3,319.3 146.9,319.3 148.5,319.3 150.0,319.3 151.6,319.3 153.2,319.3 154.8,319.3 156.4,319.3 158.0,319.3 159.6,319.3 161.2,319.3 162.8,319.3 164.4,319.3 166.0,319.3 167.6,319.3 169.2,319.3 170.7,319.3 172.3,319.3 173.9,319.3 175.5,319.3 177.1,319.3 178.7,319.3 180.3,319.3 181.9,319.3 183.5,319.3 185.1,319.3 186.7,319.3 188.3,319.3 189.9,319.3 191.4,319.3" fill="none" stroke="#b848b8" stroke-width="1.05" stroke-dasharray="1,1"/>
<path d="M33.8,268.8 35.4,266.6 37.0,264.4 38.6,262.3 40.2,260.3 41.8,258.2 43.4,256.3 44.9,254.4 46.5,252.5 48.1,250.7 49.7,249.0 51.3,247.4 52.9,245.8 54.5,244.3 56.1,242.9 57.7,241.4 59.3,240.1 60.9,238.8 62.5,237.6 64.1,236.5 65.6,235.5 67.2,234.5 68.8,233.7 70.4,232.9 72.0,232.3 73.6,231.8 75.2,231.4 76.8,231.1 78.4,230.9 80.0,230.9 81.6,231.0 83.2,231.3 84.8,231.7 86.3,232.2 87.9,233.0 89.5,233.8 91.1,234.9 92.7,236.1 94.3,237.5 95.9,239.2 97.5,241.0 99.1,243.1 100.7,245.4 102.3,247.9 103.9,250.7 105.5,253.7 107.1,257.0 108.6,260.5 110.2,264.3 111.8,268.4 113.4,272.7 115.0,277.3 116.6,282.2 118.2,287.3 119.8,292.6 121.4,298.2 123.0,304.0 124.6,309.9 126.2,316.1 127.8,319.3 129.3,319.3 130.9,319.3 132.5,319.3 134.1,319.3 135.7,319.3 137.3,319.3 138.9,319.3 140.5,319.3 142.1,319.3 143.7,319.3 145.3,319.3 146.9,319.3 148.5,319.3 150.0,319.3 151.6,319.3 153.2,319.3 154.8,319.3 156.4,319.3 158.0,319.3 159.6,319.3 161.2,319.3 162.8,319.3 164.4,319.3 166.0,319.3 167.6,319.3 169.2,319.3 170.7,319.3 172.3,319.3 173.9,319.3 175.5,319.3 177.1,319.3 178.7,319.3 180.3,319.3 181.9,319.3 183.5,319.3 185.1,319.3 186.7,319.3 188.3,319.3 189.9,319.3 191.4,319.3" fill="none" stroke="#b04040" stroke-width="1.05" stroke-dasharray="1,1"/>
</g>
<line x1="38.90" y1="170.30" x2="55.70" y2="170.30" stroke="#3a3a3a" stroke-width="1"/>
<text x="59.30" y="173.00" font-size="7.60" fill="#111" stroke="#111" stroke-width="0.25" text-anchor="start"><tspan font-size="7.60" font-style="italic">N</tspan><tspan font-size="4.56" dy="2.74" stroke-width="0.08">D</tspan><tspan font-size="7.60" dy="-2.74">&#160;=&#160;10</tspan><tspan font-size="3.95" dy="-3.42" stroke-width="0.08">16</tspan><tspan font-size="7.60" dy="3.42">cm</tspan><tspan font-size="3.95" dy="-3.42" stroke-width="0.08">-3</tspan></text>
<line x1="38.90" y1="183.40" x2="55.70" y2="183.40" stroke="#3a3a3a" stroke-width="1" stroke-dasharray="1,1"/>
<text x="59.30" y="186.10" font-size="7.60" fill="#111" stroke="#111" stroke-width="0.25" text-anchor="start"><tspan font-size="7.60" font-style="italic">N</tspan><tspan font-size="4.56" dy="2.74" stroke-width="0.08">D</tspan><tspan font-size="7.60" dy="-2.74">&#160;=&#160;10</tspan><tspan font-size="3.95" dy="-3.42" stroke-width="0.08">18</tspan><tspan font-size="7.60" dy="3.42">cm</tspan><tspan font-size="3.95" dy="-3.42" stroke-width="0.08">-3</tspan></text>
<rect x="120.60" y="164.69" width="47.83" height="8.62" fill="#fff"/>
<text x="121.60" y="171.00" font-size="7.70" fill="#111" stroke="#111" stroke-width="0.25" text-anchor="start"><tspan font-size="7.70" font-style="italic">S</tspan><tspan font-size="4.62" dy="2.77" stroke-width="0.08">front</tspan><tspan font-size="7.70" dy="-2.77">&#160;=&#160;0&#160;cm/s</tspan></text>
<rect x="179.44" y="175.06" width="9.72" height="6.89" fill="#fff"/>
<text x="184.30" y="181.45" font-size="8.20" text-anchor="middle" fill="#10d8e8" stroke="#10d8e8" stroke-width="0.25">10</text>
<rect x="180.44" y="184.56" width="9.72" height="6.89" fill="#fff"/>
<text x="185.30" y="190.95" font-size="8.20" text-anchor="middle" fill="#ff30ff" stroke="#ff30ff" stroke-width="0.25">20</text>
<rect x="179.84" y="206.06" width="9.72" height="6.89" fill="#fff"/>
<text x="184.70" y="212.45" font-size="8.20" text-anchor="middle" fill="#ffa040" stroke="#ffa040" stroke-width="0.25">50</text>
<rect x="176.56" y="234.96" width="14.28" height="6.89" fill="#fff"/>
<text x="183.70" y="241.35" font-size="8.20" text-anchor="middle" fill="#a8a040" stroke="#a8a040" stroke-width="0.25">100</text>
<rect x="171.26" y="258.16" width="14.28" height="6.89" fill="#fff"/>
<text x="178.40" y="264.55" font-size="8.20" text-anchor="middle" fill="#4848b0" stroke="#4848b0" stroke-width="0.25">200</text>
<rect x="151.26" y="258.16" width="14.28" height="6.89" fill="#fff"/>
<text x="158.40" y="264.55" font-size="8.20" text-anchor="middle" fill="#b848b8" stroke="#b848b8" stroke-width="0.25">500</text>
<rect x="130.08" y="258.16" width="18.84" height="6.89" fill="#fff"/>
<text x="139.50" y="264.55" font-size="8.20" text-anchor="middle" fill="#b04040" stroke="#b04040" stroke-width="0.25">1000</text>
<rect x="35.50" y="258.34" width="91.86" height="8.68" fill="#fff"/>
<text x="36.50" y="264.70" font-size="7.75" fill="#111" stroke="#111" stroke-width="0.25" text-anchor="start"><tspan font-size="7.75" font-style="italic">N</tspan><tspan font-size="4.65" dy="2.79" stroke-width="0.08">tr</tspan><tspan font-size="7.75" dy="-2.79">=&#160;10</tspan><tspan font-size="4.03" dy="-3.49" stroke-width="0.08">9</tspan><tspan font-size="7.75" dy="3.49">cm</tspan><tspan font-size="4.03" dy="-3.49" stroke-width="0.08">-3</tspan><tspan font-size="7.75" dy="3.49">&#160;(</tspan><tspan font-size="7.75" font-style="italic">τ</tspan><tspan font-size="4.65" dy="2.79" stroke-width="0.08">SRH</tspan><tspan font-size="7.75" dy="-2.79">&#160;=&#160;10&#160;ms)</tspan></text>
<path d="M33.80,269.30 v-2.2 M51.38,269.30 v-1.2 M61.67,269.30 v-1.2 M68.97,269.30 v-1.2 M74.63,269.30 v-1.2 M79.25,269.30 v-1.2 M83.16,269.30 v-1.2 M86.55,269.30 v-1.2 M89.54,269.30 v-1.2 M92.21,269.30 v-2.2 M109.79,269.30 v-1.2 M120.08,269.30 v-1.2 M127.38,269.30 v-1.2 M133.04,269.30 v-1.2 M137.66,269.30 v-1.2 M141.57,269.30 v-1.2 M144.96,269.30 v-1.2 M147.95,269.30 v-1.2 M150.62,269.30 v-2.2 M168.21,269.30 v-1.2 M178.49,269.30 v-1.2 M185.79,269.30 v-1.2 M191.45,269.30 v-1.2 M33.80,161.80 v1.8 M51.38,161.80 v1.8 M61.67,161.80 v1.8 M68.97,161.80 v1.8 M74.63,161.80 v1.8 M92.21,161.80 v1.8 M109.79,161.80 v1.8 M120.08,161.80 v1.8 M127.38,161.80 v1.8 M133.04,161.80 v1.8 M150.62,161.80 v1.8 M168.21,161.80 v1.8 M178.49,161.80 v1.8 M185.79,161.80 v1.8 M191.45,161.80 v1.8 M33.80,252.20 h3 M191.45,252.20 h-3 M33.80,217.20 h3 M191.45,217.20 h-3 M33.80,182.20 h3 M191.45,182.20 h-3 M33.80,269.70 h2 M191.45,269.70 h-2 M33.80,234.70 h2 M191.45,234.70 h-2 M33.80,199.70 h2 M191.45,199.70 h-2 M33.80,164.70 h2 M191.45,164.70 h-2" stroke="#787878" stroke-width="0.9" fill="none"/>
<rect x="33.80" y="161.80" width="157.65" height="107.50" fill="none" stroke="#787878" stroke-width="1.0"/>
<text x="33.80" y="278.90" font-size="8.40" text-anchor="middle" fill="#111" stroke="#111" stroke-width="0.25">1</text>
<text x="92.21" y="278.90" font-size="8.40" text-anchor="middle" fill="#111" stroke="#111" stroke-width="0.25">10</text>
<text x="150.62" y="278.90" font-size="8.40" text-anchor="middle" fill="#111" stroke="#111" stroke-width="0.25">100</text>
<text x="33.80" y="160.90" font-size="7.80" text-anchor="middle" fill="#111" stroke="#111" stroke-width="0.25">28.1</text>
<text x="51.38" y="160.90" font-size="7.80" text-anchor="middle" fill="#111" stroke="#111" stroke-width="0.25">31.8</text>
<text x="74.63" y="160.90" font-size="7.80" text-anchor="middle" fill="#111" stroke="#111" stroke-width="0.25">35.4</text>
<text x="92.21" y="160.90" font-size="7.80" text-anchor="middle" fill="#111" stroke="#111" stroke-width="0.25">37.3</text>
<text x="109.79" y="160.90" font-size="7.80" text-anchor="middle" fill="#111" stroke="#111" stroke-width="0.25">38.8</text>
<text x="133.04" y="160.90" font-size="7.80" text-anchor="middle" fill="#111" stroke="#111" stroke-width="0.25">40.5</text>
<text x="150.62" y="160.90" font-size="7.80" text-anchor="middle" fill="#111" stroke="#111" stroke-width="0.25">41.5</text>
<text x="168.21" y="160.90" font-size="7.80" text-anchor="middle" fill="#111" stroke="#111" stroke-width="0.25">42.3</text>
<text x="191.45" y="160.90" font-size="7.80" text-anchor="middle" fill="#111" stroke="#111" stroke-width="0.25">42.8</text>
<text x="94.70" y="153.40" font-size="7.80" fill="#111" stroke="#111" stroke-width="0.25" text-anchor="start"><tspan font-size="7.80" font-style="italic">j</tspan><tspan font-size="4.68" dy="2.81" stroke-width="0.08">ph</tspan><tspan font-size="7.80" dy="-2.81">&#160;(mA/cm</tspan><tspan font-size="4.06" dy="-3.51" stroke-width="0.08">2</tspan><tspan font-size="7.80" dy="3.51">)</tspan></text>
<text x="31.30" y="255.30" font-size="8.60" text-anchor="end" fill="#111" stroke="#111" stroke-width="0.25">30</text>
<text x="31.30" y="220.30" font-size="8.60" text-anchor="end" fill="#111" stroke="#111" stroke-width="0.25">35</text>
<text x="31.30" y="185.30" font-size="8.60" text-anchor="end" fill="#111" stroke="#111" stroke-width="0.25">40</text>
<text x="112.62" y="287.80" font-size="9.20" text-anchor="middle" fill="#111" stroke="#111" stroke-width="0.25">absorber thickness (&#181;m)</text>
<text transform="translate(10.00,214.55) rotate(-90)" font-size="9.20" text-anchor="middle" fill="#111" stroke="#111" stroke-width="0.25"><tspan font-style="italic">j</tspan><tspan font-size="6" dy="2.2">SC</tspan><tspan dy="-2.2"> (mA/cm</tspan><tspan font-size="6" dy="-3">2</tspan><tspan dy="3">)</tspan></text>
<text x="0.30" y="286.60" font-size="11.20" text-anchor="start" fill="#111" stroke="#111" stroke-width="0.25">c)</text>
<line x1="256.89" y1="161.80" x2="256.89" y2="269.40" stroke="#d8d8d8" stroke-width="0.8"/>
<line x1="280.01" y1="161.80" x2="280.01" y2="269.40" stroke="#d8d8d8" stroke-width="0.8"/>
<line x1="297.50" y1="161.80" x2="297.50" y2="269.40" stroke="#d8d8d8" stroke-width="0.8"/>
<line x1="314.98" y1="161.80" x2="314.98" y2="269.40" stroke="#d8d8d8" stroke-width="0.8"/>
<line x1="338.10" y1="161.80" x2="338.10" y2="269.40" stroke="#d8d8d8" stroke-width="0.8"/>
<line x1="355.59" y1="161.80" x2="355.59" y2="269.40" stroke="#d8d8d8" stroke-width="0.8"/>
<line x1="373.08" y1="161.80" x2="373.08" y2="269.40" stroke="#d8d8d8" stroke-width="0.8"/>
<line x1="239.40" y1="252.28" x2="396.20" y2="252.28" stroke="#c4c4c4" stroke-width="0.8" stroke-dasharray="1.5,1.5"/>
<line x1="239.40" y1="217.25" x2="396.20" y2="217.25" stroke="#c4c4c4" stroke-width="0.8" stroke-dasharray="1.5,1.5"/>
<line x1="239.40" y1="182.22" x2="396.20" y2="182.22" stroke="#c4c4c4" stroke-width="0.8" stroke-dasharray="1.5,1.5"/>
<defs><clipPath id="cp3"><rect x="239.40" y="161.80" width="156.80" height="107.60"/></clipPath></defs>
<g clip-path="url(#cp3)">
<path d="M239.4,267.2 241.0,264.9 242.6,262.5 244.2,260.2 245.7,258.0 247.3,255.8 248.9,253.6 250.5,251.4 252.1,249.3 253.7,247.3 255.2,245.3 256.8,243.3 258.4,241.4 260.0,239.5 261.6,237.7 263.2,235.8 264.7,234.0 266.3,232.2 267.9,230.5 269.5,228.8 271.1,227.2 272.7,225.6 274.2,224.0 275.8,222.5 277.4,221.0 279.0,219.7 280.6,218.3 282.2,217.1 283.7,215.9 285.3,214.8 286.9,213.8 288.5,212.8 290.1,211.9 291.7,211.2 293.3,210.5 294.8,210.0 296.4,209.5 298.0,209.3 299.6,209.2 301.2,209.3 302.8,209.6 304.3,210.2 305.9,211.1 307.5,212.3 309.1,213.8 310.7,215.8 312.3,218.2 313.8,221.2 315.4,224.7 317.0,228.8 318.6,233.6 320.2,239.1 321.8,245.3 323.3,252.3 324.9,260.0 326.5,268.5 328.1,277.6 329.7,287.4 331.3,297.7 332.8,308.4 334.4,319.4 336.0,319.4 337.6,319.4 339.2,319.4 340.8,319.4 342.3,319.4 343.9,319.4 345.5,319.4 347.1,319.4 348.7,319.4 350.3,319.4 351.9,319.4 353.4,319.4 355.0,319.4 356.6,319.4 358.2,319.4 359.8,319.4 361.4,319.4 362.9,319.4 364.5,319.4 366.1,319.4 367.7,319.4 369.3,319.4 370.9,319.4 372.4,319.4 374.0,319.4 375.6,319.4 377.2,319.4 378.8,319.4 380.4,319.4 381.9,319.4 383.5,319.4 385.1,319.4 386.7,319.4 388.3,319.4 389.9,319.4 391.4,319.4 393.0,319.4 394.6,319.4 396.2,319.4" fill="none" stroke="#383838" stroke-width="1.05"/>
<path d="M239.4,267.2 241.0,264.9 242.6,262.5 244.2,260.2 245.7,258.0 247.3,255.8 248.9,253.6 250.5,251.4 252.1,249.3 253.7,247.3 255.2,245.3 256.8,243.3 258.4,241.4 260.0,239.5 261.6,237.7 263.2,235.8 264.7,234.0 266.3,232.2 267.9,230.5 269.5,228.8 271.1,227.2 272.7,225.6 274.2,224.0 275.8,222.5 277.4,221.1 279.0,219.7 280.6,218.3 282.2,217.1 283.7,215.9 285.3,214.8 286.9,213.8 288.5,212.8 290.1,212.0 291.7,211.2 293.3,210.5 294.8,210.0 296.4,209.6 298.0,209.3 299.6,209.2 301.2,209.3 302.8,209.6 304.3,210.2 305.9,211.1 307.5,212.3 309.1,213.8 310.7,215.8 312.3,218.3 313.8,221.2 315.4,224.7 317.0,228.8 318.6,233.6 320.2,239.1 321.8,245.3 323.3,252.3 324.9,260.1 326.5,268.5 328.1,277.7 329.7,287.5 331.3,297.8 332.8,308.5 334.4,319.4 336.0,319.4 337.6,319.4 339.2,319.4 340.8,319.4 342.3,319.4 343.9,319.4 345.5,319.4 347.1,319.4 348.7,319.4 350.3,319.4 351.9,319.4 353.4,319.4 355.0,319.4 356.6,319.4 358.2,319.4 359.8,319.4 361.4,319.4 362.9,319.4 364.5,319.4 366.1,319.4 367.7,319.4 369.3,319.4 370.9,319.4 372.4,319.4 374.0,319.4 375.6,319.4 377.2,319.4 378.8,319.4 380.4,319.4 381.9,319.4 383.5,319.4 385.1,319.4 386.7,319.4 388.3,319.4 389.9,319.4 391.4,319.4 393.0,319.4 394.6,319.4 396.2,319.4" fill="none" stroke="#ff2a2a" stroke-width="1.05"/>
<path d="M239.4,267.2 241.0,264.9 242.6,262.5 244.2,260.2 245.7,258.0 247.3,255.8 248.9,253.6 250.5,251.4 252.1,249.3 253.7,247.3 255.2,245.3 256.8,243.3 258.4,241.4 260.0,239.5 261.6,237.7 263.2,235.8 264.7,234.0 266.3,232.3 267.9,230.5 269.5,228.8 271.1,227.2 272.7,225.6 274.2,224.0 275.8,222.5 277.4,221.1 279.0,219.7 280.6,218.4 282.2,217.1 283.7,215.9 285.3,214.8 286.9,213.8 288.5,212.8 290.1,212.0 291.7,211.2 293.3,210.5 294.8,210.0 296.4,209.6 298.0,209.3 299.6,209.2 301.2,209.3 302.8,209.7 304.3,210.2 305.9,211.1 307.5,212.3 309.1,213.9 310.7,215.8 312.3,218.3 313.8,221.2 315.4,224.7 317.0,228.9 318.6,233.7 320.2,239.1 321.8,245.4 323.3,252.4 324.9,260.1 326.5,268.6 328.1,277.7 329.7,287.5 331.3,297.8 332.8,308.5 334.4,319.4 336.0,319.4 337.6,319.4 339.2,319.4 340.8,319.4 342.3,319.4 343.9,319.4 345.5,319.4 347.1,319.4 348.7,319.4 350.3,319.4 351.9,319.4 353.4,319.4 355.0,319.4 356.6,319.4 358.2,319.4 359.8,319.4 361.4,319.4 362.9,319.4 364.5,319.4 366.1,319.4 367.7,319.4 369.3,319.4 370.9,319.4 372.4,319.4 374.0,319.4 375.6,319.4 377.2,319.4 378.8,319.4 380.4,319.4 381.9,319.4 383.5,319.4 385.1,319.4 386.7,319.4 388.3,319.4 389.9,319.4 391.4,319.4 393.0,319.4 394.6,319.4 396.2,319.4" fill="none" stroke="#22cc22" stroke-width="1.05"/>
<path d="M239.4,267.2 241.0,264.9 242.6,262.5 244.2,260.3 245.7,258.0 247.3,255.8 248.9,253.6 250.5,251.4 252.1,249.3 253.7,247.3 255.2,245.3 256.8,243.3 258.4,241.4 260.0,239.5 261.6,237.7 263.2,235.8 264.7,234.0 266.3,232.3 267.9,230.5 269.5,228.8 271.1,227.2 272.7,225.6 274.2,224.0 275.8,222.5 277.4,221.1 279.0,219.7 280.6,218.4 282.2,217.1 283.7,215.9 285.3,214.8 286.9,213.8 288.5,212.9 290.1,212.0 291.7,211.2 293.3,210.6 294.8,210.0 296.4,209.6 298.0,209.4 299.6,209.3 301.2,209.4 302.8,209.7 304.3,210.3 305.9,211.2 307.5,212.4 309.1,213.9 310.7,215.9 312.3,218.4 313.8,221.3 315.4,224.8 317.0,229.0 318.6,233.8 320.2,239.2 321.8,245.5 323.3,252.5 324.9,260.2 326.5,268.7 328.1,277.8 329.7,287.6 331.3,297.9 332.8,308.6 334.4,319.4 336.0,319.4 337.6,319.4 339.2,319.4 340.8,319.4 342.3,319.4 343.9,319.4 345.5,319.4 347.1,319.4 348.7,319.4 350.3,319.4 351.9,319.4 353.4,319.4 355.0,319.4 356.6,319.4 358.2,319.4 359.8,319.4 361.4,319.4 362.9,319.4 364.5,319.4 366.1,319.4 367.7,319.4 369.3,319.4 370.9,319.4 372.4,319.4 374.0,319.4 375.6,319.4 377.2,319.4 378.8,319.4 380.4,319.4 381.9,319.4 383.5,319.4 385.1,319.4 386.7,319.4 388.3,319.4 389.9,319.4 391.4,319.4 393.0,319.4 394.6,319.4 396.2,319.4" fill="none" stroke="#3a3aff" stroke-width="1.05"/>
<path d="M239.4,267.2 241.0,264.9 242.6,262.5 244.2,260.3 245.7,258.0 247.3,255.8 248.9,253.6 250.5,251.5 252.1,249.4 253.7,247.3 255.2,245.3 256.8,243.3 258.4,241.4 260.0,239.5 261.6,237.7 263.2,235.9 264.7,234.0 266.3,232.3 267.9,230.5 269.5,228.9 271.1,227.2 272.7,225.6 274.2,224.0 275.8,222.5 277.4,221.1 279.0,219.7 280.6,218.4 282.2,217.2 283.7,216.0 285.3,214.9 286.9,213.9 288.5,212.9 290.1,212.0 291.7,211.3 293.3,210.6 294.8,210.1 296.4,209.7 298.0,209.4 299.6,209.3 301.2,209.5 302.8,209.8 304.3,210.4 305.9,211.3 307.5,212.5 309.1,214.1 310.7,216.0 312.3,218.5 313.8,221.5 315.4,225.0 317.0,229.1 318.6,233.9 320.2,239.4 321.8,245.7 323.3,252.6 324.9,260.4 326.5,268.9 328.1,278.0 329.7,287.8 331.3,298.1 332.8,308.8 334.4,319.4 336.0,319.4 337.6,319.4 339.2,319.4 340.8,319.4 342.3,319.4 343.9,319.4 345.5,319.4 347.1,319.4 348.7,319.4 350.3,319.4 351.9,319.4 353.4,319.4 355.0,319.4 356.6,319.4 358.2,319.4 359.8,319.4 361.4,319.4 362.9,319.4 364.5,319.4 366.1,319.4 367.7,319.4 369.3,319.4 370.9,319.4 372.4,319.4 374.0,319.4 375.6,319.4 377.2,319.4 378.8,319.4 380.4,319.4 381.9,319.4 383.5,319.4 385.1,319.4 386.7,319.4 388.3,319.4 389.9,319.4 391.4,319.4 393.0,319.4 394.6,319.4 396.2,319.4" fill="none" stroke="#10d8e8" stroke-width="1.05"/>
<path d="M239.4,267.2 241.0,264.9 242.6,262.6 244.2,260.3 245.7,258.0 247.3,255.8 248.9,253.6 250.5,251.5 252.1,249.4 253.7,247.3 255.2,245.3 256.8,243.4 258.4,241.5 260.0,239.6 261.6,237.7 263.2,235.9 264.7,234.1 266.3,232.3 267.9,230.6 269.5,228.9 271.1,227.2 272.7,225.6 274.2,224.1 275.8,222.6 277.4,221.2 279.0,219.8 280.6,218.5 282.2,217.2 283.7,216.1 285.3,215.0 286.9,213.9 288.5,213.0 290.1,212.2 291.7,211.4 293.3,210.7 294.8,210.2 296.4,209.8 298.0,209.6 299.6,209.5 301.2,209.6 302.8,210.0 304.3,210.6 305.9,211.5 307.5,212.7 309.1,214.3 310.7,216.3 312.3,218.8 313.8,221.7 315.4,225.3 317.0,229.4 318.6,234.2 320.2,239.8 321.8,246.0 323.3,253.0 324.9,260.8 326.5,269.3 328.1,278.4 329.7,288.2 331.3,298.5 332.8,309.2 334.4,319.4 336.0,319.4 337.6,319.4 339.2,319.4 340.8,319.4 342.3,319.4 343.9,319.4 345.5,319.4 347.1,319.4 348.7,319.4 350.3,319.4 351.9,319.4 353.4,319.4 355.0,319.4 356.6,319.4 358.2,319.4 359.8,319.4 361.4,319.4 362.9,319.4 364.5,319.4 366.1,319.4 367.7,319.4 369.3,319.4 370.9,319.4 372.4,319.4 374.0,319.4 375.6,319.4 377.2,319.4 378.8,319.4 380.4,319.4 381.9,319.4 383.5,319.4 385.1,319.4 386.7,319.4 388.3,319.4 389.9,319.4 391.4,319.4 393.0,319.4 394.6,319.4 396.2,319.4" fill="none" stroke="#ff30ff" stroke-width="1.05"/>
<path d="M239.4,267.3 241.0,264.9 242.6,262.6 244.2,260.3 245.7,258.1 247.3,255.8 248.9,253.7 250.5,251.5 252.1,249.4 253.7,247.4 255.2,245.4 256.8,243.4 258.4,241.5 260.0,239.7 261.6,237.8 263.2,236.0 264.7,234.2 266.3,232.4 267.9,230.7 269.5,229.0 271.1,227.4 272.7,225.8 274.2,224.3 275.8,222.8 277.4,221.3 279.0,220.0 280.6,218.7 282.2,217.5 283.7,216.3 285.3,215.2 286.9,214.2 288.5,213.3 290.1,212.5 291.7,211.7 293.3,211.1 294.8,210.6 296.4,210.2 298.0,210.0 299.6,210.0 301.2,210.1 302.8,210.5 304.3,211.2 305.9,212.1 307.5,213.4 309.1,215.0 310.7,217.0 312.3,219.5 313.8,222.6 315.4,226.2 317.0,230.3 318.6,235.2 320.2,240.8 321.8,247.1 323.3,254.1 324.9,261.9 326.5,270.4 328.1,279.6 329.7,289.4 331.3,299.7 332.8,310.4 334.4,319.4 336.0,319.4 337.6,319.4 339.2,319.4 340.8,319.4 342.3,319.4 343.9,319.4 345.5,319.4 347.1,319.4 348.7,319.4 350.3,319.4 351.9,319.4 353.4,319.4 355.0,319.4 356.6,319.4 358.2,319.4 359.8,319.4 361.4,319.4 362.9,319.4 364.5,319.4 366.1,319.4 367.7,319.4 369.3,319.4 370.9,319.4 372.4,319.4 374.0,319.4 375.6,319.4 377.2,319.4 378.8,319.4 380.4,319.4 381.9,319.4 383.5,319.4 385.1,319.4 386.7,319.4 388.3,319.4 389.9,319.4 391.4,319.4 393.0,319.4 394.6,319.4 396.2,319.4" fill="none" stroke="#ffa040" stroke-width="1.05"/>
<path d="M239.4,267.3 241.0,265.0 242.6,262.6 244.2,260.4 245.7,258.1 247.3,255.9 248.9,253.7 250.5,251.6 252.1,249.5 253.7,247.5 255.2,245.5 256.8,243.5 258.4,241.7 260.0,239.8 261.6,237.9 263.2,236.1 264.7,234.3 266.3,232.6 267.9,230.9 269.5,229.2 271.1,227.6 272.7,226.0 274.2,224.5 275.8,223.0 277.4,221.6 279.0,220.3 280.6,219.0 282.2,217.8 283.7,216.7 285.3,215.6 286.9,214.7 288.5,213.8 290.1,213.0 291.7,212.3 293.3,211.7 294.8,211.3 296.4,210.9 298.0,210.8 299.6,210.8 301.2,211.0 302.8,211.4 304.3,212.1 305.9,213.1 307.5,214.5 309.1,216.2 310.7,218.3 312.3,220.9 313.8,223.9 315.4,227.6 317.0,231.9 318.6,236.8 320.2,242.4 321.8,248.8 323.3,255.9 324.9,263.7 326.5,272.3 328.1,281.5 329.7,291.3 331.3,301.6 332.8,312.3 334.4,319.4 336.0,319.4 337.6,319.4 339.2,319.4 340.8,319.4 342.3,319.4 343.9,319.4 345.5,319.4 347.1,319.4 348.7,319.4 350.3,319.4 351.9,319.4 353.4,319.4 355.0,319.4 356.6,319.4 358.2,319.4 359.8,319.4 361.4,319.4 362.9,319.4 364.5,319.4 366.1,319.4 367.7,319.4 369.3,319.4 370.9,319.4 372.4,319.4 374.0,319.4 375.6,319.4 377.2,319.4 378.8,319.4 380.4,319.4 381.9,319.4 383.5,319.4 385.1,319.4 386.7,319.4 388.3,319.4 389.9,319.4 391.4,319.4 393.0,319.4 394.6,319.4 396.2,319.4" fill="none" stroke="#a8a040" stroke-width="1.05"/>
<path d="M239.4,267.4 241.0,265.1 242.6,262.8 244.2,260.5 245.7,258.2 247.3,256.0 248.9,253.9 250.5,251.8 252.1,249.7 253.7,247.7 255.2,245.7 256.8,243.8 258.4,241.9 260.0,240.0 261.6,238.2 263.2,236.4 264.7,234.7 266.3,232.9 267.9,231.3 269.5,229.6 271.1,228.0 272.7,226.5 274.2,225.0 275.8,223.6 277.4,222.2 279.0,220.9 280.6,219.7 282.2,218.5 283.7,217.5 285.3,216.5 286.9,215.6 288.5,214.8 290.1,214.0 291.7,213.4 293.3,212.9 294.8,212.5 296.4,212.3 298.0,212.2 299.6,212.3 301.2,212.7 302.8,213.2 304.3,214.0 305.9,215.2 307.5,216.6 309.1,218.4 310.7,220.7 312.3,223.4 313.8,226.7 315.4,230.5 317.0,234.9 318.6,239.9 320.2,245.7 321.8,252.2 323.3,259.4 324.9,267.3 326.5,275.9 328.1,285.2 329.7,295.1 331.3,305.4 332.8,316.1 334.4,319.4 336.0,319.4 337.6,319.4 339.2,319.4 340.8,319.4 342.3,319.4 343.9,319.4 345.5,319.4 347.1,319.4 348.7,319.4 350.3,319.4 351.9,319.4 353.4,319.4 355.0,319.4 356.6,319.4 358.2,319.4 359.8,319.4 361.4,319.4 362.9,319.4 364.5,319.4 366.1,319.4 367.7,319.4 369.3,319.4 370.9,319.4 372.4,319.4 374.0,319.4 375.6,319.4 377.2,319.4 378.8,319.4 380.4,319.4 381.9,319.4 383.5,319.4 385.1,319.4 386.7,319.4 388.3,319.4 389.9,319.4 391.4,319.4 393.0,319.4 394.6,319.4 396.2,319.4" fill="none" stroke="#4848b0" stroke-width="1.05"/>
<path d="M239.4,267.7 241.0,265.4 242.6,263.1 244.2,260.8 245.7,258.6 247.3,256.5 248.9,254.3 250.5,252.2 252.1,250.2 253.7,248.2 255.2,246.3 256.8,244.4 258.4,242.6 260.0,240.8 261.6,239.0 263.2,237.3 264.7,235.6 266.3,234.0 267.9,232.4 269.5,230.8 271.1,229.3 272.7,227.9 274.2,226.5 275.8,225.2 277.4,224.0 279.0,222.8 280.6,221.7 282.2,220.7 283.7,219.8 285.3,219.0 286.9,218.2 288.5,217.6 290.1,217.1 291.7,216.7 293.3,216.4 294.8,216.3 296.4,216.3 298.0,216.5 299.6,216.9 301.2,217.6 302.8,218.4 304.3,219.6 305.9,221.1 307.5,222.9 309.1,225.1 310.7,227.7 312.3,230.8 313.8,234.4 315.4,238.6 317.0,243.4 318.6,248.8 320.2,254.9 321.8,261.7 323.3,269.1 324.9,277.3 326.5,286.1 328.1,295.5 329.7,305.4 331.3,315.7 332.8,319.4 334.4,319.4 336.0,319.4 337.6,319.4 339.2,319.4 340.8,319.4 342.3,319.4 343.9,319.4 345.5,319.4 347.1,319.4 348.7,319.4 350.3,319.4 351.9,319.4 353.4,319.4 355.0,319.4 356.6,319.4 358.2,319.4 359.8,319.4 361.4,319.4 362.9,319.4 364.5,319.4 366.1,319.4 367.7,319.4 369.3,319.4 370.9,319.4 372.4,319.4 374.0,319.4 375.6,319.4 377.2,319.4 378.8,319.4 380.4,319.4 381.9,319.4 383.5,319.4 385.1,319.4 386.7,319.4 388.3,319.4 389.9,319.4 391.4,319.4 393.0,319.4 394.6,319.4 396.2,319.4" fill="none" stroke="#b848b8" stroke-width="1.05"/>
<path d="M239.4,268.2 241.0,265.9 242.6,263.6 244.2,261.4 245.7,259.3 247.3,257.1 248.9,255.1 250.5,253.1 252.1,251.1 253.7,249.2 255.2,247.3 256.8,245.5 258.4,243.8 260.0,242.1 261.6,240.4 263.2,238.8 264.7,237.2 266.3,235.7 267.9,234.2 269.5,232.8 271.1,231.5 272.7,230.2 274.2,229.0 275.8,227.9 277.4,226.8 279.0,225.8 280.6,225.0 282.2,224.2 283.7,223.6 285.3,223.0 286.9,222.6 288.5,222.2 290.1,222.1 291.7,222.0 293.3,222.1 294.8,222.3 296.4,222.8 298.0,223.4 299.6,224.2 301.2,225.3 302.8,226.7 304.3,228.3 305.9,230.3 307.5,232.6 309.1,235.4 310.7,238.5 312.3,242.2 313.8,246.3 315.4,251.0 317.0,256.3 318.6,262.1 320.2,268.6 321.8,275.8 323.3,283.5 324.9,291.9 326.5,300.8 328.1,310.2 329.7,319.4 331.3,319.4 332.8,319.4 334.4,319.4 336.0,319.4 337.6,319.4 339.2,319.4 340.8,319.4 342.3,319.4 343.9,319.4 345.5,319.4 347.1,319.4 348.7,319.4 350.3,319.4 351.9,319.4 353.4,319.4 355.0,319.4 356.6,319.4 358.2,319.4 359.8,319.4 361.4,319.4 362.9,319.4 364.5,319.4 366.1,319.4 367.7,319.4 369.3,319.4 370.9,319.4 372.4,319.4 374.0,319.4 375.6,319.4 377.2,319.4 378.8,319.4 380.4,319.4 381.9,319.4 383.5,319.4 385.1,319.4 386.7,319.4 388.3,319.4 389.9,319.4 391.4,319.4 393.0,319.4 394.6,319.4 396.2,319.4" fill="none" stroke="#b04040" stroke-width="1.05"/>
<path d="M239.4,267.3 241.0,265.0 242.6,262.6 244.2,260.4 245.7,258.1 247.3,255.9 248.9,253.8 250.5,251.7 252.1,249.6 253.7,247.6 255.2,245.6 256.8,243.7 258.4,241.9 260.0,240.1 261.6,238.3 263.2,236.5 264.7,234.9 266.3,233.2 267.9,231.6 269.5,230.1 271.1,228.7 272.7,227.3 274.2,226.0 275.8,224.8 277.4,223.7 279.0,222.8 280.6,221.9 282.2,221.2 283.7,220.7 285.3,220.3 286.9,220.1 288.5,220.1 290.1,220.2 291.7,220.7 293.3,221.4 294.8,222.4 296.4,223.7 298.0,225.3 299.6,227.4 301.2,229.9 302.8,232.8 304.3,236.3 305.9,240.2 307.5,244.7 309.1,249.8 310.7,255.5 312.3,261.8 313.8,268.7 315.4,276.1 317.0,284.0 318.6,292.4 320.2,301.2 321.8,310.3 323.3,319.4 324.9,319.4 326.5,319.4 328.1,319.4 329.7,319.4 331.3,319.4 332.8,319.4 334.4,319.4 336.0,319.4 337.6,319.4 339.2,319.4 340.8,319.4 342.3,319.4 343.9,319.4 345.5,319.4 347.1,319.4 348.7,319.4 350.3,319.4 351.9,319.4 353.4,319.4 355.0,319.4 356.6,319.4 358.2,319.4 359.8,319.4 361.4,319.4 362.9,319.4 364.5,319.4 366.1,319.4 367.7,319.4 369.3,319.4 370.9,319.4 372.4,319.4 374.0,319.4 375.6,319.4 377.2,319.4 378.8,319.4 380.4,319.4 381.9,319.4 383.5,319.4 385.1,319.4 386.7,319.4 388.3,319.4 389.9,319.4 391.4,319.4 393.0,319.4 394.6,319.4 396.2,319.4" fill="none" stroke="#383838" stroke-width="1.05" stroke-dasharray="1,1"/>
<path d="M239.4,267.3 241.0,265.0 242.6,262.6 244.2,260.4 245.7,258.1 247.3,255.9 248.9,253.8 250.5,251.7 252.1,249.6 253.7,247.6 255.2,245.6 256.8,243.7 258.4,241.9 260.0,240.1 261.6,238.3 263.2,236.5 264.7,234.9 266.3,233.2 267.9,231.6 269.5,230.1 271.1,228.7 272.7,227.3 274.2,226.0 275.8,224.8 277.4,223.8 279.0,222.8 280.6,221.9 282.2,221.2 283.7,220.7 285.3,220.3 286.9,220.1 288.5,220.1 290.1,220.3 291.7,220.7 293.3,221.4 294.8,222.4 296.4,223.7 298.0,225.3 299.6,227.4 301.2,229.9 302.8,232.8 304.3,236.3 305.9,240.2 307.5,244.8 309.1,249.9 310.7,255.5 312.3,261.8 313.8,268.7 315.4,276.1 317.0,284.0 318.6,292.4 320.2,301.2 321.8,310.3 323.3,319.4 324.9,319.4 326.5,319.4 328.1,319.4 329.7,319.4 331.3,319.4 332.8,319.4 334.4,319.4 336.0,319.4 337.6,319.4 339.2,319.4 340.8,319.4 342.3,319.4 343.9,319.4 345.5,319.4 347.1,319.4 348.7,319.4 350.3,319.4 351.9,319.4 353.4,319.4 355.0,319.4 356.6,319.4 358.2,319.4 359.8,319.4 361.4,319.4 362.9,319.4 364.5,319.4 366.1,319.4 367.7,319.4 369.3,319.4 370.9,319.4 372.4,319.4 374.0,319.4 375.6,319.4 377.2,319.4 378.8,319.4 380.4,319.4 381.9,319.4 383.5,319.4 385.1,319.4 386.7,319.4 388.3,319.4 389.9,319.4 391.4,319.4 393.0,319.4 394.6,319.4 396.2,319.4" fill="none" stroke="#ff2a2a" stroke-width="1.05" stroke-dasharray="1,1"/>
<path d="M239.4,267.3 241.0,265.0 242.6,262.6 244.2,260.4 245.7,258.1 247.3,255.9 248.9,253.8 250.5,251.7 252.1,249.6 253.7,247.6 255.2,245.6 256.8,243.7 258.4,241.9 260.0,240.1 261.6,238.3 263.2,236.5 264.7,234.9 266.3,233.2 267.9,231.6 269.5,230.1 271.1,228.7 272.7,227.3 274.2,226.0 275.8,224.8 277.4,223.8 279.0,222.8 280.6,221.9 282.2,221.2 283.7,220.7 285.3,220.3 286.9,220.1 288.5,220.1 290.1,220.3 291.7,220.7 293.3,221.4 294.8,222.4 296.4,223.7 298.0,225.3 299.6,227.4 301.2,229.9 302.8,232.8 304.3,236.3 305.9,240.2 307.5,244.8 309.1,249.9 310.7,255.5 312.3,261.8 313.8,268.7 315.4,276.1 317.0,284.0 318.6,292.4 320.2,301.2 321.8,310.3 323.3,319.4 324.9,319.4 326.5,319.4 328.1,319.4 329.7,319.4 331.3,319.4 332.8,319.4 334.4,319.4 336.0,319.4 337.6,319.4 339.2,319.4 340.8,319.4 342.3,319.4 343.9,319.4 345.5,319.4 347.1,319.4 348.7,319.4 350.3,319.4 351.9,319.4 353.4,319.4 355.0,319.4 356.6,319.4 358.2,319.4 359.8,319.4 361.4,319.4 362.9,319.4 364.5,319.4 366.1,319.4 367.7,319.4 369.3,319.4 370.9,319.4 372.4,319.4 374.0,319.4 375.6,319.4 377.2,319.4 378.8,319.4 380.4,319.4 381.9,319.4 383.5,319.4 385.1,319.4 386.7,319.4 388.3,319.4 389.9,319.4 391.4,319.4 393.0,319.4 394.6,319.4 396.2,319.4" fill="none" stroke="#22cc22" stroke-width="1.05" stroke-dasharray="1,1"/>
<path d="M239.4,267.3 241.0,265.0 242.6,262.6 244.2,260.4 245.7,258.1 247.3,255.9 248.9,253.8 250.5,251.7 252.1,249.6 253.7,247.6 255.2,245.6 256.8,243.7 258.4,241.9 260.0,240.1 261.6,238.3 263.2,236.6 264.7,234.9 266.3,233.2 267.9,231.6 269.5,230.1 271.1,228.7 272.7,227.3 274.2,226.0 275.8,224.8 277.4,223.8 279.0,222.8 280.6,222.0 282.2,221.3 283.7,220.7 285.3,220.3 286.9,220.1 288.5,220.1 290.1,220.3 291.7,220.7 293.3,221.4 294.8,222.4 296.4,223.7 298.0,225.4 299.6,227.4 301.2,229.9 302.8,232.8 304.3,236.3 305.9,240.3 307.5,244.8 309.1,249.9 310.7,255.6 312.3,261.8 313.8,268.7 315.4,276.1 317.0,284.1 318.6,292.5 320.2,301.3 321.8,310.4 323.3,319.4 324.9,319.4 326.5,319.4 328.1,319.4 329.7,319.4 331.3,319.4 332.8,319.4 334.4,319.4 336.0,319.4 337.6,319.4 339.2,319.4 340.8,319.4 342.3,319.4 343.9,319.4 345.5,319.4 347.1,319.4 348.7,319.4 350.3,319.4 351.9,319.4 353.4,319.4 355.0,319.4 356.6,319.4 358.2,319.4 359.8,319.4 361.4,319.4 362.9,319.4 364.5,319.4 366.1,319.4 367.7,319.4 369.3,319.4 370.9,319.4 372.4,319.4 374.0,319.4 375.6,319.4 377.2,319.4 378.8,319.4 380.4,319.4 381.9,319.4 383.5,319.4 385.1,319.4 386.7,319.4 388.3,319.4 389.9,319.4 391.4,319.4 393.0,319.4 394.6,319.4 396.2,319.4" fill="none" stroke="#3a3aff" stroke-width="1.05" stroke-dasharray="1,1"/>
<path d="M239.4,267.3 241.0,265.0 242.6,262.6 244.2,260.4 245.7,258.1 247.3,255.9 248.9,253.8 250.5,251.7 252.1,249.6 253.7,247.6 255.2,245.6 256.8,243.7 258.4,241.9 260.0,240.1 261.6,238.3 263.2,236.6 264.7,234.9 266.3,233.2 267.9,231.7 269.5,230.1 271.1,228.7 272.7,227.3 274.2,226.0 275.8,224.9 277.4,223.8 279.0,222.8 280.6,222.0 282.2,221.3 283.7,220.7 285.3,220.3 286.9,220.1 288.5,220.1 290.1,220.3 291.7,220.7 293.3,221.4 294.8,222.4 296.4,223.7 298.0,225.4 299.6,227.4 301.2,229.9 302.8,232.9 304.3,236.3 305.9,240.3 307.5,244.8 309.1,249.9 310.7,255.6 312.3,261.9 313.8,268.8 315.4,276.2 317.0,284.1 318.6,292.5 320.2,301.3 321.8,310.4 323.3,319.4 324.9,319.4 326.5,319.4 328.1,319.4 329.7,319.4 331.3,319.4 332.8,319.4 334.4,319.4 336.0,319.4 337.6,319.4 339.2,319.4 340.8,319.4 342.3,319.4 343.9,319.4 345.5,319.4 347.1,319.4 348.7,319.4 350.3,319.4 351.9,319.4 353.4,319.4 355.0,319.4 356.6,319.4 358.2,319.4 359.8,319.4 361.4,319.4 362.9,319.4 364.5,319.4 366.1,319.4 367.7,319.4 369.3,319.4 370.9,319.4 372.4,319.4 374.0,319.4 375.6,319.4 377.2,319.4 378.8,319.4 380.4,319.4 381.9,319.4 383.5,319.4 385.1,319.4 386.7,319.4 388.3,319.4 389.9,319.4 391.4,319.4 393.0,319.4 394.6,319.4 396.2,319.4" fill="none" stroke="#10d8e8" stroke-width="1.05" stroke-dasharray="1,1"/>
<path d="M239.4,267.3 241.0,265.0 242.6,262.7 244.2,260.4 245.7,258.1 247.3,255.9 248.9,253.8 250.5,251.7 252.1,249.6 253.7,247.6 255.2,245.7 256.8,243.8 258.4,241.9 260.0,240.1 261.6,238.3 263.2,236.6 264.7,234.9 266.3,233.3 267.9,231.7 269.5,230.2 271.1,228.7 272.7,227.4 274.2,226.1 275.8,224.9 277.4,223.8 279.0,222.9 280.6,222.0 282.2,221.3 283.7,220.8 285.3,220.4 286.9,220.2 288.5,220.2 290.1,220.4 291.7,220.8 293.3,221.5 294.8,222.5 296.4,223.8 298.0,225.5 299.6,227.5 301.2,230.0 302.8,233.0 304.3,236.4 305.9,240.4 307.5,244.9 309.1,250.0 310.7,255.7 312.3,262.0 313.8,268.9 315.4,276.3 317.0,284.2 318.6,292.6 320.2,301.4 321.8,310.6 323.3,319.4 324.9,319.4 326.5,319.4 328.1,319.4 329.7,319.4 331.3,319.4 332.8,319.4 334.4,319.4 336.0,319.4 337.6,319.4 339.2,319.4 340.8,319.4 342.3,319.4 343.9,319.4 345.5,319.4 347.1,319.4 348.7,319.4 350.3,319.4 351.9,319.4 353.4,319.4 355.0,319.4 356.6,319.4 358.2,319.4 359.8,319.4 361.4,319.4 362.9,319.4 364.5,319.4 366.1,319.4 367.7,319.4 369.3,319.4 370.9,319.4 372.4,319.4 374.0,319.4 375.6,319.4 377.2,319.4 378.8,319.4 380.4,319.4 381.9,319.4 383.5,319.4 385.1,319.4 386.7,319.4 388.3,319.4 389.9,319.4 391.4,319.4 393.0,319.4 394.6,319.4 396.2,319.4" fill="none" stroke="#ff30ff" stroke-width="1.05" stroke-dasharray="1,1"/>
<path d="M239.4,267.3 241.0,265.0 242.6,262.7 244.2,260.4 245.7,258.2 247.3,256.0 248.9,253.8 250.5,251.7 252.1,249.7 253.7,247.7 255.2,245.7 256.8,243.8 258.4,242.0 260.0,240.2 261.6,238.4 263.2,236.7 264.7,235.0 266.3,233.4 267.9,231.8 269.5,230.3 271.1,228.8 272.7,227.5 274.2,226.2 275.8,225.0 277.4,224.0 279.0,223.0 280.6,222.2 282.2,221.5 283.7,221.0 285.3,220.6 286.9,220.4 288.5,220.4 290.1,220.6 291.7,221.1 293.3,221.8 294.8,222.8 296.4,224.1 298.0,225.8 299.6,227.9 301.2,230.4 302.8,233.4 304.3,236.8 305.9,240.8 307.5,245.4 309.1,250.5 310.7,256.2 312.3,262.5 313.8,269.4 315.4,276.8 317.0,284.7 318.6,293.1 320.2,301.9 321.8,311.1 323.3,319.4 324.9,319.4 326.5,319.4 328.1,319.4 329.7,319.4 331.3,319.4 332.8,319.4 334.4,319.4 336.0,319.4 337.6,319.4 339.2,319.4 340.8,319.4 342.3,319.4 343.9,319.4 345.5,319.4 347.1,319.4 348.7,319.4 350.3,319.4 351.9,319.4 353.4,319.4 355.0,319.4 356.6,319.4 358.2,319.4 359.8,319.4 361.4,319.4 362.9,319.4 364.5,319.4 366.1,319.4 367.7,319.4 369.3,319.4 370.9,319.4 372.4,319.4 374.0,319.4 375.6,319.4 377.2,319.4 378.8,319.4 380.4,319.4 381.9,319.4 383.5,319.4 385.1,319.4 386.7,319.4 388.3,319.4 389.9,319.4 391.4,319.4 393.0,319.4 394.6,319.4 396.2,319.4" fill="none" stroke="#ffa040" stroke-width="1.05" stroke-dasharray="1,1"/>
<path d="M239.4,267.4 241.0,265.1 242.6,262.8 244.2,260.5 245.7,258.3 247.3,256.1 248.9,253.9 250.5,251.8 252.1,249.8 253.7,247.8 255.2,245.8 256.8,244.0 258.4,242.1 260.0,240.3 261.6,238.6 263.2,236.9 264.7,235.2 266.3,233.6 267.9,232.0 269.5,230.5 271.1,229.1 272.7,227.8 274.2,226.5 275.8,225.4 277.4,224.3 279.0,223.4 280.6,222.6 282.2,221.9 283.7,221.4 285.3,221.0 286.9,220.9 288.5,220.9 290.1,221.1 291.7,221.6 293.3,222.4 294.8,223.4 296.4,224.8 298.0,226.5 299.6,228.6 301.2,231.2 302.8,234.2 304.3,237.7 305.9,241.7 307.5,246.3 309.1,251.4 310.7,257.2 312.3,263.5 313.8,270.4 315.4,277.8 317.0,285.8 318.6,294.2 320.2,303.0 321.8,312.1 323.3,319.4 324.9,319.4 326.5,319.4 328.1,319.4 329.7,319.4 331.3,319.4 332.8,319.4 334.4,319.4 336.0,319.4 337.6,319.4 339.2,319.4 340.8,319.4 342.3,319.4 343.9,319.4 345.5,319.4 347.1,319.4 348.7,319.4 350.3,319.4 351.9,319.4 353.4,319.4 355.0,319.4 356.6,319.4 358.2,319.4 359.8,319.4 361.4,319.4 362.9,319.4 364.5,319.4 366.1,319.4 367.7,319.4 369.3,319.4 370.9,319.4 372.4,319.4 374.0,319.4 375.6,319.4 377.2,319.4 378.8,319.4 380.4,319.4 381.9,319.4 383.5,319.4 385.1,319.4 386.7,319.4 388.3,319.4 389.9,319.4 391.4,319.4 393.0,319.4 394.6,319.4 396.2,319.4" fill="none" stroke="#a8a040" stroke-width="1.05" stroke-dasharray="1,1"/>
<path d="M239.4,267.6 241.0,265.2 242.6,263.0 244.2,260.7 245.7,258.5 247.3,256.3 248.9,254.2 250.5,252.1 252.1,250.1 253.7,248.1 255.2,246.2 256.8,244.3 258.4,242.5 260.0,240.7 261.6,239.0 263.2,237.3 264.7,235.7 266.3,234.1 267.9,232.6 269.5,231.1 271.1,229.7 272.7,228.4 274.2,227.2 275.8,226.1 277.4,225.1 279.0,224.2 280.6,223.5 282.2,222.9 283.7,222.4 285.3,222.2 286.9,222.1 288.5,222.2 290.1,222.5 291.7,223.0 293.3,223.9 294.8,225.0 296.4,226.4 298.0,228.2 299.6,230.4 301.2,233.1 302.8,236.2 304.3,239.8 305.9,243.9 307.5,248.5 309.1,253.8 310.7,259.6 312.3,266.0 313.8,272.9 315.4,280.4 317.0,288.4 318.6,296.8 320.2,305.7 321.8,314.8 323.3,319.4 324.9,319.4 326.5,319.4 328.1,319.4 329.7,319.4 331.3,319.4 332.8,319.4 334.4,319.4 336.0,319.4 337.6,319.4 339.2,319.4 340.8,319.4 342.3,319.4 343.9,319.4 345.5,319.4 347.1,319.4 348.7,319.4 350.3,319.4 351.9,319.4 353.4,319.4 355.0,319.4 356.6,319.4 358.2,319.4 359.8,319.4 361.4,319.4 362.9,319.4 364.5,319.4 366.1,319.4 367.7,319.4 369.3,319.4 370.9,319.4 372.4,319.4 374.0,319.4 375.6,319.4 377.2,319.4 378.8,319.4 380.4,319.4 381.9,319.4 383.5,319.4 385.1,319.4 386.7,319.4 388.3,319.4 389.9,319.4 391.4,319.4 393.0,319.4 394.6,319.4 396.2,319.4" fill="none" stroke="#4848b0" stroke-width="1.05" stroke-dasharray="1,1"/>
<path d="M239.4,268.2 241.0,265.9 242.6,263.7 244.2,261.5 245.7,259.3 247.3,257.2 248.9,255.2 250.5,253.2 252.1,251.2 253.7,249.3 255.2,247.5 256.8,245.7 258.4,244.0 260.0,242.3 261.6,240.7 263.2,239.1 264.7,237.6 266.3,236.1 267.9,234.8 269.5,233.5 271.1,232.2 272.7,231.1 274.2,230.1 275.8,229.1 277.4,228.3 279.0,227.6 280.6,227.1 282.2,226.7 283.7,226.5 285.3,226.5 286.9,226.6 288.5,227.0 290.1,227.6 291.7,228.4 293.3,229.6 294.8,231.0 296.4,232.7 298.0,234.9 299.6,237.4 301.2,240.3 302.8,243.7 304.3,247.6 305.9,252.0 307.5,257.0 309.1,262.5 310.7,268.5 312.3,275.1 313.8,282.2 315.4,289.9 317.0,298.0 318.6,306.4 320.2,315.2 321.8,319.4 323.3,319.4 324.9,319.4 326.5,319.4 328.1,319.4 329.7,319.4 331.3,319.4 332.8,319.4 334.4,319.4 336.0,319.4 337.6,319.4 339.2,319.4 340.8,319.4 342.3,319.4 343.9,319.4 345.5,319.4 347.1,319.4 348.7,319.4 350.3,319.4 351.9,319.4 353.4,319.4 355.0,319.4 356.6,319.4 358.2,319.4 359.8,319.4 361.4,319.4 362.9,319.4 364.5,319.4 366.1,319.4 367.7,319.4 369.3,319.4 370.9,319.4 372.4,319.4 374.0,319.4 375.6,319.4 377.2,319.4 378.8,319.4 380.4,319.4 381.9,319.4 383.5,319.4 385.1,319.4 386.7,319.4 388.3,319.4 389.9,319.4 391.4,319.4 393.0,319.4 394.6,319.4 396.2,319.4" fill="none" stroke="#b848b8" stroke-width="1.05" stroke-dasharray="1,1"/>
<path d="M239.4,269.6 241.0,267.4 242.6,265.3 244.2,263.2 245.7,261.2 247.3,259.2 248.9,257.2 250.5,255.4 252.1,253.6 253.7,251.8 255.2,250.2 256.8,248.6 258.4,247.1 260.0,245.6 261.6,244.2 263.2,242.9 264.7,241.6 266.3,240.4 267.9,239.3 269.5,238.3 271.1,237.4 272.7,236.6 274.2,235.9 275.8,235.3 277.4,234.9 279.0,234.6 280.6,234.5 282.2,234.5 283.7,234.7 285.3,235.2 286.9,235.8 288.5,236.7 290.1,237.8 291.7,239.2 293.3,240.8 294.8,242.8 296.4,245.1 298.0,247.8 299.6,250.9 301.2,254.4 302.8,258.3 304.3,262.7 305.9,267.6 307.5,273.0 309.1,278.9 310.7,285.2 312.3,292.1 313.8,299.4 315.4,307.1 317.0,315.2 318.6,319.4 320.2,319.4 321.8,319.4 323.3,319.4 324.9,319.4 326.5,319.4 328.1,319.4 329.7,319.4 331.3,319.4 332.8,319.4 334.4,319.4 336.0,319.4 337.6,319.4 339.2,319.4 340.8,319.4 342.3,319.4 343.9,319.4 345.5,319.4 347.1,319.4 348.7,319.4 350.3,319.4 351.9,319.4 353.4,319.4 355.0,319.4 356.6,319.4 358.2,319.4 359.8,319.4 361.4,319.4 362.9,319.4 364.5,319.4 366.1,319.4 367.7,319.4 369.3,319.4 370.9,319.4 372.4,319.4 374.0,319.4 375.6,319.4 377.2,319.4 378.8,319.4 380.4,319.4 381.9,319.4 383.5,319.4 385.1,319.4 386.7,319.4 388.3,319.4 389.9,319.4 391.4,319.4 393.0,319.4 394.6,319.4 396.2,319.4" fill="none" stroke="#b04040" stroke-width="1.05" stroke-dasharray="1,1"/>
</g>
<text x="305.30" y="173.00" font-size="7.60" fill="#111" stroke="#111" stroke-width="0.25" text-anchor="start"><tspan font-size="7.60" font-style="italic">N</tspan><tspan font-size="4.56" dy="2.74" stroke-width="0.08">tr</tspan><tspan font-size="7.60" dy="-2.74">=&#160;10</tspan><tspan font-size="3.95" dy="-3.42" stroke-width="0.08">13</tspan><tspan font-size="7.60" dy="3.42">cm</tspan><tspan font-size="3.95" dy="-3.42" stroke-width="0.08">-3</tspan><tspan font-size="7.60" dy="3.42">&#160;(</tspan><tspan font-size="7.60" font-style="italic">τ</tspan><tspan font-size="4.56" dy="2.74" stroke-width="0.08">SRH</tspan><tspan font-size="7.60" dy="-2.74">&#160;=&#160;1&#160;µs)</tspan></text>
<line x1="305.30" y1="183.50" x2="319.70" y2="183.50" stroke="#3a3a3a" stroke-width="1"/>
<text x="323.40" y="186.20" font-size="7.60" fill="#111" stroke="#111" stroke-width="0.25" text-anchor="start"><tspan font-size="7.60" font-style="italic">N</tspan><tspan font-size="4.56" dy="2.74" stroke-width="0.08">D</tspan><tspan font-size="7.60" dy="-2.74">=10</tspan><tspan font-size="3.95" dy="-3.42" stroke-width="0.08">16</tspan><tspan font-size="7.60" dy="3.42">cm</tspan><tspan font-size="3.95" dy="-3.42" stroke-width="0.08">-3</tspan></text>
<line x1="305.30" y1="194.70" x2="319.70" y2="194.70" stroke="#3a3a3a" stroke-width="1" stroke-dasharray="1,1"/>
<text x="323.40" y="197.40" font-size="7.60" fill="#111" stroke="#111" stroke-width="0.25" text-anchor="start"><tspan font-size="7.60" font-style="italic">N</tspan><tspan font-size="4.56" dy="2.74" stroke-width="0.08">D</tspan><tspan font-size="7.60" dy="-2.74">=10</tspan><tspan font-size="3.95" dy="-3.42" stroke-width="0.08">18</tspan><tspan font-size="7.60" dy="3.42">cm</tspan><tspan font-size="3.95" dy="-3.42" stroke-width="0.08">-3</tspan></text>
<path d="M239.40,269.40 v-2.2 M256.89,269.40 v-1.2 M267.12,269.40 v-1.2 M274.38,269.40 v-1.2 M280.01,269.40 v-1.2 M284.61,269.40 v-1.2 M288.50,269.40 v-1.2 M291.87,269.40 v-1.2 M294.84,269.40 v-1.2 M297.50,269.40 v-2.2 M314.98,269.40 v-1.2 M325.22,269.40 v-1.2 M332.47,269.40 v-1.2 M338.10,269.40 v-1.2 M342.70,269.40 v-1.2 M346.59,269.40 v-1.2 M349.96,269.40 v-1.2 M352.93,269.40 v-1.2 M355.59,269.40 v-2.2 M373.08,269.40 v-1.2 M383.31,269.40 v-1.2 M390.57,269.40 v-1.2 M396.20,269.40 v-1.2 M239.40,161.80 v1.8 M256.89,161.80 v1.8 M267.12,161.80 v1.8 M274.38,161.80 v1.8 M280.01,161.80 v1.8 M297.50,161.80 v1.8 M314.98,161.80 v1.8 M325.22,161.80 v1.8 M332.47,161.80 v1.8 M338.10,161.80 v1.8 M355.59,161.80 v1.8 M373.08,161.80 v1.8 M383.31,161.80 v1.8 M390.57,161.80 v1.8 M396.20,161.80 v1.8 M239.40,252.28 h3 M396.20,252.28 h-3 M239.40,217.25 h3 M396.20,217.25 h-3 M239.40,182.22 h3 M396.20,182.22 h-3 M239.40,269.80 h2 M396.20,269.80 h-2 M239.40,234.77 h2 M396.20,234.77 h-2 M239.40,199.73 h2 M396.20,199.73 h-2 M239.40,164.70 h2 M396.20,164.70 h-2" stroke="#787878" stroke-width="0.9" fill="none"/>
<rect x="239.40" y="161.80" width="156.80" height="107.60" fill="none" stroke="#787878" stroke-width="1.0"/>
<text x="239.40" y="279.00" font-size="8.40" text-anchor="middle" fill="#111" stroke="#111" stroke-width="0.25">1</text>
<text x="297.50" y="279.00" font-size="8.40" text-anchor="middle" fill="#111" stroke="#111" stroke-width="0.25">10</text>
<text x="355.59" y="279.00" font-size="8.40" text-anchor="middle" fill="#111" stroke="#111" stroke-width="0.25">100</text>
<text x="239.40" y="160.90" font-size="7.80" text-anchor="middle" fill="#111" stroke="#111" stroke-width="0.25">28.1</text>
<text x="256.89" y="160.90" font-size="7.80" text-anchor="middle" fill="#111" stroke="#111" stroke-width="0.25">31.8</text>
<text x="280.01" y="160.90" font-size="7.80" text-anchor="middle" fill="#111" stroke="#111" stroke-width="0.25">35.4</text>
<text x="297.50" y="160.90" font-size="7.80" text-anchor="middle" fill="#111" stroke="#111" stroke-width="0.25">37.3</text>
<text x="314.98" y="160.90" font-size="7.80" text-anchor="middle" fill="#111" stroke="#111" stroke-width="0.25">38.8</text>
<text x="338.10" y="160.90" font-size="7.80" text-anchor="middle" fill="#111" stroke="#111" stroke-width="0.25">40.5</text>
<text x="355.59" y="160.90" font-size="7.80" text-anchor="middle" fill="#111" stroke="#111" stroke-width="0.25">41.5</text>
<text x="373.08" y="160.90" font-size="7.80" text-anchor="middle" fill="#111" stroke="#111" stroke-width="0.25">42.3</text>
<text x="396.20" y="160.90" font-size="7.80" text-anchor="middle" fill="#111" stroke="#111" stroke-width="0.25">42.8</text>
<text x="300.30" y="153.40" font-size="7.80" fill="#111" stroke="#111" stroke-width="0.25" text-anchor="start"><tspan font-size="7.80" font-style="italic">j</tspan><tspan font-size="4.68" dy="2.81" stroke-width="0.08">ph</tspan><tspan font-size="7.80" dy="-2.81">&#160;(mA/cm</tspan><tspan font-size="4.06" dy="-3.51" stroke-width="0.08">2</tspan><tspan font-size="7.80" dy="3.51">)</tspan></text>
<text x="236.90" y="255.38" font-size="8.60" text-anchor="end" fill="#111" stroke="#111" stroke-width="0.25">30</text>
<text x="236.90" y="220.35" font-size="8.60" text-anchor="end" fill="#111" stroke="#111" stroke-width="0.25">35</text>
<text x="236.90" y="185.32" font-size="8.60" text-anchor="end" fill="#111" stroke="#111" stroke-width="0.25">40</text>
<text x="317.80" y="287.90" font-size="9.20" text-anchor="middle" fill="#111" stroke="#111" stroke-width="0.25">absorber thickness (&#181;m)</text>
<text transform="translate(217.50,214.00) rotate(-90)" font-size="9.20" text-anchor="middle" fill="#111" stroke="#111" stroke-width="0.25"><tspan font-style="italic">j</tspan><tspan font-size="6" dy="2.2">SC</tspan><tspan dy="-2.2"> (mA/cm</tspan><tspan font-size="6" dy="-3">2</tspan><tspan dy="3">)</tspan></text>
<text x="209.80" y="286.70" font-size="11.20" text-anchor="start" fill="#111" stroke="#111" stroke-width="0.25">d)</text>
<line x1="51.38" y1="306.80" x2="51.38" y2="414.30" stroke="#d8d8d8" stroke-width="0.8"/>
<line x1="74.63" y1="306.80" x2="74.63" y2="414.30" stroke="#d8d8d8" stroke-width="0.8"/>
<line x1="92.21" y1="306.80" x2="92.21" y2="414.30" stroke="#d8d8d8" stroke-width="0.8"/>
<line x1="109.79" y1="306.80" x2="109.79" y2="414.30" stroke="#d8d8d8" stroke-width="0.8"/>
<line x1="133.04" y1="306.80" x2="133.04" y2="414.30" stroke="#d8d8d8" stroke-width="0.8"/>
<line x1="150.62" y1="306.80" x2="150.62" y2="414.30" stroke="#d8d8d8" stroke-width="0.8"/>
<line x1="168.21" y1="306.80" x2="168.21" y2="414.30" stroke="#d8d8d8" stroke-width="0.8"/>
<line x1="33.80" y1="387.43" x2="191.45" y2="387.43" stroke="#c4c4c4" stroke-width="0.8" stroke-dasharray="1.5,1.5"/>
<line x1="33.80" y1="360.55" x2="191.45" y2="360.55" stroke="#c4c4c4" stroke-width="0.8" stroke-dasharray="1.5,1.5"/>
<line x1="33.80" y1="333.68" x2="191.45" y2="333.68" stroke="#c4c4c4" stroke-width="0.8" stroke-dasharray="1.5,1.5"/>
<defs><clipPath id="cp4"><rect x="33.80" y="306.80" width="157.65" height="107.50"/></clipPath></defs>
<g clip-path="url(#cp4)">
<path d="M33.8,353.6 35.4,352.4 37.0,351.2 38.6,350.1 40.2,348.9 41.8,347.8 43.4,346.8 44.9,345.7 46.5,344.7 48.1,343.7 49.7,342.8 51.3,341.9 52.9,341.0 54.5,340.1 56.1,339.2 57.7,338.4 59.3,337.6 60.9,336.8 62.5,336.0 64.1,335.2 65.6,334.5 67.2,333.8 68.8,333.1 70.4,332.5 72.0,331.9 73.6,331.3 75.2,330.7 76.8,330.1 78.4,329.6 80.0,329.1 81.6,328.7 83.2,328.2 84.8,327.8 86.3,327.4 87.9,327.0 89.5,326.6 91.1,326.2 92.7,325.9 94.3,325.5 95.9,325.2 97.5,324.9 99.1,324.6 100.7,324.3 102.3,324.1 103.9,323.8 105.5,323.6 107.1,323.3 108.6,323.1 110.2,322.9 111.8,322.7 113.4,322.4 115.0,322.2 116.6,322.0 118.2,321.8 119.8,321.6 121.4,321.4 123.0,321.3 124.6,321.1 126.2,320.9 127.8,320.8 129.3,320.7 130.9,320.5 132.5,320.4 134.1,320.3 135.7,320.2 137.3,320.1 138.9,320.0 140.5,319.9 142.1,319.9 143.7,319.8 145.3,319.8 146.9,319.7 148.5,319.7 150.0,319.8 151.6,319.9 153.2,319.9 154.8,320.0 156.4,320.1 158.0,320.2 159.6,320.3 161.2,320.4 162.8,320.5 164.4,320.7 166.0,320.9 167.6,321.2 169.2,321.5 170.7,321.8 172.3,322.1 173.9,322.4 175.5,322.7 177.1,323.0 178.7,323.4 180.3,323.7 181.9,324.0 183.5,324.4 185.1,324.7 186.7,325.1 188.3,325.4 189.9,325.8 191.4,326.1" fill="none" stroke="#383838" stroke-width="1.05"/>
<path d="M33.8,364.9 35.4,363.7 37.0,362.4 38.6,361.2 40.2,360.0 41.8,358.8 43.4,357.6 44.9,356.4 46.5,355.3 48.1,354.2 49.7,353.1 51.3,352.1 52.9,351.1 54.5,350.1 56.1,349.1 57.7,348.1 59.3,347.1 60.9,346.2 62.5,345.3 64.1,344.4 65.6,343.5 67.2,342.6 68.8,341.8 70.4,341.0 72.0,340.2 73.6,339.4 75.2,338.7 76.8,338.0 78.4,337.3 80.0,336.6 81.6,336.0 83.2,335.4 84.8,334.8 86.3,334.2 87.9,333.6 89.5,333.1 91.1,332.6 92.7,332.0 94.3,331.5 95.9,331.1 97.5,330.6 99.1,330.1 100.7,329.7 102.3,329.3 103.9,328.9 105.5,328.5 107.1,328.1 108.6,327.7 110.2,327.3 111.8,327.0 113.4,326.6 115.0,326.3 116.6,325.9 118.2,325.6 119.8,325.3 121.4,325.0 123.0,324.7 124.6,324.4 126.2,324.1 127.8,323.9 129.3,323.6 130.9,323.4 132.5,323.2 134.1,323.0 135.7,322.8 137.3,322.6 138.9,322.4 140.5,322.2 142.1,322.1 143.7,321.9 145.3,321.8 146.9,321.7 148.5,321.7 150.0,321.6 151.6,321.6 153.2,321.6 154.8,321.7 156.4,321.7 158.0,321.7 159.6,321.8 161.2,321.8 162.8,321.9 164.4,322.1 166.0,322.3 167.6,322.5 169.2,322.7 170.7,323.0 172.3,323.3 173.9,323.6 175.5,323.9 177.1,324.2 178.7,324.5 180.3,324.8 181.9,325.1 183.5,325.5 185.1,325.8 186.7,326.2 188.3,326.5 189.9,326.9 191.4,327.2" fill="none" stroke="#ff2a2a" stroke-width="1.05"/>
<path d="M33.8,367.7 35.4,366.4 37.0,365.2 38.6,364.0 40.2,362.8 41.8,361.6 43.4,360.4 44.9,359.3 46.5,358.2 48.1,357.1 49.7,356.1 51.3,355.0 52.9,354.0 54.5,353.0 56.1,352.0 57.7,351.1 59.3,350.1 60.9,349.2 62.5,348.3 64.1,347.4 65.6,346.5 67.2,345.6 68.8,344.8 70.4,344.0 72.0,343.2 73.6,342.4 75.2,341.7 76.8,340.9 78.4,340.3 80.0,339.6 81.6,338.9 83.2,338.3 84.8,337.7 86.3,337.1 87.9,336.5 89.5,335.9 91.1,335.4 92.7,334.8 94.3,334.3 95.9,333.8 97.5,333.3 99.1,332.8 100.7,332.4 102.3,331.9 103.9,331.5 105.5,331.0 107.1,330.6 108.6,330.2 110.2,329.8 111.8,329.4 113.4,329.0 115.0,328.6 116.6,328.2 118.2,327.9 119.8,327.5 121.4,327.2 123.0,326.8 124.6,326.5 126.2,326.2 127.8,325.9 129.3,325.6 130.9,325.3 132.5,325.1 134.1,324.8 135.7,324.6 137.3,324.3 138.9,324.1 140.5,323.9 142.1,323.7 143.7,323.5 145.3,323.4 146.9,323.2 148.5,323.1 150.0,323.1 151.6,323.1 153.2,323.0 154.8,323.0 156.4,323.0 158.0,323.0 159.6,323.0 161.2,323.1 162.8,323.1 164.4,323.2 166.0,323.4 167.6,323.6 169.2,323.8 170.7,324.1 172.3,324.4 173.9,324.6 175.5,324.9 177.1,325.2 178.7,325.5 180.3,325.8 181.9,326.1 183.5,326.5 185.1,326.8 186.7,327.2 188.3,327.5 189.9,327.9 191.4,328.3" fill="none" stroke="#22cc22" stroke-width="1.05"/>
<path d="M33.8,371.4 35.4,370.2 37.0,369.0 38.6,367.8 40.2,366.7 41.8,365.5 43.4,364.4 44.9,363.3 46.5,362.2 48.1,361.2 49.7,360.1 51.3,359.1 52.9,358.1 54.5,357.2 56.1,356.2 57.7,355.3 59.3,354.3 60.9,353.4 62.5,352.5 64.1,351.6 65.6,350.8 67.2,349.9 68.8,349.1 70.4,348.3 72.0,347.5 73.6,346.7 75.2,346.0 76.8,345.3 78.4,344.6 80.0,343.9 81.6,343.3 83.2,342.7 84.8,342.0 86.3,341.4 87.9,340.8 89.5,340.3 91.1,339.7 92.7,339.2 94.3,338.6 95.9,338.1 97.5,337.6 99.1,337.1 100.7,336.6 102.3,336.1 103.9,335.7 105.5,335.2 107.1,334.8 108.6,334.3 110.2,333.9 111.8,333.5 113.4,333.1 115.0,332.6 116.6,332.2 118.2,331.8 119.8,331.4 121.4,331.1 123.0,330.7 124.6,330.3 126.2,330.0 127.8,329.6 129.3,329.3 130.9,329.0 132.5,328.7 134.1,328.4 135.7,328.1 137.3,327.8 138.9,327.6 140.5,327.3 142.1,327.1 143.7,326.8 145.3,326.6 146.9,326.5 148.5,326.3 150.0,326.2 151.6,326.1 153.2,326.1 154.8,326.0 156.4,326.0 158.0,325.9 159.6,325.9 161.2,325.9 162.8,326.0 164.4,326.0 166.0,326.2 167.6,326.3 169.2,326.6 170.7,326.8 172.3,327.0 173.9,327.3 175.5,327.6 177.1,327.9 178.7,328.2 180.3,328.5 181.9,328.8 183.5,329.2 185.1,329.5 186.7,329.9 188.3,330.3 189.9,330.7 191.4,331.2" fill="none" stroke="#3a3aff" stroke-width="1.05"/>
<path d="M33.8,374.3 35.4,373.1 37.0,372.0 38.6,370.8 40.2,369.7 41.8,368.6 43.4,367.5 44.9,366.4 46.5,365.3 48.1,364.3 49.7,363.3 51.3,362.3 52.9,361.4 54.5,360.4 56.1,359.5 57.7,358.6 59.3,357.6 60.9,356.7 62.5,355.9 64.1,355.0 65.6,354.2 67.2,353.3 68.8,352.5 70.4,351.7 72.0,351.0 73.6,350.2 75.2,349.5 76.8,348.8 78.4,348.1 80.0,347.5 81.6,346.8 83.2,346.2 84.8,345.6 86.3,345.0 87.9,344.4 89.5,343.8 91.1,343.3 92.7,342.7 94.3,342.2 95.9,341.7 97.5,341.2 99.1,340.7 100.7,340.2 102.3,339.7 103.9,339.3 105.5,338.8 107.1,338.4 108.6,337.9 110.2,337.5 111.8,337.1 113.4,336.6 115.0,336.2 116.6,335.8 118.2,335.4 119.8,335.0 121.4,334.6 123.0,334.2 124.6,333.9 126.2,333.5 127.8,333.2 129.3,332.8 130.9,332.5 132.5,332.2 134.1,331.9 135.7,331.6 137.3,331.3 138.9,331.0 140.5,330.8 142.1,330.5 143.7,330.3 145.3,330.1 146.9,329.9 148.5,329.7 150.0,329.6 151.6,329.5 153.2,329.5 154.8,329.4 156.4,329.3 158.0,329.3 159.6,329.3 161.2,329.3 162.8,329.4 164.4,329.4 166.0,329.6 167.6,329.8 169.2,330.0 170.7,330.2 172.3,330.5 173.9,330.8 175.5,331.1 177.1,331.4 178.7,331.8 180.3,332.2 181.9,332.6 183.5,333.0 185.1,333.4 186.7,333.9 188.3,334.3 189.9,334.9 191.4,335.4" fill="none" stroke="#10d8e8" stroke-width="1.05"/>
<path d="M33.8,377.2 35.4,376.1 37.0,375.0 38.6,373.8 40.2,372.7 41.8,371.7 43.4,370.6 44.9,369.6 46.5,368.5 48.1,367.5 49.7,366.6 51.3,365.6 52.9,364.7 54.5,363.7 56.1,362.8 57.7,361.9 59.3,361.0 60.9,360.2 62.5,359.3 64.1,358.5 65.6,357.6 67.2,356.8 68.8,356.0 70.4,355.3 72.0,354.5 73.6,353.8 75.2,353.1 76.8,352.4 78.4,351.8 80.0,351.1 81.6,350.5 83.2,349.9 84.8,349.3 86.3,348.7 87.9,348.1 89.5,347.6 91.1,347.0 92.7,346.5 94.3,346.0 95.9,345.5 97.5,345.0 99.1,344.5 100.7,344.0 102.3,343.6 103.9,343.1 105.5,342.7 107.1,342.2 108.6,341.8 110.2,341.4 111.8,341.0 113.4,340.6 115.0,340.2 116.6,339.8 118.2,339.4 119.8,339.0 121.4,338.6 123.0,338.2 124.6,337.9 126.2,337.5 127.8,337.2 129.3,336.9 130.9,336.6 132.5,336.3 134.1,336.0 135.7,335.7 137.3,335.5 138.9,335.2 140.5,335.0 142.1,334.7 143.7,334.5 145.3,334.3 146.9,334.2 148.5,334.1 150.0,334.0 151.6,333.9 153.2,333.9 154.8,333.9 156.4,333.9 158.0,333.9 159.6,333.9 161.2,334.0 162.8,334.1 164.4,334.3 166.0,334.5 167.6,334.7 169.2,335.0 170.7,335.4 172.3,335.7 173.9,336.1 175.5,336.5 177.1,337.0 178.7,337.5 180.3,338.0 181.9,338.5 183.5,339.1 185.1,339.7 186.7,340.3 188.3,341.0 189.9,341.7 191.4,342.5" fill="none" stroke="#ff30ff" stroke-width="1.05"/>
<path d="M33.8,381.1 35.4,380.0 37.0,378.9 38.6,377.9 40.2,376.8 41.8,375.8 43.4,374.8 44.9,373.7 46.5,372.8 48.1,371.8 49.7,370.9 51.3,369.9 52.9,369.0 54.5,368.2 56.1,367.3 57.7,366.4 59.3,365.6 60.9,364.7 62.5,363.9 64.1,363.1 65.6,362.3 67.2,361.5 68.8,360.8 70.4,360.0 72.0,359.3 73.6,358.6 75.2,358.0 76.8,357.3 78.4,356.7 80.0,356.1 81.6,355.5 83.2,354.9 84.8,354.3 86.3,353.8 87.9,353.2 89.5,352.7 91.1,352.2 92.7,351.7 94.3,351.2 95.9,350.7 97.5,350.3 99.1,349.8 100.7,349.4 102.3,348.9 103.9,348.5 105.5,348.1 107.1,347.7 108.6,347.3 110.2,346.9 111.8,346.5 113.4,346.2 115.0,345.8 116.6,345.5 118.2,345.1 119.8,344.8 121.4,344.5 123.0,344.1 124.6,343.8 126.2,343.6 127.8,343.3 129.3,343.0 130.9,342.8 132.5,342.6 134.1,342.4 135.7,342.2 137.3,342.0 138.9,341.9 140.5,341.7 142.1,341.6 143.7,341.5 145.3,341.5 146.9,341.4 148.5,341.4 150.0,341.5 151.6,341.6 153.2,341.7 154.8,341.9 156.4,342.1 158.0,342.3 159.6,342.5 161.2,342.8 162.8,343.1 164.4,343.5 166.0,344.0 167.6,344.5 169.2,345.1 170.7,345.7 172.3,346.4 173.9,347.1 175.5,347.9 177.1,348.7 178.7,349.6 180.3,350.5 181.9,351.4 183.5,352.5 185.1,353.5 186.7,354.6 188.3,355.8 189.9,357.0 191.4,358.3" fill="none" stroke="#ffa040" stroke-width="1.05"/>
<path d="M33.8,384.0 35.4,383.0 37.0,381.9 38.6,380.9 40.2,379.9 41.8,378.8 43.4,377.9 44.9,376.9 46.5,375.9 48.1,375.0 49.7,374.1 51.3,373.2 52.9,372.3 54.5,371.5 56.1,370.6 57.7,369.8 59.3,369.0 60.9,368.2 62.5,367.4 64.1,366.6 65.6,365.8 67.2,365.1 68.8,364.4 70.4,363.7 72.0,363.0 73.6,362.3 75.2,361.7 76.8,361.0 78.4,360.4 80.0,359.9 81.6,359.3 83.2,358.7 84.8,358.2 86.3,357.7 87.9,357.2 89.5,356.7 91.1,356.2 92.7,355.7 94.3,355.3 95.9,354.8 97.5,354.4 99.1,354.0 100.7,353.6 102.3,353.2 103.9,352.8 105.5,352.5 107.1,352.1 108.6,351.8 110.2,351.5 111.8,351.1 113.4,350.8 115.0,350.5 116.6,350.3 118.2,350.0 119.8,349.7 121.4,349.5 123.0,349.3 124.6,349.1 126.2,348.9 127.8,348.7 129.3,348.6 130.9,348.4 132.5,348.4 134.1,348.3 135.7,348.2 137.3,348.2 138.9,348.2 140.5,348.2 142.1,348.3 143.7,348.4 145.3,348.5 146.9,348.7 148.5,348.9 150.0,349.2 151.6,349.6 153.2,349.9 154.8,350.3 156.4,350.8 158.0,351.3 159.6,351.8 161.2,352.5 162.8,353.1 164.4,353.9 166.0,354.7 167.6,355.6 169.2,356.6 170.7,357.6 172.3,358.7 173.9,359.9 175.5,361.1 177.1,362.3 178.7,363.7 180.3,365.0 181.9,366.5 183.5,368.0 185.1,369.5 186.7,371.2 188.3,372.8 189.9,374.6 191.4,376.4" fill="none" stroke="#a8a040" stroke-width="1.05"/>
<path d="M33.8,386.9 35.4,385.9 37.0,384.8 38.6,383.8 40.2,382.8 41.8,381.9 43.4,380.9 44.9,380.0 46.5,379.1 48.1,378.2 49.7,377.3 51.3,376.4 52.9,375.6 54.5,374.8 56.1,374.0 57.7,373.2 59.3,372.4 60.9,371.6 62.5,370.8 64.1,370.1 65.6,369.4 67.2,368.7 68.8,368.0 70.4,367.3 72.0,366.7 73.6,366.0 75.2,365.4 76.8,364.8 78.4,364.3 80.0,363.7 81.6,363.2 83.2,362.7 84.8,362.2 86.3,361.7 87.9,361.3 89.5,360.8 91.1,360.4 92.7,360.0 94.3,359.6 95.9,359.2 97.5,358.9 99.1,358.5 100.7,358.2 102.3,357.9 103.9,357.6 105.5,357.3 107.1,357.0 108.6,356.8 110.2,356.6 111.8,356.3 113.4,356.1 115.0,356.0 116.6,355.8 118.2,355.7 119.8,355.5 121.4,355.5 123.0,355.4 124.6,355.3 126.2,355.3 127.8,355.4 129.3,355.4 130.9,355.5 132.5,355.6 134.1,355.8 135.7,356.0 137.3,356.2 138.9,356.5 140.5,356.8 142.1,357.1 143.7,357.5 145.3,358.0 146.9,358.5 148.5,359.1 150.0,359.8 151.6,360.5 153.2,361.3 154.8,362.1 156.4,363.0 158.0,363.9 159.6,364.9 161.2,366.0 162.8,367.2 164.4,368.4 166.0,369.7 167.6,371.1 169.2,372.6 170.7,374.1 172.3,375.7 173.9,377.4 175.5,379.1 177.1,380.9 178.7,382.7 180.3,384.6 181.9,386.5 183.5,388.4 185.1,390.4 186.7,392.4 188.3,394.5 189.9,396.6 191.4,398.7" fill="none" stroke="#4848b0" stroke-width="1.05"/>
<path d="M33.8,390.6 35.4,389.7 37.0,388.7 38.6,387.7 40.2,386.8 41.8,385.9 43.4,385.0 44.9,384.1 46.5,383.2 48.1,382.4 49.7,381.6 51.3,380.8 52.9,380.0 54.5,379.2 56.1,378.5 57.7,377.7 59.3,377.0 60.9,376.3 62.5,375.6 64.1,374.9 65.6,374.2 67.2,373.6 68.8,373.0 70.4,372.4 72.0,371.8 73.6,371.2 75.2,370.7 76.8,370.2 78.4,369.7 80.0,369.3 81.6,368.9 83.2,368.4 84.8,368.1 86.3,367.7 87.9,367.3 89.5,367.0 91.1,366.7 92.7,366.4 94.3,366.2 95.9,366.0 97.5,365.8 99.1,365.6 100.7,365.4 102.3,365.3 103.9,365.2 105.5,365.1 107.1,365.1 108.6,365.1 110.2,365.1 111.8,365.1 113.4,365.2 115.0,365.3 116.6,365.5 118.2,365.6 119.8,365.9 121.4,366.1 123.0,366.4 124.6,366.8 126.2,367.2 127.8,367.6 129.3,368.1 130.9,368.7 132.5,369.3 134.1,370.0 135.7,370.7 137.3,371.5 138.9,372.3 140.5,373.2 142.1,374.2 143.7,375.2 145.3,376.3 146.9,377.5 148.5,378.7 150.0,380.0 151.6,381.4 153.2,382.9 154.8,384.4 156.4,385.9 158.0,387.5 159.6,389.2 161.2,390.9 162.8,392.7 164.4,394.5 166.0,396.4 167.6,398.3 169.2,400.3 170.7,402.3 172.3,404.3 173.9,406.3 175.5,408.4 177.1,410.4 178.7,412.4 180.3,414.4 181.9,416.5 183.5,418.4 185.1,420.4 186.7,422.3 188.3,424.3 189.9,426.1 191.4,428.0" fill="none" stroke="#b848b8" stroke-width="1.05"/>
<path d="M33.8,393.5 35.4,392.6 37.0,391.7 38.6,390.8 40.2,389.9 41.8,389.0 43.4,388.1 44.9,387.3 46.5,386.5 48.1,385.7 49.7,384.9 51.3,384.2 52.9,383.5 54.5,382.8 56.1,382.1 57.7,381.4 59.3,380.7 60.9,380.1 62.5,379.5 64.1,378.9 65.6,378.3 67.2,377.7 68.8,377.2 70.4,376.7 72.0,376.2 73.6,375.7 75.2,375.3 76.8,374.9 78.4,374.6 80.0,374.2 81.6,373.9 83.2,373.6 84.8,373.4 86.3,373.2 87.9,373.0 89.5,372.8 91.1,372.7 92.7,372.6 94.3,372.5 95.9,372.5 97.5,372.5 99.1,372.6 100.7,372.7 102.3,372.8 103.9,373.0 105.5,373.2 107.1,373.4 108.6,373.7 110.2,374.0 111.8,374.4 113.4,374.8 115.0,375.3 116.6,375.8 118.2,376.4 119.8,377.0 121.4,377.7 123.0,378.5 124.6,379.3 126.2,380.1 127.8,381.1 129.3,382.0 130.9,383.1 132.5,384.2 134.1,385.4 135.7,386.6 137.3,387.9 138.9,389.2 140.5,390.6 142.1,392.0 143.7,393.6 145.3,395.1 146.9,396.7 148.5,398.4 150.0,400.1 151.6,401.9 153.2,403.7 154.8,405.5 156.4,407.3 158.0,409.1 159.6,411.0 161.2,412.9 162.8,414.8 164.4,416.7 166.0,418.6 167.6,420.4 169.2,422.3 170.7,424.2 172.3,426.0 173.9,427.8 175.5,429.6 177.1,431.3 178.7,433.0 180.3,434.6 181.9,436.2 183.5,437.8 185.1,439.2 186.7,440.7 188.3,442.1 189.9,443.4 191.4,444.7" fill="none" stroke="#b04040" stroke-width="1.05"/>
<path d="M33.8,361.4 35.4,360.3 37.0,359.3 38.6,358.2 40.2,357.2 41.8,356.1 43.4,355.2 44.9,354.2 46.5,353.3 48.1,352.4 49.7,351.5 51.3,350.7 52.9,349.9 54.5,349.1 56.1,348.4 57.7,347.6 59.3,346.9 60.9,346.2 62.5,345.5 64.1,344.9 65.6,344.3 67.2,343.7 68.8,343.2 70.4,342.6 72.0,342.1 73.6,341.7 75.2,341.3 76.8,340.9 78.4,340.6 80.0,340.3 81.6,340.0 83.2,339.8 84.8,339.6 86.3,339.5 87.9,339.4 89.5,339.3 91.1,339.3 92.7,339.4 94.3,339.5 95.9,339.8 97.5,340.0 99.1,340.4 100.7,340.9 102.3,341.5 103.9,342.1 105.5,342.9 107.1,343.9 108.6,344.9 110.2,346.2 111.8,347.6 113.4,349.1 115.0,350.9 116.6,352.9 118.2,355.0 119.8,357.5 121.4,360.1 123.0,363.0 124.6,366.1 126.2,369.4 127.8,373.0 129.3,376.8 130.9,380.8 132.5,385.0 134.1,389.3 135.7,393.7 137.3,398.2 138.9,402.7 140.5,407.2 142.1,411.6 143.7,415.9 145.3,420.2 146.9,424.2 148.5,428.1 150.0,431.8 151.6,435.3 153.2,438.5 154.8,441.5 156.4,444.3 158.0,446.8 159.6,449.1 161.2,451.2 162.8,453.1 164.4,454.8 166.0,456.4 167.6,457.7 169.2,459.0 170.7,460.1 172.3,461.0 173.9,461.9 175.5,462.6 177.1,463.3 178.7,463.9 180.3,464.3 181.9,464.3 183.5,464.3 185.1,464.3 186.7,464.3 188.3,464.3 189.9,464.3 191.4,464.3" fill="none" stroke="#383838" stroke-width="1.05" stroke-dasharray="1,1"/>
<path d="M33.8,361.6 35.4,360.5 37.0,359.4 38.6,358.3 40.2,357.3 41.8,356.3 43.4,355.3 44.9,354.3 46.5,353.4 48.1,352.5 49.7,351.6 51.3,350.8 52.9,350.0 54.5,349.2 56.1,348.4 57.7,347.7 59.3,347.0 60.9,346.3 62.5,345.6 64.1,345.0 65.6,344.3 67.2,343.8 68.8,343.2 70.4,342.7 72.0,342.2 73.6,341.7 75.2,341.3 76.8,340.9 78.4,340.6 80.0,340.3 81.6,340.0 83.2,339.8 84.8,339.6 86.3,339.5 87.9,339.4 89.5,339.4 91.1,339.4 92.7,339.4 94.3,339.6 95.9,339.8 97.5,340.1 99.1,340.4 100.7,340.9 102.3,341.5 103.9,342.1 105.5,342.9 107.1,343.9 108.6,345.0 110.2,346.2 111.8,347.6 113.4,349.2 115.0,350.9 116.6,352.9 118.2,355.1 119.8,357.5 121.4,360.1 123.0,363.0 124.6,366.1 126.2,369.5 127.8,373.0 129.3,376.8 130.9,380.8 132.5,385.0 134.1,389.3 135.7,393.7 137.3,398.2 138.9,402.7 140.5,407.2 142.1,411.6 143.7,415.9 145.3,420.2 146.9,424.2 148.5,428.1 150.0,431.8 151.6,435.3 153.2,438.5 154.8,441.5 156.4,444.3 158.0,446.8 159.6,449.1 161.2,451.2 162.8,453.1 164.4,454.8 166.0,456.4 167.6,457.7 169.2,459.0 170.7,460.1 172.3,461.0 173.9,461.9 175.5,462.6 177.1,463.3 178.7,463.9 180.3,464.3 181.9,464.3 183.5,464.3 185.1,464.3 186.7,464.3 188.3,464.3 189.9,464.3 191.4,464.3" fill="none" stroke="#ff2a2a" stroke-width="1.05" stroke-dasharray="1,1"/>
<path d="M33.8,361.7 35.4,360.6 37.0,359.5 38.6,358.4 40.2,357.4 41.8,356.4 43.4,355.4 44.9,354.4 46.5,353.5 48.1,352.6 49.7,351.7 51.3,350.9 52.9,350.1 54.5,349.3 56.1,348.5 57.7,347.8 59.3,347.0 60.9,346.3 62.5,345.7 64.1,345.0 65.6,344.4 67.2,343.8 68.8,343.2 70.4,342.7 72.0,342.2 73.6,341.8 75.2,341.4 76.8,341.0 78.4,340.6 80.0,340.3 81.6,340.1 83.2,339.8 84.8,339.7 86.3,339.5 87.9,339.4 89.5,339.4 91.1,339.4 92.7,339.5 94.3,339.6 95.9,339.8 97.5,340.1 99.1,340.5 100.7,340.9 102.3,341.5 103.9,342.2 105.5,343.0 107.1,343.9 108.6,345.0 110.2,346.2 111.8,347.6 113.4,349.2 115.0,350.9 116.6,352.9 118.2,355.1 119.8,357.5 121.4,360.1 123.0,363.0 124.6,366.1 126.2,369.5 127.8,373.0 129.3,376.8 130.9,380.8 132.5,385.0 134.1,389.3 135.7,393.7 137.3,398.2 138.9,402.7 140.5,407.2 142.1,411.6 143.7,415.9 145.3,420.2 146.9,424.2 148.5,428.1 150.0,431.8 151.6,435.3 153.2,438.5 154.8,441.5 156.4,444.3 158.0,446.8 159.6,449.1 161.2,451.2 162.8,453.1 164.4,454.8 166.0,456.4 167.6,457.7 169.2,459.0 170.7,460.1 172.3,461.0 173.9,461.9 175.5,462.6 177.1,463.3 178.7,463.9 180.3,464.3 181.9,464.3 183.5,464.3 185.1,464.3 186.7,464.3 188.3,464.3 189.9,464.3 191.4,464.3" fill="none" stroke="#22cc22" stroke-width="1.05" stroke-dasharray="1,1"/>
<path d="M33.8,362.1 35.4,361.0 37.0,359.9 38.6,358.8 40.2,357.7 41.8,356.7 43.4,355.7 44.9,354.7 46.5,353.8 48.1,352.8 49.7,352.0 51.3,351.1 52.9,350.3 54.5,349.5 56.1,348.7 57.7,348.0 59.3,347.2 60.9,346.5 62.5,345.8 64.1,345.2 65.6,344.6 67.2,344.0 68.8,343.4 70.4,342.9 72.0,342.4 73.6,341.9 75.2,341.5 76.8,341.1 78.4,340.7 80.0,340.4 81.6,340.2 83.2,339.9 84.8,339.7 86.3,339.6 87.9,339.5 89.5,339.4 91.1,339.5 92.7,339.5 94.3,339.7 95.9,339.9 97.5,340.1 99.1,340.5 100.7,341.0 102.3,341.5 103.9,342.2 105.5,343.0 107.1,343.9 108.6,345.0 110.2,346.2 111.8,347.6 113.4,349.2 115.0,351.0 116.6,352.9 118.2,355.1 119.8,357.5 121.4,360.1 123.0,363.0 124.6,366.1 126.2,369.5 127.8,373.1 129.3,376.9 130.9,380.9 132.5,385.0 134.1,389.3 135.7,393.7 137.3,398.2 138.9,402.7 140.5,407.2 142.1,411.6 143.7,416.0 145.3,420.2 146.9,424.2 148.5,428.1 150.0,431.8 151.6,435.3 153.2,438.5 154.8,441.5 156.4,444.3 158.0,446.8 159.6,449.1 161.2,451.2 162.8,453.1 164.4,454.8 166.0,456.4 167.6,457.7 169.2,459.0 170.7,460.1 172.3,461.0 173.9,461.9 175.5,462.6 177.1,463.3 178.7,463.9 180.3,464.3 181.9,464.3 183.5,464.3 185.1,464.3 186.7,464.3 188.3,464.3 189.9,464.3 191.4,464.3" fill="none" stroke="#3a3aff" stroke-width="1.05" stroke-dasharray="1,1"/>
<path d="M33.8,362.7 35.4,361.5 37.0,360.4 38.6,359.3 40.2,358.2 41.8,357.2 43.4,356.1 44.9,355.2 46.5,354.2 48.1,353.3 49.7,352.4 51.3,351.5 52.9,350.7 54.5,349.8 56.1,349.1 57.7,348.3 59.3,347.5 60.9,346.8 62.5,346.1 64.1,345.4 65.6,344.8 67.2,344.2 68.8,343.6 70.4,343.1 72.0,342.6 73.6,342.1 75.2,341.7 76.8,341.3 78.4,340.9 80.0,340.6 81.6,340.3 83.2,340.1 84.8,339.9 86.3,339.7 87.9,339.6 89.5,339.6 91.1,339.6 92.7,339.6 94.3,339.8 95.9,340.0 97.5,340.2 99.1,340.6 100.7,341.1 102.3,341.6 103.9,342.3 105.5,343.1 107.1,344.0 108.6,345.1 110.2,346.3 111.8,347.7 113.4,349.3 115.0,351.0 116.6,353.0 118.2,355.2 119.8,357.6 121.4,360.2 123.0,363.1 124.6,366.2 126.2,369.5 127.8,373.1 129.3,376.9 130.9,380.9 132.5,385.1 134.1,389.4 135.7,393.8 137.3,398.2 138.9,402.7 140.5,407.2 142.1,411.6 143.7,416.0 145.3,420.2 146.9,424.3 148.5,428.1 150.0,431.8 151.6,435.3 153.2,438.5 154.8,441.5 156.4,444.3 158.0,446.8 159.6,449.1 161.2,451.2 162.8,453.1 164.4,454.8 166.0,456.4 167.6,457.7 169.2,459.0 170.7,460.1 172.3,461.0 173.9,461.9 175.5,462.6 177.1,463.3 178.7,463.9 180.3,464.3 181.9,464.3 183.5,464.3 185.1,464.3 186.7,464.3 188.3,464.3 189.9,464.3 191.4,464.3" fill="none" stroke="#10d8e8" stroke-width="1.05" stroke-dasharray="1,1"/>
<path d="M33.8,363.6 35.4,362.5 37.0,361.3 38.6,360.2 40.2,359.1 41.8,358.0 43.4,356.9 44.9,355.9 46.5,354.9 48.1,354.0 49.7,353.1 51.3,352.2 52.9,351.3 54.5,350.5 56.1,349.6 57.7,348.9 59.3,348.1 60.9,347.3 62.5,346.6 64.1,345.9 65.6,345.3 67.2,344.6 68.8,344.0 70.4,343.5 72.0,343.0 73.6,342.5 75.2,342.0 76.8,341.6 78.4,341.2 80.0,340.9 81.6,340.6 83.2,340.4 84.8,340.2 86.3,340.0 87.9,339.9 89.5,339.8 91.1,339.8 92.7,339.9 94.3,340.0 95.9,340.2 97.5,340.4 99.1,340.8 100.7,341.3 102.3,341.8 103.9,342.5 105.5,343.3 107.1,344.2 108.6,345.3 110.2,346.5 111.8,347.9 113.4,349.4 115.0,351.2 116.6,353.2 118.2,355.3 119.8,357.7 121.4,360.4 123.0,363.2 124.6,366.3 126.2,369.7 127.8,373.3 129.3,377.1 130.9,381.0 132.5,385.2 134.1,389.5 135.7,393.9 137.3,398.3 138.9,402.8 140.5,407.3 142.1,411.7 143.7,416.1 145.3,420.3 146.9,424.3 148.5,428.2 150.0,431.9 151.6,435.3 153.2,438.6 154.8,441.5 156.4,444.3 158.0,446.8 159.6,449.1 161.2,451.2 162.8,453.1 164.4,454.8 166.0,456.4 167.6,457.7 169.2,459.0 170.7,460.1 172.3,461.0 173.9,461.9 175.5,462.6 177.1,463.3 178.7,463.9 180.3,464.3 181.9,464.3 183.5,464.3 185.1,464.3 186.7,464.3 188.3,464.3 189.9,464.3 191.4,464.3" fill="none" stroke="#ff30ff" stroke-width="1.05" stroke-dasharray="1,1"/>
<path d="M33.8,365.6 35.4,364.4 37.0,363.2 38.6,362.0 40.2,360.9 41.8,359.8 43.4,358.7 44.9,357.6 46.5,356.6 48.1,355.6 49.7,354.6 51.3,353.7 52.9,352.8 54.5,351.9 56.1,351.1 57.7,350.2 59.3,349.4 60.9,348.6 62.5,347.9 64.1,347.1 65.6,346.4 67.2,345.8 68.8,345.1 70.4,344.5 72.0,344.0 73.6,343.5 75.2,343.0 76.8,342.5 78.4,342.1 80.0,341.8 81.6,341.5 83.2,341.2 84.8,340.9 86.3,340.8 87.9,340.6 89.5,340.5 91.1,340.5 92.7,340.6 94.3,340.7 95.9,340.8 97.5,341.1 99.1,341.4 100.7,341.9 102.3,342.4 103.9,343.1 105.5,343.9 107.1,344.8 108.6,345.9 110.2,347.1 111.8,348.5 113.4,350.0 115.0,351.8 116.6,353.7 118.2,355.9 119.8,358.3 121.4,360.9 123.0,363.8 124.6,366.9 126.2,370.2 127.8,373.8 129.3,377.6 130.9,381.5 132.5,385.7 134.1,389.9 135.7,394.3 137.3,398.7 138.9,403.2 140.5,407.6 142.1,412.0 143.7,416.3 145.3,420.5 146.9,424.6 148.5,428.4 150.0,432.1 151.6,435.5 153.2,438.7 154.8,441.7 156.4,444.4 158.0,446.9 159.6,449.2 161.2,451.3 162.8,453.2 164.4,454.9 166.0,456.4 167.6,457.8 169.2,459.0 170.7,460.1 172.3,461.0 173.9,461.9 175.5,462.7 177.1,463.3 178.7,463.9 180.3,464.3 181.9,464.3 183.5,464.3 185.1,464.3 186.7,464.3 188.3,464.3 189.9,464.3 191.4,464.3" fill="none" stroke="#ffa040" stroke-width="1.05" stroke-dasharray="1,1"/>
<path d="M33.8,367.5 35.4,366.3 37.0,365.1 38.6,363.9 40.2,362.8 41.8,361.6 43.4,360.5 44.9,359.5 46.5,358.4 48.1,357.4 49.7,356.4 51.3,355.5 52.9,354.6 54.5,353.6 56.1,352.8 57.7,351.9 59.3,351.1 60.9,350.3 62.5,349.5 64.1,348.7 65.6,348.0 67.2,347.3 68.8,346.6 70.4,346.0 72.0,345.4 73.6,344.8 75.2,344.3 76.8,343.9 78.4,343.4 80.0,343.1 81.6,342.7 83.2,342.4 84.8,342.2 86.3,342.0 87.9,341.8 89.5,341.7 91.1,341.7 92.7,341.7 94.3,341.8 95.9,342.0 97.5,342.2 99.1,342.6 100.7,343.0 102.3,343.5 103.9,344.2 105.5,345.0 107.1,345.9 108.6,347.0 110.2,348.2 111.8,349.6 113.4,351.2 115.0,352.9 116.6,354.9 118.2,357.1 119.8,359.5 121.4,362.1 123.0,364.9 124.6,368.0 126.2,371.4 127.8,374.9 129.3,378.6 130.9,382.6 132.5,386.7 134.1,390.9 135.7,395.2 137.3,399.6 138.9,404.0 140.5,408.4 142.1,412.7 143.7,417.0 145.3,421.1 146.9,425.1 148.5,428.9 150.0,432.5 151.6,435.8 153.2,439.0 154.8,441.9 156.4,444.6 158.0,447.1 159.6,449.4 161.2,451.4 162.8,453.3 164.4,455.0 166.0,456.5 167.6,457.8 169.2,459.1 170.7,460.1 172.3,461.1 173.9,461.9 175.5,462.7 177.1,463.3 178.7,463.9 180.3,464.3 181.9,464.3 183.5,464.3 185.1,464.3 186.7,464.3 188.3,464.3 189.9,464.3 191.4,464.3" fill="none" stroke="#a8a040" stroke-width="1.05" stroke-dasharray="1,1"/>
<path d="M33.8,369.7 35.4,368.5 37.0,367.4 38.6,366.2 40.2,365.1 41.8,363.9 43.4,362.8 44.9,361.8 46.5,360.7 48.1,359.7 49.7,358.7 51.3,357.8 52.9,356.8 54.5,355.9 56.1,355.0 57.7,354.2 59.3,353.3 60.9,352.5 62.5,351.7 64.1,350.9 65.6,350.2 67.2,349.5 68.8,348.8 70.4,348.2 72.0,347.6 73.6,347.0 75.2,346.5 76.8,346.0 78.4,345.6 80.0,345.2 81.6,344.9 83.2,344.6 84.8,344.3 86.3,344.1 87.9,344.0 89.5,343.9 91.1,343.9 92.7,343.9 94.3,344.0 95.9,344.2 97.5,344.5 99.1,344.9 100.7,345.3 102.3,345.9 103.9,346.6 105.5,347.4 107.1,348.4 108.6,349.5 110.2,350.8 111.8,352.2 113.4,353.8 115.0,355.6 116.6,357.6 118.2,359.8 119.8,362.2 121.4,364.9 123.0,367.7 124.6,370.8 126.2,374.1 127.8,377.6 129.3,381.3 130.9,385.2 132.5,389.2 134.1,393.3 135.7,397.5 137.3,401.7 138.9,406.0 140.5,410.3 142.1,414.4 143.7,418.5 145.3,422.5 146.9,426.3 148.5,430.0 150.0,433.5 151.6,436.7 153.2,439.8 154.8,442.6 156.4,445.2 158.0,447.6 159.6,449.8 161.2,451.8 162.8,453.6 164.4,455.2 166.0,456.7 167.6,458.0 169.2,459.2 170.7,460.3 172.3,461.2 173.9,462.0 175.5,462.8 177.1,463.4 178.7,464.0 180.3,464.3 181.9,464.3 183.5,464.3 185.1,464.3 186.7,464.3 188.3,464.3 189.9,464.3 191.4,464.3" fill="none" stroke="#4848b0" stroke-width="1.05" stroke-dasharray="1,1"/>
<path d="M33.8,373.1 35.4,372.0 37.0,370.8 38.6,369.7 40.2,368.6 41.8,367.5 43.4,366.5 44.9,365.4 46.5,364.4 48.1,363.5 49.7,362.5 51.3,361.6 52.9,360.7 54.5,359.9 56.1,359.0 57.7,358.2 59.3,357.4 60.9,356.7 62.5,355.9 64.1,355.2 65.6,354.5 67.2,353.9 68.8,353.3 70.4,352.7 72.0,352.2 73.6,351.7 75.2,351.3 76.8,350.9 78.4,350.6 80.0,350.3 81.6,350.1 83.2,349.9 84.8,349.8 86.3,349.7 87.9,349.7 89.5,349.8 91.1,349.9 92.7,350.2 94.3,350.5 95.9,350.9 97.5,351.3 99.1,351.9 100.7,352.6 102.3,353.4 103.9,354.4 105.5,355.4 107.1,356.6 108.6,358.0 110.2,359.5 111.8,361.1 113.4,362.9 115.0,364.9 116.6,367.1 118.2,369.4 119.8,371.9 121.4,374.6 123.0,377.5 124.6,380.6 126.2,383.8 127.8,387.1 129.3,390.6 130.9,394.2 132.5,397.9 134.1,401.7 135.7,405.5 137.3,409.3 138.9,413.1 140.5,416.8 142.1,420.5 143.7,424.1 145.3,427.6 146.9,430.9 148.5,434.1 150.0,437.1 151.6,440.0 153.2,442.6 154.8,445.1 156.4,447.4 158.0,449.5 159.6,451.4 161.2,453.2 162.8,454.8 164.4,456.2 166.0,457.6 167.6,458.8 169.2,459.8 170.7,460.8 172.3,461.6 173.9,462.4 175.5,463.1 177.1,463.7 178.7,464.2 180.3,464.3 181.9,464.3 183.5,464.3 185.1,464.3 186.7,464.3 188.3,464.3 189.9,464.3 191.4,464.3" fill="none" stroke="#b848b8" stroke-width="1.05" stroke-dasharray="1,1"/>
<path d="M33.8,376.1 35.4,375.0 37.0,373.9 38.6,372.9 40.2,371.9 41.8,370.9 43.4,369.9 44.9,368.9 46.5,368.0 48.1,367.2 49.7,366.3 51.3,365.5 52.9,364.7 54.5,364.0 56.1,363.3 57.7,362.6 59.3,361.9 60.9,361.3 62.5,360.7 64.1,360.2 65.6,359.6 67.2,359.2 68.8,358.8 70.4,358.4 72.0,358.1 73.6,357.9 75.2,357.7 76.8,357.5 78.4,357.5 80.0,357.5 81.6,357.5 83.2,357.7 84.8,357.9 86.3,358.2 87.9,358.5 89.5,359.0 91.1,359.5 92.7,360.1 94.3,360.9 95.9,361.7 97.5,362.6 99.1,363.6 100.7,364.8 102.3,366.0 103.9,367.4 105.5,368.9 107.1,370.5 108.6,372.3 110.2,374.2 111.8,376.2 113.4,378.3 115.0,380.6 116.6,382.9 118.2,385.4 119.8,388.1 121.4,390.8 123.0,393.6 124.6,396.5 126.2,399.5 127.8,402.5 129.3,405.6 130.9,408.8 132.5,411.9 134.1,415.1 135.7,418.2 137.3,421.3 138.9,424.3 140.5,427.3 142.1,430.2 143.7,433.0 145.3,435.7 146.9,438.3 148.5,440.7 150.0,443.1 151.6,445.3 153.2,447.3 154.8,449.2 156.4,451.0 158.0,452.7 159.6,454.2 161.2,455.6 162.8,456.9 164.4,458.0 166.0,459.1 167.6,460.0 169.2,460.9 170.7,461.7 172.3,462.4 173.9,463.1 175.5,463.6 177.1,464.1 178.7,464.3 180.3,464.3 181.9,464.3 183.5,464.3 185.1,464.3 186.7,464.3 188.3,464.3 189.9,464.3 191.4,464.3" fill="none" stroke="#b04040" stroke-width="1.05" stroke-dasharray="1,1"/>
</g>
<rect x="35.90" y="311.14" width="65.04" height="8.89" fill="#fff"/>
<line x1="36.90" y1="314.90" x2="52.80" y2="314.90" stroke="#3a3a3a" stroke-width="1"/>
<text x="56.00" y="317.60" font-size="7.60" fill="#111" stroke="#111" stroke-width="0.25" text-anchor="start"><tspan font-size="7.60" font-style="italic">N</tspan><tspan font-size="4.56" dy="2.74" stroke-width="0.08">D</tspan><tspan font-size="7.60" dy="-2.74">&#160;=&#160;10</tspan><tspan font-size="3.95" dy="-3.42" stroke-width="0.08">16</tspan><tspan font-size="7.60" dy="3.42">cm</tspan><tspan font-size="3.95" dy="-3.42" stroke-width="0.08">-3</tspan></text>
<rect x="35.90" y="324.34" width="65.04" height="8.89" fill="#fff"/>
<line x1="36.90" y1="328.10" x2="52.80" y2="328.10" stroke="#3a3a3a" stroke-width="1" stroke-dasharray="1,1"/>
<text x="56.00" y="330.80" font-size="7.60" fill="#111" stroke="#111" stroke-width="0.25" text-anchor="start"><tspan font-size="7.60" font-style="italic">N</tspan><tspan font-size="4.56" dy="2.74" stroke-width="0.08">D</tspan><tspan font-size="7.60" dy="-2.74">&#160;=&#160;10</tspan><tspan font-size="3.95" dy="-3.42" stroke-width="0.08">18</tspan><tspan font-size="7.60" dy="3.42">cm</tspan><tspan font-size="3.95" dy="-3.42" stroke-width="0.08">-3</tspan></text>
<rect x="104.00" y="307.39" width="47.83" height="8.62" fill="#fff"/>
<text x="105.00" y="313.70" font-size="7.70" fill="#111" stroke="#111" stroke-width="0.25" text-anchor="start"><tspan font-size="7.70" font-style="italic">S</tspan><tspan font-size="4.62" dy="2.77" stroke-width="0.08">front</tspan><tspan font-size="7.70" dy="-2.77">&#160;=&#160;0&#160;cm/s</tspan></text>
<text x="167.00" y="315.55" font-size="8.20" text-anchor="middle" fill="#ff2a2a" stroke="#ff2a2a" stroke-width="0.25">1</text>
<text x="177.80" y="318.15" font-size="8.20" text-anchor="middle" fill="#22cc22" stroke="#22cc22" stroke-width="0.25">2</text>
<text x="187.00" y="322.05" font-size="8.20" text-anchor="middle" fill="#3a3aff" stroke="#3a3aff" stroke-width="0.25">5</text>
<rect x="177.84" y="330.26" width="9.72" height="6.89" fill="#fff"/>
<text x="182.70" y="336.65" font-size="8.20" text-anchor="middle" fill="#10d8e8" stroke="#10d8e8" stroke-width="0.25">10</text>
<rect x="178.64" y="336.66" width="9.72" height="6.89" fill="#fff"/>
<text x="183.50" y="343.05" font-size="8.20" text-anchor="middle" fill="#ff30ff" stroke="#ff30ff" stroke-width="0.25">20</text>
<rect x="178.14" y="350.96" width="9.72" height="6.89" fill="#fff"/>
<text x="183.00" y="357.35" font-size="8.20" text-anchor="middle" fill="#ffa040" stroke="#ffa040" stroke-width="0.25">50</text>
<rect x="175.06" y="366.66" width="14.28" height="6.89" fill="#fff"/>
<text x="182.20" y="373.05" font-size="8.20" text-anchor="middle" fill="#a8a040" stroke="#a8a040" stroke-width="0.25">100</text>
<rect x="174.36" y="382.66" width="14.28" height="6.89" fill="#fff"/>
<text x="181.50" y="389.05" font-size="8.20" text-anchor="middle" fill="#4848b0" stroke="#4848b0" stroke-width="0.25">200</text>
<rect x="165.56" y="397.66" width="14.28" height="6.89" fill="#fff"/>
<text x="172.70" y="404.05" font-size="8.20" text-anchor="middle" fill="#b848b8" stroke="#b848b8" stroke-width="0.25">500</text>
<rect x="146.98" y="404.06" width="18.84" height="6.89" fill="#fff"/>
<text x="156.40" y="410.45" font-size="8.20" text-anchor="middle" fill="#b04040" stroke="#b04040" stroke-width="0.25">1000</text>
<line x1="167.4" y1="316.9" x2="163.4" y2="321.3" stroke="#ff2a2a" stroke-width="1"/>
<line x1="175.5" y1="318.5" x2="171.0" y2="324.0" stroke="#22cc22" stroke-width="1"/>
<line x1="184.0" y1="322.0" x2="178.5" y2="327.6" stroke="#3a3aff" stroke-width="1"/>
<text x="36.40" y="409.00" font-size="7.75" fill="#111" stroke="#111" stroke-width="0.25" text-anchor="start"><tspan font-size="7.75" font-style="italic">N</tspan><tspan font-size="4.65" dy="2.79" stroke-width="0.08">tr</tspan><tspan font-size="7.75" dy="-2.79">=&#160;10</tspan><tspan font-size="4.03" dy="-3.49" stroke-width="0.08">9</tspan><tspan font-size="7.75" dy="3.49">cm</tspan><tspan font-size="4.03" dy="-3.49" stroke-width="0.08">-3</tspan><tspan font-size="7.75" dy="3.49">&#160;(</tspan><tspan font-size="7.75" font-style="italic">τ</tspan><tspan font-size="4.65" dy="2.79" stroke-width="0.08">SRH</tspan><tspan font-size="7.75" dy="-2.79">&#160;=&#160;10&#160;ms)</tspan></text>
<path d="M33.80,414.30 v-2.2 M51.38,414.30 v-1.2 M61.67,414.30 v-1.2 M68.97,414.30 v-1.2 M74.63,414.30 v-1.2 M79.25,414.30 v-1.2 M83.16,414.30 v-1.2 M86.55,414.30 v-1.2 M89.54,414.30 v-1.2 M92.21,414.30 v-2.2 M109.79,414.30 v-1.2 M120.08,414.30 v-1.2 M127.38,414.30 v-1.2 M133.04,414.30 v-1.2 M137.66,414.30 v-1.2 M141.57,414.30 v-1.2 M144.96,414.30 v-1.2 M147.95,414.30 v-1.2 M150.62,414.30 v-2.2 M168.21,414.30 v-1.2 M178.49,414.30 v-1.2 M185.79,414.30 v-1.2 M191.45,414.30 v-1.2 M33.80,306.80 v1.8 M51.38,306.80 v1.8 M61.67,306.80 v1.8 M68.97,306.80 v1.8 M74.63,306.80 v1.8 M92.21,306.80 v1.8 M109.79,306.80 v1.8 M120.08,306.80 v1.8 M127.38,306.80 v1.8 M133.04,306.80 v1.8 M150.62,306.80 v1.8 M168.21,306.80 v1.8 M178.49,306.80 v1.8 M185.79,306.80 v1.8 M191.45,306.80 v1.8 M33.80,414.30 h3 M191.45,414.30 h-3 M33.80,387.43 h3 M191.45,387.43 h-3 M33.80,360.55 h3 M191.45,360.55 h-3 M33.80,333.68 h3 M191.45,333.68 h-3 M33.80,400.86 h2 M191.45,400.86 h-2 M33.80,373.99 h2 M191.45,373.99 h-2 M33.80,347.11 h2 M191.45,347.11 h-2 M33.80,320.24 h2 M191.45,320.24 h-2" stroke="#787878" stroke-width="0.9" fill="none"/>
<rect x="33.80" y="306.80" width="157.65" height="107.50" fill="none" stroke="#787878" stroke-width="1.0"/>
<text x="33.80" y="423.90" font-size="8.40" text-anchor="middle" fill="#111" stroke="#111" stroke-width="0.25">1</text>
<text x="92.21" y="423.90" font-size="8.40" text-anchor="middle" fill="#111" stroke="#111" stroke-width="0.25">10</text>
<text x="150.62" y="423.90" font-size="8.40" text-anchor="middle" fill="#111" stroke="#111" stroke-width="0.25">100</text>
<text x="33.80" y="305.90" font-size="7.80" text-anchor="middle" fill="#111" stroke="#111" stroke-width="0.25">28.1</text>
<text x="51.38" y="305.90" font-size="7.80" text-anchor="middle" fill="#111" stroke="#111" stroke-width="0.25">31.8</text>
<text x="74.63" y="305.90" font-size="7.80" text-anchor="middle" fill="#111" stroke="#111" stroke-width="0.25">35.4</text>
<text x="92.21" y="305.90" font-size="7.80" text-anchor="middle" fill="#111" stroke="#111" stroke-width="0.25">37.3</text>
<text x="109.79" y="305.90" font-size="7.80" text-anchor="middle" fill="#111" stroke="#111" stroke-width="0.25">38.8</text>
<text x="133.04" y="305.90" font-size="7.80" text-anchor="middle" fill="#111" stroke="#111" stroke-width="0.25">40.5</text>
<text x="150.62" y="305.90" font-size="7.80" text-anchor="middle" fill="#111" stroke="#111" stroke-width="0.25">41.5</text>
<text x="168.21" y="305.90" font-size="7.80" text-anchor="middle" fill="#111" stroke="#111" stroke-width="0.25">42.3</text>
<text x="191.45" y="305.90" font-size="7.80" text-anchor="middle" fill="#111" stroke="#111" stroke-width="0.25">42.8</text>
<text x="94.70" y="298.40" font-size="7.80" fill="#111" stroke="#111" stroke-width="0.25" text-anchor="start"><tspan font-size="7.80" font-style="italic">j</tspan><tspan font-size="4.68" dy="2.81" stroke-width="0.08">ph</tspan><tspan font-size="7.80" dy="-2.81">&#160;(mA/cm</tspan><tspan font-size="4.06" dy="-3.51" stroke-width="0.08">2</tspan><tspan font-size="7.80" dy="3.51">)</tspan></text>
<text x="31.30" y="417.40" font-size="8.60" text-anchor="end" fill="#111" stroke="#111" stroke-width="0.25">10</text>
<text x="31.30" y="390.53" font-size="8.60" text-anchor="end" fill="#111" stroke="#111" stroke-width="0.25">15</text>
<text x="31.30" y="363.65" font-size="8.60" text-anchor="end" fill="#111" stroke="#111" stroke-width="0.25">20</text>
<text x="31.30" y="336.78" font-size="8.60" text-anchor="end" fill="#111" stroke="#111" stroke-width="0.25">25</text>
<text x="112.62" y="432.80" font-size="9.20" text-anchor="middle" fill="#111" stroke="#111" stroke-width="0.25">absorber thickness (&#181;m)</text>
<text transform="translate(14.00,356.85) rotate(-90)" font-size="9.80" text-anchor="middle" fill="#111" stroke="#111" stroke-width="0.25"><tspan font-style="italic">&#951;</tspan> (%)</text>
<text x="0.30" y="431.60" font-size="11.20" text-anchor="start" fill="#111" stroke="#111" stroke-width="0.25">e)</text>
<line x1="256.89" y1="306.80" x2="256.89" y2="414.30" stroke="#d8d8d8" stroke-width="0.8"/>
<line x1="280.01" y1="306.80" x2="280.01" y2="414.30" stroke="#d8d8d8" stroke-width="0.8"/>
<line x1="297.50" y1="306.80" x2="297.50" y2="414.30" stroke="#d8d8d8" stroke-width="0.8"/>
<line x1="314.98" y1="306.80" x2="314.98" y2="414.30" stroke="#d8d8d8" stroke-width="0.8"/>
<line x1="338.10" y1="306.80" x2="338.10" y2="414.30" stroke="#d8d8d8" stroke-width="0.8"/>
<line x1="355.59" y1="306.80" x2="355.59" y2="414.30" stroke="#d8d8d8" stroke-width="0.8"/>
<line x1="373.08" y1="306.80" x2="373.08" y2="414.30" stroke="#d8d8d8" stroke-width="0.8"/>
<line x1="239.40" y1="387.43" x2="396.20" y2="387.43" stroke="#c4c4c4" stroke-width="0.8" stroke-dasharray="1.5,1.5"/>
<line x1="239.40" y1="360.55" x2="396.20" y2="360.55" stroke="#c4c4c4" stroke-width="0.8" stroke-dasharray="1.5,1.5"/>
<line x1="239.40" y1="333.68" x2="396.20" y2="333.68" stroke="#c4c4c4" stroke-width="0.8" stroke-dasharray="1.5,1.5"/>
<defs><clipPath id="cp5"><rect x="239.40" y="306.80" width="156.80" height="107.50"/></clipPath></defs>
<g clip-path="url(#cp5)">
<path d="M239.4,384.7 241.0,383.9 242.6,383.1 244.2,382.3 245.7,381.5 247.3,380.8 248.9,380.1 250.5,379.4 252.1,378.8 253.7,378.1 255.2,377.5 256.8,377.0 258.4,376.4 260.0,375.9 261.6,375.3 263.2,374.8 264.7,374.3 266.3,373.8 267.9,373.4 269.5,373.0 271.1,372.5 272.7,372.2 274.2,371.8 275.8,371.5 277.4,371.1 279.0,370.9 280.6,370.6 282.2,370.4 283.7,370.2 285.3,370.1 286.9,369.9 288.5,369.8 290.1,369.8 291.7,369.8 293.3,369.8 294.8,369.9 296.4,370.0 298.0,370.2 299.6,370.5 301.2,370.8 302.8,371.2 304.3,371.7 305.9,372.4 307.5,373.1 309.1,374.0 310.7,375.0 312.3,376.2 313.8,377.6 315.4,379.2 317.0,381.0 318.6,383.1 320.2,385.4 321.8,388.0 323.3,390.8 324.9,393.9 326.5,397.2 328.1,400.8 329.7,404.5 331.3,408.5 332.8,412.5 334.4,416.6 336.0,420.8 337.6,424.9 339.2,428.9 340.8,432.7 342.3,436.4 343.9,439.8 345.5,443.0 347.1,446.0 348.7,448.7 350.3,451.1 351.9,453.3 353.4,455.3 355.0,457.0 356.6,458.5 358.2,459.9 359.8,461.0 361.4,462.0 362.9,462.9 364.5,463.6 366.1,464.3 367.7,464.3 369.3,464.3 370.9,464.3 372.4,464.3 374.0,464.3 375.6,464.3 377.2,464.3 378.8,464.3 380.4,464.3 381.9,464.3 383.5,464.3 385.1,464.3 386.7,464.3 388.3,464.3 389.9,464.3 391.4,464.3 393.0,464.3 394.6,464.3 396.2,464.3" fill="none" stroke="#383838" stroke-width="1.05"/>
<path d="M239.4,384.7 241.0,383.9 242.6,383.1 244.2,382.3 245.7,381.6 247.3,380.8 248.9,380.1 250.5,379.5 252.1,378.8 253.7,378.2 255.2,377.6 256.8,377.0 258.4,376.4 260.0,375.9 261.6,375.3 263.2,374.8 264.7,374.3 266.3,373.9 267.9,373.4 269.5,373.0 271.1,372.6 272.7,372.2 274.2,371.8 275.8,371.5 277.4,371.2 279.0,370.9 280.6,370.6 282.2,370.4 283.7,370.2 285.3,370.1 286.9,369.9 288.5,369.8 290.1,369.8 291.7,369.8 293.3,369.8 294.8,369.9 296.4,370.0 298.0,370.2 299.6,370.5 301.2,370.8 302.8,371.2 304.3,371.8 305.9,372.4 307.5,373.1 309.1,374.0 310.7,375.1 312.3,376.3 313.8,377.7 315.4,379.2 317.0,381.1 318.6,383.1 320.2,385.4 321.8,388.0 323.3,390.8 324.9,393.9 326.5,397.2 328.1,400.8 329.7,404.5 331.3,408.5 332.8,412.5 334.4,416.6 336.0,420.8 337.6,424.9 339.2,428.9 340.8,432.7 342.3,436.4 343.9,439.8 345.5,443.0 347.1,446.0 348.7,448.7 350.3,451.1 351.9,453.3 353.4,455.3 355.0,457.0 356.6,458.5 358.2,459.9 359.8,461.0 361.4,462.0 362.9,462.9 364.5,463.7 366.1,464.3 367.7,464.3 369.3,464.3 370.9,464.3 372.4,464.3 374.0,464.3 375.6,464.3 377.2,464.3 378.8,464.3 380.4,464.3 381.9,464.3 383.5,464.3 385.1,464.3 386.7,464.3 388.3,464.3 389.9,464.3 391.4,464.3 393.0,464.3 394.6,464.3 396.2,464.3" fill="none" stroke="#ff2a2a" stroke-width="1.05"/>
<path d="M239.4,384.7 241.0,383.9 242.6,383.1 244.2,382.4 245.7,381.6 247.3,380.9 248.9,380.2 250.5,379.5 252.1,378.8 253.7,378.2 255.2,377.6 256.8,377.0 258.4,376.4 260.0,375.9 261.6,375.4 263.2,374.9 264.7,374.4 266.3,373.9 267.9,373.4 269.5,373.0 271.1,372.6 272.7,372.2 274.2,371.8 275.8,371.5 277.4,371.2 279.0,370.9 280.6,370.6 282.2,370.4 283.7,370.2 285.3,370.1 286.9,369.9 288.5,369.9 290.1,369.8 291.7,369.8 293.3,369.8 294.8,369.9 296.4,370.0 298.0,370.2 299.6,370.5 301.2,370.8 302.8,371.3 304.3,371.8 305.9,372.4 307.5,373.1 309.1,374.0 310.7,375.1 312.3,376.3 313.8,377.7 315.4,379.3 317.0,381.1 318.6,383.1 320.2,385.4 321.8,388.0 323.3,390.8 324.9,393.9 326.5,397.2 328.1,400.8 329.7,404.6 331.3,408.5 332.8,412.5 334.4,416.7 336.0,420.8 337.6,424.9 339.2,428.9 340.8,432.7 342.3,436.4 343.9,439.8 345.5,443.1 347.1,446.0 348.7,448.7 350.3,451.2 351.9,453.3 353.4,455.3 355.0,457.0 356.6,458.5 358.2,459.9 359.8,461.0 361.4,462.0 362.9,462.9 364.5,463.7 366.1,464.3 367.7,464.3 369.3,464.3 370.9,464.3 372.4,464.3 374.0,464.3 375.6,464.3 377.2,464.3 378.8,464.3 380.4,464.3 381.9,464.3 383.5,464.3 385.1,464.3 386.7,464.3 388.3,464.3 389.9,464.3 391.4,464.3 393.0,464.3 394.6,464.3 396.2,464.3" fill="none" stroke="#22cc22" stroke-width="1.05"/>
<path d="M239.4,384.9 241.0,384.1 242.6,383.3 244.2,382.5 245.7,381.7 247.3,381.0 248.9,380.3 250.5,379.6 252.1,378.9 253.7,378.3 255.2,377.7 256.8,377.1 258.4,376.5 260.0,376.0 261.6,375.4 263.2,374.9 264.7,374.4 266.3,373.9 267.9,373.5 269.5,373.0 271.1,372.6 272.7,372.2 274.2,371.9 275.8,371.5 277.4,371.2 279.0,370.9 280.6,370.7 282.2,370.5 283.7,370.3 285.3,370.1 286.9,370.0 288.5,369.9 290.1,369.8 291.7,369.8 293.3,369.9 294.8,369.9 296.4,370.1 298.0,370.3 299.6,370.5 301.2,370.9 302.8,371.3 304.3,371.8 305.9,372.4 307.5,373.2 309.1,374.1 310.7,375.1 312.3,376.3 313.8,377.7 315.4,379.3 317.0,381.1 318.6,383.2 320.2,385.5 321.8,388.0 323.3,390.9 324.9,393.9 326.5,397.3 328.1,400.8 329.7,404.6 331.3,408.5 332.8,412.6 334.4,416.7 336.0,420.8 337.6,424.9 339.2,428.9 340.8,432.8 342.3,436.4 343.9,439.9 345.5,443.1 347.1,446.0 348.7,448.7 350.3,451.2 351.9,453.4 353.4,455.3 355.0,457.0 356.6,458.6 358.2,459.9 359.8,461.1 361.4,462.1 362.9,462.9 364.5,463.7 366.1,464.3 367.7,464.3 369.3,464.3 370.9,464.3 372.4,464.3 374.0,464.3 375.6,464.3 377.2,464.3 378.8,464.3 380.4,464.3 381.9,464.3 383.5,464.3 385.1,464.3 386.7,464.3 388.3,464.3 389.9,464.3 391.4,464.3 393.0,464.3 394.6,464.3 396.2,464.3" fill="none" stroke="#3a3aff" stroke-width="1.05"/>
<path d="M239.4,385.1 241.0,384.3 242.6,383.4 244.2,382.7 245.7,381.9 247.3,381.1 248.9,380.4 250.5,379.7 252.1,379.0 253.7,378.4 255.2,377.8 256.8,377.2 258.4,376.6 260.0,376.1 261.6,375.5 263.2,375.0 264.7,374.5 266.3,374.0 267.9,373.6 269.5,373.1 271.1,372.7 272.7,372.3 274.2,371.9 275.8,371.6 277.4,371.3 279.0,371.0 280.6,370.7 282.2,370.5 283.7,370.3 285.3,370.2 286.9,370.0 288.5,369.9 290.1,369.9 291.7,369.9 293.3,369.9 294.8,370.0 296.4,370.1 298.0,370.3 299.6,370.6 301.2,370.9 302.8,371.3 304.3,371.9 305.9,372.5 307.5,373.2 309.1,374.1 310.7,375.2 312.3,376.4 313.8,377.8 315.4,379.4 317.0,381.2 318.6,383.2 320.2,385.5 321.8,388.1 323.3,390.9 324.9,394.0 326.5,397.3 328.1,400.9 329.7,404.7 331.3,408.6 332.8,412.7 334.4,416.8 336.0,420.9 337.6,425.0 339.2,429.0 340.8,432.8 342.3,436.5 343.9,439.9 345.5,443.1 347.1,446.1 348.7,448.8 350.3,451.2 351.9,453.4 353.4,455.4 355.0,457.1 356.6,458.6 358.2,459.9 359.8,461.1 361.4,462.1 362.9,462.9 364.5,463.7 366.1,464.3 367.7,464.3 369.3,464.3 370.9,464.3 372.4,464.3 374.0,464.3 375.6,464.3 377.2,464.3 378.8,464.3 380.4,464.3 381.9,464.3 383.5,464.3 385.1,464.3 386.7,464.3 388.3,464.3 389.9,464.3 391.4,464.3 393.0,464.3 394.6,464.3 396.2,464.3" fill="none" stroke="#10d8e8" stroke-width="1.05"/>
<path d="M239.4,385.5 241.0,384.6 242.6,383.8 244.2,383.0 245.7,382.2 247.3,381.4 248.9,380.7 250.5,380.0 252.1,379.3 253.7,378.7 255.2,378.0 256.8,377.4 258.4,376.8 260.0,376.3 261.6,375.7 263.2,375.2 264.7,374.7 266.3,374.2 267.9,373.7 269.5,373.3 271.1,372.9 272.7,372.5 274.2,372.1 275.8,371.7 277.4,371.4 279.0,371.1 280.6,370.9 282.2,370.6 283.7,370.4 285.3,370.3 286.9,370.1 288.5,370.1 290.1,370.0 291.7,370.0 293.3,370.0 294.8,370.1 296.4,370.2 298.0,370.4 299.6,370.7 301.2,371.0 302.8,371.4 304.3,372.0 305.9,372.6 307.5,373.4 309.1,374.2 310.7,375.3 312.3,376.5 313.8,377.9 315.4,379.5 317.0,381.3 318.6,383.4 320.2,385.7 321.8,388.2 323.3,391.1 324.9,394.2 326.5,397.5 328.1,401.1 329.7,404.8 331.3,408.8 332.8,412.8 334.4,416.9 336.0,421.1 337.6,425.1 339.2,429.1 340.8,433.0 342.3,436.6 343.9,440.1 345.5,443.3 347.1,446.2 348.7,448.9 350.3,451.3 351.9,453.5 353.4,455.4 355.0,457.2 356.6,458.7 358.2,460.0 359.8,461.1 361.4,462.1 362.9,463.0 364.5,463.7 366.1,464.3 367.7,464.3 369.3,464.3 370.9,464.3 372.4,464.3 374.0,464.3 375.6,464.3 377.2,464.3 378.8,464.3 380.4,464.3 381.9,464.3 383.5,464.3 385.1,464.3 386.7,464.3 388.3,464.3 389.9,464.3 391.4,464.3 393.0,464.3 394.6,464.3 396.2,464.3" fill="none" stroke="#ff30ff" stroke-width="1.05"/>
<path d="M239.4,386.4 241.0,385.5 242.6,384.7 244.2,383.8 245.7,383.0 247.3,382.2 248.9,381.5 250.5,380.7 252.1,380.0 253.7,379.3 255.2,378.7 256.8,378.0 258.4,377.4 260.0,376.8 261.6,376.3 263.2,375.7 264.7,375.2 266.3,374.7 267.9,374.2 269.5,373.7 271.1,373.3 272.7,372.9 274.2,372.5 275.8,372.1 277.4,371.8 279.0,371.5 280.6,371.2 282.2,371.0 283.7,370.8 285.3,370.6 286.9,370.5 288.5,370.4 290.1,370.3 291.7,370.3 293.3,370.3 294.8,370.4 296.4,370.5 298.0,370.7 299.6,371.0 301.2,371.3 302.8,371.8 304.3,372.3 305.9,372.9 307.5,373.7 309.1,374.6 310.7,375.6 312.3,376.9 313.8,378.3 315.4,379.9 317.0,381.7 318.6,383.8 320.2,386.1 321.8,388.7 323.3,391.5 324.9,394.6 326.5,398.0 328.1,401.5 329.7,405.3 331.3,409.2 332.8,413.3 334.4,417.4 336.0,421.5 337.6,425.6 339.2,429.5 340.8,433.4 342.3,437.0 343.9,440.4 345.5,443.6 347.1,446.5 348.7,449.2 350.3,451.6 351.9,453.8 353.4,455.7 355.0,457.4 356.6,458.9 358.2,460.2 359.8,461.3 361.4,462.3 362.9,463.1 364.5,463.9 366.1,464.3 367.7,464.3 369.3,464.3 370.9,464.3 372.4,464.3 374.0,464.3 375.6,464.3 377.2,464.3 378.8,464.3 380.4,464.3 381.9,464.3 383.5,464.3 385.1,464.3 386.7,464.3 388.3,464.3 389.9,464.3 391.4,464.3 393.0,464.3 394.6,464.3 396.2,464.3" fill="none" stroke="#ffa040" stroke-width="1.05"/>
<path d="M239.4,387.6 241.0,386.7 242.6,385.8 244.2,384.9 245.7,384.1 247.3,383.3 248.9,382.5 250.5,381.7 252.1,381.0 253.7,380.3 255.2,379.6 256.8,378.9 258.4,378.3 260.0,377.7 261.6,377.1 263.2,376.5 264.7,375.9 266.3,375.4 267.9,374.9 269.5,374.4 271.1,373.9 272.7,373.5 274.2,373.1 275.8,372.7 277.4,372.4 279.0,372.0 280.6,371.8 282.2,371.5 283.7,371.3 285.3,371.1 286.9,371.0 288.5,370.9 290.1,370.8 291.7,370.8 293.3,370.8 294.8,370.9 296.4,371.0 298.0,371.2 299.6,371.5 301.2,371.9 302.8,372.3 304.3,372.8 305.9,373.5 307.5,374.3 309.1,375.2 310.7,376.2 312.3,377.5 313.8,378.9 315.4,380.5 317.0,382.4 318.6,384.5 320.2,386.8 321.8,389.4 323.3,392.2 324.9,395.3 326.5,398.7 328.1,402.3 329.7,406.0 331.3,410.0 332.8,414.0 334.4,418.1 336.0,422.2 337.6,426.2 339.2,430.2 340.8,434.0 342.3,437.6 343.9,441.0 345.5,444.1 347.1,447.0 348.7,449.7 350.3,452.0 351.9,454.2 353.4,456.0 355.0,457.7 356.6,459.2 358.2,460.5 359.8,461.6 361.4,462.5 362.9,463.3 364.5,464.1 366.1,464.3 367.7,464.3 369.3,464.3 370.9,464.3 372.4,464.3 374.0,464.3 375.6,464.3 377.2,464.3 378.8,464.3 380.4,464.3 381.9,464.3 383.5,464.3 385.1,464.3 386.7,464.3 388.3,464.3 389.9,464.3 391.4,464.3 393.0,464.3 394.6,464.3 396.2,464.3" fill="none" stroke="#a8a040" stroke-width="1.05"/>
<path d="M239.4,389.2 241.0,388.3 242.6,387.4 244.2,386.5 245.7,385.6 247.3,384.8 248.9,384.0 250.5,383.2 252.1,382.4 253.7,381.7 255.2,381.0 256.8,380.3 258.4,379.6 260.0,379.0 261.6,378.3 263.2,377.7 264.7,377.2 266.3,376.6 267.9,376.1 269.5,375.5 271.1,375.1 272.7,374.6 274.2,374.2 275.8,373.8 277.4,373.4 279.0,373.1 280.6,372.8 282.2,372.5 283.7,372.3 285.3,372.1 286.9,371.9 288.5,371.8 290.1,371.8 291.7,371.8 293.3,371.8 294.8,371.9 296.4,372.0 298.0,372.2 299.6,372.5 301.2,372.9 302.8,373.3 304.3,373.9 305.9,374.6 307.5,375.4 309.1,376.3 310.7,377.4 312.3,378.7 313.8,380.1 315.4,381.8 317.0,383.7 318.6,385.8 320.2,388.2 321.8,390.8 323.3,393.6 324.9,396.8 326.5,400.1 328.1,403.7 329.7,407.5 331.3,411.4 332.8,415.4 334.4,419.5 336.0,423.5 337.6,427.5 339.2,431.4 340.8,435.2 342.3,438.7 343.9,442.1 345.5,445.1 347.1,448.0 348.7,450.5 350.3,452.8 351.9,454.9 353.4,456.7 355.0,458.3 356.6,459.7 358.2,461.0 359.8,462.0 361.4,462.9 362.9,463.7 364.5,464.3 366.1,464.3 367.7,464.3 369.3,464.3 370.9,464.3 372.4,464.3 374.0,464.3 375.6,464.3 377.2,464.3 378.8,464.3 380.4,464.3 381.9,464.3 383.5,464.3 385.1,464.3 386.7,464.3 388.3,464.3 389.9,464.3 391.4,464.3 393.0,464.3 394.6,464.3 396.2,464.3" fill="none" stroke="#4848b0" stroke-width="1.05"/>
<path d="M239.4,391.9 241.0,391.0 242.6,390.1 244.2,389.2 245.7,388.4 247.3,387.5 248.9,386.7 250.5,385.9 252.1,385.1 253.7,384.4 255.2,383.6 256.8,382.9 258.4,382.3 260.0,381.6 261.6,381.0 263.2,380.3 264.7,379.7 266.3,379.2 267.9,378.6 269.5,378.1 271.1,377.6 272.7,377.1 274.2,376.6 275.8,376.2 277.4,375.9 279.0,375.5 280.6,375.2 282.2,375.0 283.7,374.7 285.3,374.5 286.9,374.4 288.5,374.3 290.1,374.3 291.7,374.3 293.3,374.3 294.8,374.5 296.4,374.7 298.0,374.9 299.6,375.2 301.2,375.7 302.8,376.2 304.3,376.8 305.9,377.6 307.5,378.5 309.1,379.5 310.7,380.7 312.3,382.0 313.8,383.6 315.4,385.3 317.0,387.3 318.6,389.5 320.2,392.0 321.8,394.6 323.3,397.6 324.9,400.7 326.5,404.1 328.1,407.7 329.7,411.4 331.3,415.3 332.8,419.2 334.4,423.2 336.0,427.1 337.6,431.0 339.2,434.8 340.8,438.3 342.3,441.7 343.9,444.8 345.5,447.7 347.1,450.3 348.7,452.7 350.3,454.8 351.9,456.7 353.4,458.4 355.0,459.8 356.6,461.1 358.2,462.2 359.8,463.1 361.4,463.9 362.9,464.3 364.5,464.3 366.1,464.3 367.7,464.3 369.3,464.3 370.9,464.3 372.4,464.3 374.0,464.3 375.6,464.3 377.2,464.3 378.8,464.3 380.4,464.3 381.9,464.3 383.5,464.3 385.1,464.3 386.7,464.3 388.3,464.3 389.9,464.3 391.4,464.3 393.0,464.3 394.6,464.3 396.2,464.3" fill="none" stroke="#b848b8" stroke-width="1.05"/>
<path d="M239.4,394.4 241.0,393.5 242.6,392.6 244.2,391.7 245.7,390.9 247.3,390.1 248.9,389.3 250.5,388.5 252.1,387.7 253.7,387.0 255.2,386.3 256.8,385.6 258.4,385.0 260.0,384.3 261.6,383.7 263.2,383.1 264.7,382.5 266.3,382.0 267.9,381.4 269.5,380.9 271.1,380.4 272.7,380.0 274.2,379.6 275.8,379.2 277.4,378.9 279.0,378.6 280.6,378.3 282.2,378.1 283.7,377.9 285.3,377.8 286.9,377.7 288.5,377.7 290.1,377.7 291.7,377.8 293.3,378.0 294.8,378.2 296.4,378.4 298.0,378.8 299.6,379.2 301.2,379.8 302.8,380.4 304.3,381.2 305.9,382.1 307.5,383.1 309.1,384.3 310.7,385.6 312.3,387.1 313.8,388.8 315.4,390.6 317.0,392.7 318.6,395.0 320.2,397.6 321.8,400.3 323.3,403.3 324.9,406.4 326.5,409.8 328.1,413.3 329.7,417.0 331.3,420.7 332.8,424.5 334.4,428.3 336.0,432.0 337.6,435.7 339.2,439.1 340.8,442.4 342.3,445.5 343.9,448.3 345.5,450.9 347.1,453.3 348.7,455.4 350.3,457.2 351.9,458.8 353.4,460.3 355.0,461.5 356.6,462.6 358.2,463.5 359.8,464.2 361.4,464.3 362.9,464.3 364.5,464.3 366.1,464.3 367.7,464.3 369.3,464.3 370.9,464.3 372.4,464.3 374.0,464.3 375.6,464.3 377.2,464.3 378.8,464.3 380.4,464.3 381.9,464.3 383.5,464.3 385.1,464.3 386.7,464.3 388.3,464.3 389.9,464.3 391.4,464.3 393.0,464.3 394.6,464.3 396.2,464.3" fill="none" stroke="#b04040" stroke-width="1.05"/>
<path d="M239.4,369.9 241.0,368.9 242.6,367.9 244.2,366.9 245.7,365.9 247.3,365.0 248.9,364.1 250.5,363.2 252.1,362.4 253.7,361.6 255.2,360.8 256.8,360.1 258.4,359.4 260.0,358.7 261.6,358.0 263.2,357.4 264.7,356.8 266.3,356.2 267.9,355.7 269.5,355.2 271.1,354.8 272.7,354.4 274.2,354.0 275.8,353.7 277.4,353.4 279.0,353.2 280.6,353.1 282.2,353.0 283.7,353.0 285.3,353.1 286.9,353.3 288.5,353.6 290.1,353.9 291.7,354.4 293.3,355.0 294.8,355.8 296.4,356.7 298.0,357.7 299.6,358.9 301.2,360.4 302.8,362.0 304.3,363.9 305.9,366.0 307.5,368.4 309.1,371.0 310.7,373.9 312.3,377.0 313.8,380.4 315.4,384.0 317.0,387.8 318.6,391.9 320.2,396.0 321.8,400.4 323.3,404.7 324.9,409.1 326.5,413.5 328.1,417.9 329.7,422.1 331.3,426.2 332.8,430.1 334.4,433.8 336.0,437.3 337.6,440.6 339.2,443.6 340.8,446.3 342.3,448.9 343.9,451.1 345.5,453.2 347.1,455.0 348.7,456.6 350.3,458.1 351.9,459.3 353.4,460.5 355.0,461.5 356.6,462.3 358.2,463.1 359.8,463.7 361.4,464.3 362.9,464.3 364.5,464.3 366.1,464.3 367.7,464.3 369.3,464.3 370.9,464.3 372.4,464.3 374.0,464.3 375.6,464.3 377.2,464.3 378.8,464.3 380.4,464.3 381.9,464.3 383.5,464.3 385.1,464.3 386.7,464.3 388.3,464.3 389.9,464.3 391.4,464.3 393.0,464.3 394.6,464.3 396.2,464.3" fill="none" stroke="#383838" stroke-width="1.05" stroke-dasharray="1,1"/>
<path d="M239.4,369.9 241.0,368.9 242.6,367.9 244.2,366.9 245.7,366.0 247.3,365.0 248.9,364.1 250.5,363.3 252.1,362.4 253.7,361.6 255.2,360.8 256.8,360.1 258.4,359.4 260.0,358.7 261.6,358.0 263.2,357.4 264.7,356.8 266.3,356.3 267.9,355.7 269.5,355.2 271.1,354.8 272.7,354.4 274.2,354.0 275.8,353.7 277.4,353.4 279.0,353.2 280.6,353.1 282.2,353.0 283.7,353.0 285.3,353.1 286.9,353.3 288.5,353.6 290.1,353.9 291.7,354.4 293.3,355.0 294.8,355.8 296.4,356.7 298.0,357.7 299.6,359.0 301.2,360.4 302.8,362.0 304.3,363.9 305.9,366.0 307.5,368.4 309.1,371.0 310.7,373.9 312.3,377.0 313.8,380.4 315.4,384.0 317.0,387.8 318.6,391.9 320.2,396.0 321.8,400.4 323.3,404.7 324.9,409.2 326.5,413.6 328.1,417.9 329.7,422.1 331.3,426.2 332.8,430.1 334.4,433.8 336.0,437.3 337.6,440.6 339.2,443.6 340.8,446.3 342.3,448.9 343.9,451.1 345.5,453.2 347.1,455.0 348.7,456.6 350.3,458.1 351.9,459.3 353.4,460.5 355.0,461.5 356.6,462.3 358.2,463.1 359.8,463.7 361.4,464.3 362.9,464.3 364.5,464.3 366.1,464.3 367.7,464.3 369.3,464.3 370.9,464.3 372.4,464.3 374.0,464.3 375.6,464.3 377.2,464.3 378.8,464.3 380.4,464.3 381.9,464.3 383.5,464.3 385.1,464.3 386.7,464.3 388.3,464.3 389.9,464.3 391.4,464.3 393.0,464.3 394.6,464.3 396.2,464.3" fill="none" stroke="#ff2a2a" stroke-width="1.05" stroke-dasharray="1,1"/>
<path d="M239.4,370.0 241.0,368.9 242.6,367.9 244.2,366.9 245.7,366.0 247.3,365.0 248.9,364.1 250.5,363.3 252.1,362.4 253.7,361.6 255.2,360.8 256.8,360.1 258.4,359.4 260.0,358.7 261.6,358.1 263.2,357.4 264.7,356.8 266.3,356.3 267.9,355.7 269.5,355.2 271.1,354.8 272.7,354.4 274.2,354.0 275.8,353.7 277.4,353.4 279.0,353.3 280.6,353.1 282.2,353.0 283.7,353.1 285.3,353.1 286.9,353.3 288.5,353.6 290.1,353.9 291.7,354.4 293.3,355.0 294.8,355.8 296.4,356.7 298.0,357.7 299.6,359.0 301.2,360.4 302.8,362.0 304.3,363.9 305.9,366.0 307.5,368.4 309.1,371.0 310.7,373.9 312.3,377.0 313.8,380.4 315.4,384.0 317.0,387.8 318.6,391.9 320.2,396.1 321.8,400.4 323.3,404.7 324.9,409.2 326.5,413.6 328.1,417.9 329.7,422.1 331.3,426.2 332.8,430.1 334.4,433.8 336.0,437.3 337.6,440.6 339.2,443.6 340.8,446.3 342.3,448.9 343.9,451.1 345.5,453.2 347.1,455.0 348.7,456.6 350.3,458.1 351.9,459.3 353.4,460.5 355.0,461.5 356.6,462.3 358.2,463.1 359.8,463.7 361.4,464.3 362.9,464.3 364.5,464.3 366.1,464.3 367.7,464.3 369.3,464.3 370.9,464.3 372.4,464.3 374.0,464.3 375.6,464.3 377.2,464.3 378.8,464.3 380.4,464.3 381.9,464.3 383.5,464.3 385.1,464.3 386.7,464.3 388.3,464.3 389.9,464.3 391.4,464.3 393.0,464.3 394.6,464.3 396.2,464.3" fill="none" stroke="#22cc22" stroke-width="1.05" stroke-dasharray="1,1"/>
<path d="M239.4,370.0 241.0,369.0 242.6,368.0 244.2,367.0 245.7,366.0 247.3,365.1 248.9,364.2 250.5,363.3 252.1,362.5 253.7,361.7 255.2,360.9 256.8,360.1 258.4,359.4 260.0,358.8 261.6,358.1 263.2,357.5 264.7,356.9 266.3,356.3 267.9,355.8 269.5,355.3 271.1,354.8 272.7,354.4 274.2,354.0 275.8,353.7 277.4,353.5 279.0,353.3 280.6,353.1 282.2,353.1 283.7,353.1 285.3,353.2 286.9,353.3 288.5,353.6 290.1,354.0 291.7,354.4 293.3,355.0 294.8,355.8 296.4,356.7 298.0,357.7 299.6,359.0 301.2,360.4 302.8,362.1 304.3,363.9 305.9,366.0 307.5,368.4 309.1,371.0 310.7,373.9 312.3,377.0 313.8,380.4 315.4,384.0 317.0,387.9 318.6,391.9 320.2,396.1 321.8,400.4 323.3,404.8 324.9,409.2 326.5,413.6 328.1,417.9 329.7,422.1 331.3,426.2 332.8,430.1 334.4,433.8 336.0,437.3 337.6,440.6 339.2,443.6 340.8,446.4 342.3,448.9 343.9,451.2 345.5,453.2 347.1,455.0 348.7,456.6 350.3,458.1 351.9,459.4 353.4,460.5 355.0,461.5 356.6,462.3 358.2,463.1 359.8,463.7 361.4,464.3 362.9,464.3 364.5,464.3 366.1,464.3 367.7,464.3 369.3,464.3 370.9,464.3 372.4,464.3 374.0,464.3 375.6,464.3 377.2,464.3 378.8,464.3 380.4,464.3 381.9,464.3 383.5,464.3 385.1,464.3 386.7,464.3 388.3,464.3 389.9,464.3 391.4,464.3 393.0,464.3 394.6,464.3 396.2,464.3" fill="none" stroke="#3a3aff" stroke-width="1.05" stroke-dasharray="1,1"/>
<path d="M239.4,370.1 241.0,369.1 242.6,368.1 244.2,367.1 245.7,366.1 247.3,365.2 248.9,364.3 250.5,363.4 252.1,362.6 253.7,361.7 255.2,361.0 256.8,360.2 258.4,359.5 260.0,358.8 261.6,358.2 263.2,357.5 264.7,356.9 266.3,356.4 267.9,355.8 269.5,355.3 271.1,354.9 272.7,354.4 274.2,354.1 275.8,353.8 277.4,353.5 279.0,353.3 280.6,353.2 282.2,353.1 283.7,353.1 285.3,353.2 286.9,353.4 288.5,353.6 290.1,354.0 291.7,354.5 293.3,355.1 294.8,355.8 296.4,356.7 298.0,357.8 299.6,359.0 301.2,360.4 302.8,362.1 304.3,364.0 305.9,366.1 307.5,368.4 309.1,371.0 310.7,373.9 312.3,377.0 313.8,380.4 315.4,384.0 317.0,387.9 318.6,391.9 320.2,396.1 321.8,400.4 323.3,404.8 324.9,409.2 326.5,413.6 328.1,417.9 329.7,422.2 331.3,426.2 332.8,430.2 334.4,433.9 336.0,437.3 337.6,440.6 339.2,443.6 340.8,446.4 342.3,448.9 343.9,451.2 345.5,453.2 347.1,455.0 348.7,456.7 350.3,458.1 351.9,459.4 353.4,460.5 355.0,461.5 356.6,462.3 358.2,463.1 359.8,463.7 361.4,464.3 362.9,464.3 364.5,464.3 366.1,464.3 367.7,464.3 369.3,464.3 370.9,464.3 372.4,464.3 374.0,464.3 375.6,464.3 377.2,464.3 378.8,464.3 380.4,464.3 381.9,464.3 383.5,464.3 385.1,464.3 386.7,464.3 388.3,464.3 389.9,464.3 391.4,464.3 393.0,464.3 394.6,464.3 396.2,464.3" fill="none" stroke="#10d8e8" stroke-width="1.05" stroke-dasharray="1,1"/>
<path d="M239.4,370.4 241.0,369.3 242.6,368.3 244.2,367.3 245.7,366.3 247.3,365.4 248.9,364.5 250.5,363.6 252.1,362.7 253.7,361.9 255.2,361.1 256.8,360.4 258.4,359.6 260.0,359.0 261.6,358.3 263.2,357.6 264.7,357.0 266.3,356.5 267.9,355.9 269.5,355.4 271.1,355.0 272.7,354.5 274.2,354.2 275.8,353.9 277.4,353.6 279.0,353.4 280.6,353.3 282.2,353.2 283.7,353.2 285.3,353.3 286.9,353.4 288.5,353.7 290.1,354.1 291.7,354.5 293.3,355.1 294.8,355.9 296.4,356.8 298.0,357.8 299.6,359.1 301.2,360.5 302.8,362.1 304.3,364.0 305.9,366.1 307.5,368.5 309.1,371.1 310.7,374.0 312.3,377.1 313.8,380.5 315.4,384.1 317.0,387.9 318.6,392.0 320.2,396.2 321.8,400.5 323.3,404.8 324.9,409.3 326.5,413.6 328.1,418.0 329.7,422.2 331.3,426.3 332.8,430.2 334.4,433.9 336.0,437.4 337.6,440.6 339.2,443.6 340.8,446.4 342.3,448.9 343.9,451.2 345.5,453.2 347.1,455.1 348.7,456.7 350.3,458.1 351.9,459.4 353.4,460.5 355.0,461.5 356.6,462.3 358.2,463.1 359.8,463.8 361.4,464.3 362.9,464.3 364.5,464.3 366.1,464.3 367.7,464.3 369.3,464.3 370.9,464.3 372.4,464.3 374.0,464.3 375.6,464.3 377.2,464.3 378.8,464.3 380.4,464.3 381.9,464.3 383.5,464.3 385.1,464.3 386.7,464.3 388.3,464.3 389.9,464.3 391.4,464.3 393.0,464.3 394.6,464.3 396.2,464.3" fill="none" stroke="#ff30ff" stroke-width="1.05" stroke-dasharray="1,1"/>
<path d="M239.4,370.9 241.0,369.9 242.6,368.8 244.2,367.8 245.7,366.8 247.3,365.9 248.9,364.9 250.5,364.0 252.1,363.2 253.7,362.3 255.2,361.5 256.8,360.8 258.4,360.0 260.0,359.3 261.6,358.6 263.2,358.0 264.7,357.4 266.3,356.8 267.9,356.2 269.5,355.7 271.1,355.3 272.7,354.8 274.2,354.5 275.8,354.1 277.4,353.9 279.0,353.7 280.6,353.5 282.2,353.4 283.7,353.4 285.3,353.5 286.9,353.7 288.5,353.9 290.1,354.3 291.7,354.8 293.3,355.4 294.8,356.1 296.4,357.0 298.0,358.1 299.6,359.3 301.2,360.7 302.8,362.4 304.3,364.3 305.9,366.4 307.5,368.7 309.1,371.4 310.7,374.2 312.3,377.4 313.8,380.7 315.4,384.4 317.0,388.2 318.6,392.2 320.2,396.4 321.8,400.7 323.3,405.1 324.9,409.5 326.5,413.9 328.1,418.2 329.7,422.4 331.3,426.5 332.8,430.4 334.4,434.1 336.0,437.6 337.6,440.8 339.2,443.8 340.8,446.6 342.3,449.1 343.9,451.3 345.5,453.4 347.1,455.2 348.7,456.8 350.3,458.2 351.9,459.5 353.4,460.6 355.0,461.6 356.6,462.4 358.2,463.2 359.8,463.8 361.4,464.3 362.9,464.3 364.5,464.3 366.1,464.3 367.7,464.3 369.3,464.3 370.9,464.3 372.4,464.3 374.0,464.3 375.6,464.3 377.2,464.3 378.8,464.3 380.4,464.3 381.9,464.3 383.5,464.3 385.1,464.3 386.7,464.3 388.3,464.3 389.9,464.3 391.4,464.3 393.0,464.3 394.6,464.3 396.2,464.3" fill="none" stroke="#ffa040" stroke-width="1.05" stroke-dasharray="1,1"/>
<path d="M239.4,371.7 241.0,370.7 242.6,369.6 244.2,368.6 245.7,367.6 247.3,366.6 248.9,365.6 250.5,364.7 252.1,363.8 253.7,363.0 255.2,362.2 256.8,361.4 258.4,360.6 260.0,359.9 261.6,359.2 263.2,358.6 264.7,357.9 266.3,357.3 267.9,356.8 269.5,356.2 271.1,355.8 272.7,355.3 274.2,354.9 275.8,354.6 277.4,354.3 279.0,354.1 280.6,354.0 282.2,353.9 283.7,353.9 285.3,353.9 286.9,354.1 288.5,354.4 290.1,354.7 291.7,355.2 293.3,355.8 294.8,356.6 296.4,357.5 298.0,358.5 299.6,359.8 301.2,361.2 302.8,362.9 304.3,364.8 305.9,366.9 307.5,369.2 309.1,371.9 310.7,374.7 312.3,377.9 313.8,381.3 315.4,384.9 317.0,388.7 318.6,392.7 320.2,396.9 321.8,401.2 323.3,405.6 324.9,410.0 326.5,414.4 328.1,418.7 329.7,422.9 331.3,426.9 332.8,430.8 334.4,434.5 336.0,437.9 337.6,441.1 339.2,444.1 340.8,446.9 342.3,449.4 343.9,451.6 345.5,453.6 347.1,455.4 348.7,457.0 350.3,458.4 351.9,459.7 353.4,460.8 355.0,461.7 356.6,462.6 358.2,463.3 359.8,463.9 361.4,464.3 362.9,464.3 364.5,464.3 366.1,464.3 367.7,464.3 369.3,464.3 370.9,464.3 372.4,464.3 374.0,464.3 375.6,464.3 377.2,464.3 378.8,464.3 380.4,464.3 381.9,464.3 383.5,464.3 385.1,464.3 386.7,464.3 388.3,464.3 389.9,464.3 391.4,464.3 393.0,464.3 394.6,464.3 396.2,464.3" fill="none" stroke="#a8a040" stroke-width="1.05" stroke-dasharray="1,1"/>
<path d="M239.4,373.0 241.0,371.9 242.6,370.9 244.2,369.8 245.7,368.8 247.3,367.8 248.9,366.8 250.5,365.9 252.1,365.0 253.7,364.1 255.2,363.3 256.8,362.5 258.4,361.7 260.0,361.0 261.6,360.3 263.2,359.6 264.7,358.9 266.3,358.3 267.9,357.7 269.5,357.2 271.1,356.7 272.7,356.3 274.2,355.9 275.8,355.5 277.4,355.3 279.0,355.0 280.6,354.9 282.2,354.8 283.7,354.8 285.3,354.9 286.9,355.1 288.5,355.3 290.1,355.7 291.7,356.2 293.3,356.8 294.8,357.6 296.4,358.5 298.0,359.6 299.6,360.9 301.2,362.3 302.8,364.0 304.3,365.9 305.9,368.0 307.5,370.4 309.1,373.1 310.7,376.0 312.3,379.1 313.8,382.5 315.4,386.1 317.0,390.0 318.6,394.0 320.2,398.2 321.8,402.4 323.3,406.8 324.9,411.2 326.5,415.5 328.1,419.8 329.7,423.9 331.3,428.0 332.8,431.8 334.4,435.4 336.0,438.8 337.6,442.0 339.2,444.9 340.8,447.6 342.3,450.0 343.9,452.2 345.5,454.2 347.1,455.9 348.7,457.5 350.3,458.9 351.9,460.1 353.4,461.1 355.0,462.1 356.6,462.9 358.2,463.6 359.8,464.2 361.4,464.3 362.9,464.3 364.5,464.3 366.1,464.3 367.7,464.3 369.3,464.3 370.9,464.3 372.4,464.3 374.0,464.3 375.6,464.3 377.2,464.3 378.8,464.3 380.4,464.3 381.9,464.3 383.5,464.3 385.1,464.3 386.7,464.3 388.3,464.3 389.9,464.3 391.4,464.3 393.0,464.3 394.6,464.3 396.2,464.3" fill="none" stroke="#4848b0" stroke-width="1.05" stroke-dasharray="1,1"/>
<path d="M239.4,375.5 241.0,374.5 242.6,373.4 244.2,372.4 245.7,371.3 247.3,370.4 248.9,369.4 250.5,368.5 252.1,367.6 253.7,366.7 255.2,365.9 256.8,365.1 258.4,364.3 260.0,363.6 261.6,362.9 263.2,362.2 264.7,361.6 266.3,361.0 267.9,360.4 269.5,359.9 271.1,359.4 272.7,359.0 274.2,358.6 275.8,358.3 277.4,358.1 279.0,357.9 280.6,357.8 282.2,357.8 283.7,357.8 285.3,358.0 286.9,358.2 288.5,358.6 290.1,359.0 291.7,359.6 293.3,360.3 294.8,361.1 296.4,362.1 298.0,363.3 299.6,364.7 301.2,366.2 302.8,368.0 304.3,370.0 305.9,372.2 307.5,374.7 309.1,377.4 310.7,380.4 312.3,383.6 313.8,387.0 315.4,390.6 317.0,394.5 318.6,398.5 320.2,402.6 321.8,406.8 323.3,411.1 324.9,415.3 326.5,419.6 328.1,423.7 329.7,427.7 331.3,431.6 332.8,435.2 334.4,438.6 336.0,441.8 337.6,444.8 339.2,447.6 340.8,450.1 342.3,452.3 343.9,454.3 345.5,456.1 347.1,457.7 348.7,459.1 350.3,460.3 351.9,461.4 353.4,462.3 355.0,463.2 356.6,463.9 358.2,464.3 359.8,464.3 361.4,464.3 362.9,464.3 364.5,464.3 366.1,464.3 367.7,464.3 369.3,464.3 370.9,464.3 372.4,464.3 374.0,464.3 375.6,464.3 377.2,464.3 378.8,464.3 380.4,464.3 381.9,464.3 383.5,464.3 385.1,464.3 386.7,464.3 388.3,464.3 389.9,464.3 391.4,464.3 393.0,464.3 394.6,464.3 396.2,464.3" fill="none" stroke="#b848b8" stroke-width="1.05" stroke-dasharray="1,1"/>
<path d="M239.4,378.2 241.0,377.2 242.6,376.2 244.2,375.2 245.7,374.3 247.3,373.3 248.9,372.4 250.5,371.5 252.1,370.7 253.7,369.9 255.2,369.1 256.8,368.4 258.4,367.7 260.0,367.1 261.6,366.4 263.2,365.9 264.7,365.3 266.3,364.8 267.9,364.3 269.5,363.9 271.1,363.5 272.7,363.2 274.2,363.0 275.8,362.8 277.4,362.7 279.0,362.6 280.6,362.7 282.2,362.8 283.7,363.0 285.3,363.3 286.9,363.7 288.5,364.2 290.1,364.9 291.7,365.6 293.3,366.5 294.8,367.6 296.4,368.8 298.0,370.2 299.6,371.7 301.2,373.5 302.8,375.4 304.3,377.6 305.9,379.9 307.5,382.5 309.1,385.4 310.7,388.4 312.3,391.7 313.8,395.1 315.4,398.7 317.0,402.5 318.6,406.4 320.2,410.4 321.8,414.4 323.3,418.5 324.9,422.5 326.5,426.4 328.1,430.3 329.7,433.9 331.3,437.4 332.8,440.7 334.4,443.8 336.0,446.6 337.6,449.2 339.2,451.6 340.8,453.7 342.3,455.6 343.9,457.3 345.5,458.8 347.1,460.1 348.7,461.3 350.3,462.3 351.9,463.1 353.4,463.9 355.0,464.3 356.6,464.3 358.2,464.3 359.8,464.3 361.4,464.3 362.9,464.3 364.5,464.3 366.1,464.3 367.7,464.3 369.3,464.3 370.9,464.3 372.4,464.3 374.0,464.3 375.6,464.3 377.2,464.3 378.8,464.3 380.4,464.3 381.9,464.3 383.5,464.3 385.1,464.3 386.7,464.3 388.3,464.3 389.9,464.3 391.4,464.3 393.0,464.3 394.6,464.3 396.2,464.3" fill="none" stroke="#b04040" stroke-width="1.05" stroke-dasharray="1,1"/>
</g>
<text x="301.10" y="318.80" font-size="7.60" fill="#111" stroke="#111" stroke-width="0.25" text-anchor="start"><tspan font-size="7.60" font-style="italic">N</tspan><tspan font-size="4.56" dy="2.74" stroke-width="0.08">tr</tspan><tspan font-size="7.60" dy="-2.74">=&#160;10</tspan><tspan font-size="3.95" dy="-3.42" stroke-width="0.08">13</tspan><tspan font-size="7.60" dy="3.42">cm</tspan><tspan font-size="3.95" dy="-3.42" stroke-width="0.08">-3</tspan><tspan font-size="7.60" dy="3.42">&#160;(</tspan><tspan font-size="7.60" font-style="italic">τ</tspan><tspan font-size="4.56" dy="2.74" stroke-width="0.08">SRH</tspan><tspan font-size="7.60" dy="-2.74">&#160;=&#160;1&#160;µs)</tspan></text>
<line x1="303.60" y1="329.80" x2="318.50" y2="329.80" stroke="#3a3a3a" stroke-width="1"/>
<text x="322.20" y="332.50" font-size="7.60" fill="#111" stroke="#111" stroke-width="0.25" text-anchor="start"><tspan font-size="7.60" font-style="italic">N</tspan><tspan font-size="4.56" dy="2.74" stroke-width="0.08">D</tspan><tspan font-size="7.60" dy="-2.74">=10</tspan><tspan font-size="3.95" dy="-3.42" stroke-width="0.08">16</tspan><tspan font-size="7.60" dy="3.42">cm</tspan><tspan font-size="3.95" dy="-3.42" stroke-width="0.08">-3</tspan></text>
<line x1="303.60" y1="342.60" x2="318.50" y2="342.60" stroke="#3a3a3a" stroke-width="1" stroke-dasharray="1,1"/>
<text x="322.20" y="345.20" font-size="7.60" fill="#111" stroke="#111" stroke-width="0.25" text-anchor="start"><tspan font-size="7.60" font-style="italic">N</tspan><tspan font-size="4.56" dy="2.74" stroke-width="0.08">D</tspan><tspan font-size="7.60" dy="-2.74">=10</tspan><tspan font-size="3.95" dy="-3.42" stroke-width="0.08">18</tspan><tspan font-size="7.60" dy="3.42">cm</tspan><tspan font-size="3.95" dy="-3.42" stroke-width="0.08">-3</tspan></text>
<path d="M239.40,414.30 v-2.2 M256.89,414.30 v-1.2 M267.12,414.30 v-1.2 M274.38,414.30 v-1.2 M280.01,414.30 v-1.2 M284.61,414.30 v-1.2 M288.50,414.30 v-1.2 M291.87,414.30 v-1.2 M294.84,414.30 v-1.2 M297.50,414.30 v-2.2 M314.98,414.30 v-1.2 M325.22,414.30 v-1.2 M332.47,414.30 v-1.2 M338.10,414.30 v-1.2 M342.70,414.30 v-1.2 M346.59,414.30 v-1.2 M349.96,414.30 v-1.2 M352.93,414.30 v-1.2 M355.59,414.30 v-2.2 M373.08,414.30 v-1.2 M383.31,414.30 v-1.2 M390.57,414.30 v-1.2 M396.20,414.30 v-1.2 M239.40,306.80 v1.8 M256.89,306.80 v1.8 M267.12,306.80 v1.8 M274.38,306.80 v1.8 M280.01,306.80 v1.8 M297.50,306.80 v1.8 M314.98,306.80 v1.8 M325.22,306.80 v1.8 M332.47,306.80 v1.8 M338.10,306.80 v1.8 M355.59,306.80 v1.8 M373.08,306.80 v1.8 M383.31,306.80 v1.8 M390.57,306.80 v1.8 M396.20,306.80 v1.8 M239.40,414.30 h3 M396.20,414.30 h-3 M239.40,387.43 h3 M396.20,387.43 h-3 M239.40,360.55 h3 M396.20,360.55 h-3 M239.40,333.68 h3 M396.20,333.68 h-3 M239.40,400.86 h2 M396.20,400.86 h-2 M239.40,373.99 h2 M396.20,373.99 h-2 M239.40,347.11 h2 M396.20,347.11 h-2 M239.40,320.24 h2 M396.20,320.24 h-2" stroke="#787878" stroke-width="0.9" fill="none"/>
<rect x="239.40" y="306.80" width="156.80" height="107.50" fill="none" stroke="#787878" stroke-width="1.0"/>
<text x="239.40" y="423.90" font-size="8.40" text-anchor="middle" fill="#111" stroke="#111" stroke-width="0.25">1</text>
<text x="297.50" y="423.90" font-size="8.40" text-anchor="middle" fill="#111" stroke="#111" stroke-width="0.25">10</text>
<text x="355.59" y="423.90" font-size="8.40" text-anchor="middle" fill="#111" stroke="#111" stroke-width="0.25">100</text>
<text x="239.40" y="305.90" font-size="7.80" text-anchor="middle" fill="#111" stroke="#111" stroke-width="0.25">28.1</text>
<text x="256.89" y="305.90" font-size="7.80" text-anchor="middle" fill="#111" stroke="#111" stroke-width="0.25">31.8</text>
<text x="280.01" y="305.90" font-size="7.80" text-anchor="middle" fill="#111" stroke="#111" stroke-width="0.25">35.4</text>
<text x="297.50" y="305.90" font-size="7.80" text-anchor="middle" fill="#111" stroke="#111" stroke-width="0.25">37.3</text>
<text x="314.98" y="305.90" font-size="7.80" text-anchor="middle" fill="#111" stroke="#111" stroke-width="0.25">38.8</text>
<text x="338.10" y="305.90" font-size="7.80" text-anchor="middle" fill="#111" stroke="#111" stroke-width="0.25">40.5</text>
<text x="355.59" y="305.90" font-size="7.80" text-anchor="middle" fill="#111" stroke="#111" stroke-width="0.25">41.5</text>
<text x="373.08" y="305.90" font-size="7.80" text-anchor="middle" fill="#111" stroke="#111" stroke-width="0.25">42.3</text>
<text x="396.20" y="305.90" font-size="7.80" text-anchor="middle" fill="#111" stroke="#111" stroke-width="0.25">42.8</text>
<text x="300.30" y="298.40" font-size="7.80" fill="#111" stroke="#111" stroke-width="0.25" text-anchor="start"><tspan font-size="7.80" font-style="italic">j</tspan><tspan font-size="4.68" dy="2.81" stroke-width="0.08">ph</tspan><tspan font-size="7.80" dy="-2.81">&#160;(mA/cm</tspan><tspan font-size="4.06" dy="-3.51" stroke-width="0.08">2</tspan><tspan font-size="7.80" dy="3.51">)</tspan></text>
<text x="236.90" y="417.40" font-size="8.60" text-anchor="end" fill="#111" stroke="#111" stroke-width="0.25">10</text>
<text x="236.90" y="390.53" font-size="8.60" text-anchor="end" fill="#111" stroke="#111" stroke-width="0.25">15</text>
<text x="236.90" y="363.65" font-size="8.60" text-anchor="end" fill="#111" stroke="#111" stroke-width="0.25">20</text>
<text x="236.90" y="336.78" font-size="8.60" text-anchor="end" fill="#111" stroke="#111" stroke-width="0.25">25</text>
<text x="317.80" y="432.80" font-size="9.20" text-anchor="middle" fill="#111" stroke="#111" stroke-width="0.25">absorber thickness (&#181;m)</text>
<text transform="translate(219.00,356.85) rotate(-90)" font-size="9.80" text-anchor="middle" fill="#111" stroke="#111" stroke-width="0.25"><tspan font-style="italic">&#951;</tspan> (%)</text>
<text x="209.80" y="431.60" font-size="11.20" text-anchor="start" fill="#111" stroke="#111" stroke-width="0.25">f)</text>
<text x="194.30" y="171.25" font-size="8.20" text-anchor="middle" fill="#ff2a2a" stroke="#ff2a2a" stroke-width="0.25">1</text>
<text x="198.50" y="175.65" font-size="8.20" text-anchor="middle" fill="#22cc22" stroke="#22cc22" stroke-width="0.25">2</text>
<text x="194.30" y="178.95" font-size="8.20" text-anchor="middle" fill="#3a3aff" stroke="#3a3aff" stroke-width="0.25">5</text>
</svg></body></html>
